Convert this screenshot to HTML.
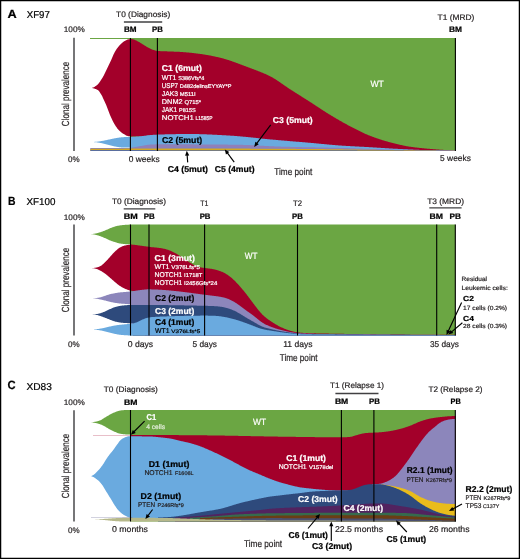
<!DOCTYPE html>
<html><head><meta charset="utf-8"><style>
html,body{margin:0;padding:0;background:#fff;}
body{width:520px;height:559px;overflow:hidden;position:relative;}
svg{position:absolute;left:0;top:0;will-change:transform;}
text{font-family:"Liberation Sans", sans-serif;text-rendering:geometricPrecision;}
</style></head><body>
<svg width="520" height="559" viewBox="0 0 520 559">
<rect x="0" y="0" width="520" height="559" fill="#fff"/>
<g shape-rendering="geometricPrecision">
<polygon points="90.00,38.00 455.50,38.00 455.50,151.00 130.00,151.00 130.00,39.10 90.00,39.10" fill="#6ba643" />
<polygon points="90.90,88.00 91.38,87.97 91.87,87.90 92.35,87.78 92.84,87.62 93.32,87.43 93.81,87.20 94.29,86.94 94.78,86.66 95.26,86.35 95.75,86.03 96.23,85.70 96.72,85.35 97.20,85.00 97.67,84.60 98.15,84.09 98.62,83.51 99.10,82.86 99.58,82.16 100.05,81.44 100.53,80.71 101.00,80.00 101.50,79.25 102.00,78.46 102.50,77.64 103.00,76.79 103.50,75.91 104.00,75.00 104.48,74.07 104.96,73.08 105.44,72.05 105.92,71.02 106.40,70.00 106.88,69.00 107.36,68.00 107.84,67.00 108.32,66.00 108.80,65.00 109.28,64.01 109.76,63.03 110.24,62.05 110.72,61.04 111.20,60.00 111.62,59.02 112.04,57.99 112.46,56.94 112.88,55.93 113.30,55.00 113.75,54.07 114.20,53.17 114.65,52.31 115.10,51.49 115.55,50.72 116.00,50.00 116.49,49.27 116.97,48.56 117.46,47.89 117.95,47.25 118.44,46.64 118.93,46.06 119.41,45.51 119.90,45.00 120.38,44.52 120.86,44.05 121.34,43.59 121.82,43.15 122.30,42.73 122.78,42.33 123.26,41.96 123.74,41.61 124.22,41.29 124.70,41.00 125.19,40.73 125.67,40.46 126.16,40.20 126.65,39.96 127.14,39.75 127.62,39.56 128.11,39.41 128.60,39.30 129.08,39.21 129.56,39.13 130.04,39.06 130.52,39.02 131.00,39.00 131.50,39.03 132.00,39.10 132.50,39.20 133.00,39.32 133.50,39.46 134.00,39.60 134.50,39.75 135.00,39.94 135.50,40.15 136.00,40.38 136.50,40.62 137.00,40.88 137.50,41.14 138.00,41.40 138.50,41.67 139.00,41.96 139.50,42.26 140.00,42.57 140.50,42.89 141.00,43.22 141.50,43.55 142.00,43.87 142.50,44.19 143.00,44.50 143.50,44.81 144.00,45.12 144.50,45.43 145.00,45.75 145.50,46.06 146.00,46.36 146.50,46.66 147.00,46.95 147.50,47.23 148.00,47.50 148.50,47.76 149.00,48.02 149.50,48.28 150.00,48.53 150.50,48.78 151.00,49.01 151.50,49.24 152.00,49.44 152.50,49.63 153.00,49.80 153.50,49.96 154.00,50.11 154.50,50.27 155.00,50.41 155.50,50.55 156.00,50.68 156.50,50.79 157.00,50.88 157.50,50.95 158.00,51.00 158.50,51.04 159.00,51.07 159.50,51.10 160.00,51.12 160.50,51.15 161.00,51.17 161.50,51.19 162.00,51.21 162.50,51.23 163.00,51.24 163.50,51.26 164.00,51.27 164.50,51.29 165.00,51.30 165.50,51.32 166.00,51.33 166.50,51.35 167.00,51.36 167.50,51.38 168.00,51.40 168.50,51.42 169.00,51.44 169.50,51.46 170.00,51.48 170.50,51.50 171.00,51.51 171.50,51.53 172.00,51.55 172.50,51.57 173.00,51.59 173.50,51.61 174.00,51.63 174.50,51.65 175.00,51.66 175.50,51.68 176.00,51.71 176.50,51.73 177.00,51.75 177.50,51.77 178.00,51.80 178.50,51.82 179.00,51.85 179.50,51.87 180.00,51.90 180.50,51.93 181.00,51.96 181.50,51.99 182.00,52.02 182.50,52.06 183.00,52.09 183.50,52.13 184.00,52.17 184.50,52.21 185.00,52.25 185.50,52.29 186.00,52.33 186.50,52.38 187.00,52.42 187.50,52.47 188.00,52.52 188.50,52.56 189.00,52.61 189.50,52.66 190.00,52.71 190.50,52.77 191.00,52.82 191.50,52.87 192.00,52.93 192.50,52.98 193.00,53.04 193.50,53.10 194.00,53.15 194.50,53.21 195.00,53.27 195.50,53.33 196.00,53.39 196.50,53.45 197.00,53.52 197.50,53.58 198.00,53.64 198.50,53.71 199.00,53.77 199.50,53.83 200.00,53.90 200.50,53.97 201.00,54.03 201.50,54.10 202.00,54.18 202.50,54.25 203.00,54.32 203.50,54.40 204.00,54.48 204.50,54.56 205.00,54.64 205.50,54.72 206.00,54.80 206.50,54.89 207.00,54.98 207.50,55.06 208.00,55.15 208.50,55.25 209.00,55.34 209.50,55.43 210.00,55.53 210.50,55.62 211.00,55.72 211.50,55.82 212.00,55.92 212.50,56.02 213.00,56.13 213.50,56.23 214.00,56.34 214.50,56.45 215.00,56.55 215.50,56.66 216.00,56.77 216.50,56.89 217.00,57.00 217.50,57.11 218.00,57.23 218.50,57.34 219.00,57.46 219.50,57.58 220.00,57.70 220.50,57.82 221.00,57.95 221.50,58.07 222.00,58.20 222.50,58.34 223.00,58.47 223.50,58.61 224.00,58.75 224.50,58.89 225.00,59.04 225.50,59.18 226.00,59.33 226.50,59.48 227.00,59.64 227.50,59.79 228.00,59.95 228.50,60.11 229.00,60.27 229.50,60.44 230.00,60.60 230.50,60.77 231.00,60.94 231.50,61.11 232.00,61.28 232.50,61.45 233.00,61.63 233.50,61.80 234.00,61.98 234.50,62.16 235.00,62.34 235.50,62.52 236.00,62.70 236.50,62.89 237.00,63.07 237.50,63.26 238.00,63.44 238.50,63.63 239.00,63.82 239.50,64.00 240.00,64.19 240.50,64.38 241.00,64.57 241.50,64.76 242.00,64.95 242.50,65.14 243.00,65.33 243.50,65.52 244.00,65.72 244.50,65.91 245.00,66.10 245.50,66.29 246.00,66.48 246.50,66.67 247.00,66.86 247.50,67.05 248.00,67.24 248.50,67.43 249.00,67.62 249.50,67.81 250.00,68.00 250.50,68.19 251.00,68.37 251.50,68.56 252.00,68.75 252.50,68.93 253.00,69.12 253.50,69.31 254.00,69.49 254.50,69.68 255.00,69.87 255.50,70.05 256.00,70.24 256.50,70.43 257.00,70.62 257.50,70.81 258.00,71.00 258.50,71.20 259.00,71.39 259.50,71.59 260.00,71.78 260.50,71.98 261.00,72.18 261.50,72.38 262.00,72.59 262.50,72.79 263.00,73.00 263.50,73.21 264.00,73.42 264.50,73.64 265.00,73.86 265.50,74.08 266.00,74.30 266.50,74.53 267.00,74.76 267.50,74.99 268.00,75.22 268.50,75.46 269.00,75.70 269.50,75.95 270.00,76.20 270.50,76.46 271.00,76.72 271.50,76.99 272.00,77.26 272.50,77.55 273.00,77.83 273.50,78.13 274.00,78.43 274.50,78.73 275.00,79.04 275.50,79.36 276.00,79.68 276.50,80.00 277.00,80.33 277.50,80.66 278.00,80.99 278.50,81.33 279.00,81.67 279.50,82.01 280.00,82.35 280.50,82.70 281.00,83.04 281.50,83.39 282.00,83.74 282.50,84.09 283.00,84.44 283.50,84.79 284.00,85.14 284.50,85.49 285.00,85.83 285.50,86.18 286.00,86.53 286.50,86.87 287.00,87.21 287.50,87.55 288.00,87.89 288.50,88.22 289.00,88.55 289.50,88.88 290.00,89.20 290.50,89.52 291.00,89.84 291.50,90.16 292.00,90.48 292.50,90.80 293.00,91.12 293.50,91.44 294.00,91.76 294.50,92.07 295.00,92.39 295.50,92.71 296.00,93.03 296.50,93.34 297.00,93.66 297.50,93.98 298.00,94.29 298.50,94.61 299.00,94.92 299.50,95.24 300.00,95.56 300.50,95.87 301.00,96.19 301.50,96.50 302.00,96.82 302.50,97.14 303.00,97.45 303.50,97.77 304.00,98.08 304.50,98.40 305.00,98.72 305.50,99.03 306.00,99.35 306.50,99.67 307.00,99.99 307.50,100.31 308.00,100.62 308.50,100.94 309.00,101.26 309.50,101.58 310.00,101.90 310.50,102.22 311.00,102.54 311.50,102.87 312.00,103.19 312.50,103.51 313.00,103.84 313.50,104.17 314.00,104.49 314.50,104.82 315.00,105.15 315.50,105.48 316.00,105.81 316.50,106.13 317.00,106.46 317.50,106.79 318.00,107.12 318.50,107.45 319.00,107.78 319.50,108.11 320.00,108.44 320.50,108.76 321.00,109.09 321.50,109.42 322.00,109.74 322.50,110.07 323.00,110.39 323.50,110.72 324.00,111.04 324.50,111.36 325.00,111.68 325.50,112.00 326.00,112.32 326.50,112.63 327.00,112.95 327.50,113.26 328.00,113.57 328.50,113.88 329.00,114.19 329.50,114.50 330.00,114.80 330.50,115.10 331.00,115.40 331.50,115.71 332.00,116.01 332.50,116.31 333.00,116.60 333.50,116.90 334.00,117.20 334.50,117.50 335.00,117.79 335.50,118.09 336.00,118.39 336.50,118.68 337.00,118.97 337.50,119.26 338.00,119.56 338.50,119.85 339.00,120.13 339.50,120.42 340.00,120.71 340.50,121.00 341.00,121.28 341.50,121.57 342.00,121.85 342.50,122.13 343.00,122.41 343.50,122.69 344.00,122.97 344.50,123.24 345.00,123.52 345.50,123.79 346.00,124.07 346.50,124.34 347.00,124.61 347.50,124.88 348.00,125.15 348.50,125.41 349.00,125.68 349.50,125.94 350.00,126.20 350.50,126.46 351.00,126.72 351.50,126.98 352.00,127.24 352.50,127.50 353.00,127.76 353.50,128.02 354.00,128.28 354.50,128.54 355.00,128.80 355.50,129.06 356.00,129.32 356.50,129.57 357.00,129.83 357.50,130.08 358.00,130.34 358.50,130.59 359.00,130.84 359.50,131.09 360.00,131.33 360.50,131.58 361.00,131.82 361.50,132.07 362.00,132.31 362.50,132.54 363.00,132.78 363.50,133.01 364.00,133.24 364.50,133.47 365.00,133.70 365.50,133.92 366.00,134.14 366.50,134.36 367.00,134.58 367.50,134.79 368.00,135.00 368.50,135.20 369.00,135.41 369.50,135.60 370.00,135.80 370.50,135.99 371.00,136.18 371.50,136.37 372.00,136.56 372.50,136.75 373.00,136.93 373.50,137.12 374.00,137.30 374.50,137.48 375.00,137.66 375.50,137.84 376.00,138.01 376.50,138.19 377.00,138.36 377.50,138.53 378.00,138.70 378.50,138.87 379.00,139.03 379.50,139.20 380.00,139.36 380.50,139.52 381.00,139.68 381.50,139.84 382.00,140.00 382.50,140.16 383.00,140.31 383.50,140.46 384.00,140.61 384.50,140.76 385.00,140.91 385.50,141.06 386.00,141.20 386.50,141.34 387.00,141.48 387.50,141.62 388.00,141.76 388.50,141.90 389.00,142.03 389.50,142.17 390.00,142.30 390.50,142.43 391.00,142.56 391.50,142.69 392.00,142.82 392.50,142.95 393.00,143.08 393.50,143.21 394.00,143.34 394.50,143.46 395.00,143.59 395.50,143.71 396.00,143.84 396.50,143.96 397.00,144.08 397.50,144.20 398.00,144.32 398.50,144.44 399.00,144.56 399.50,144.67 400.00,144.79 400.50,144.90 401.00,145.01 401.50,145.12 402.00,145.23 402.50,145.34 403.00,145.44 403.50,145.55 404.00,145.65 404.50,145.75 405.00,145.85 405.50,145.94 406.00,146.03 406.50,146.13 407.00,146.22 407.50,146.30 408.00,146.39 408.50,146.47 409.00,146.55 409.50,146.63 410.00,146.70 410.50,146.77 411.00,146.84 411.50,146.91 412.00,146.98 412.50,147.05 413.00,147.12 413.50,147.18 414.00,147.25 414.50,147.31 415.00,147.38 415.50,147.44 416.00,147.50 416.50,147.56 417.00,147.62 417.50,147.68 418.00,147.73 418.50,147.79 419.00,147.84 419.50,147.90 420.00,147.95 420.50,148.01 421.00,148.06 421.50,148.11 422.00,148.16 422.50,148.21 423.00,148.26 423.50,148.31 424.00,148.36 424.50,148.41 425.00,148.45 425.50,148.50 426.00,148.55 426.50,148.59 427.00,148.64 427.50,148.68 428.00,148.73 428.50,148.77 429.00,148.81 429.50,148.86 430.00,148.90 430.50,148.94 431.00,148.98 431.50,149.03 432.00,149.07 432.50,149.11 433.00,149.15 433.50,149.19 434.00,149.23 434.50,149.26 435.00,149.30 435.50,149.34 436.00,149.38 436.50,149.42 437.00,149.45 437.50,149.49 438.00,149.52 438.50,149.56 439.00,149.59 439.50,149.63 440.00,149.66 440.50,149.70 441.00,149.73 441.50,149.77 442.00,149.80 442.50,149.83 443.00,149.86 443.50,149.90 444.00,149.93 444.50,149.96 445.00,149.99 445.50,150.02 446.00,150.06 446.50,150.09 447.00,150.12 447.50,150.15 448.00,150.18 448.50,150.21 449.00,150.24 449.50,150.27 450.00,150.30 450.50,150.33 451.00,150.36 451.50,150.39 452.00,150.41 452.50,150.44 453.00,150.47 453.50,150.49 454.00,150.52 454.50,150.55 455.00,150.57 455.50,150.60 455.50,151.00 150.00,151.00 150.00,135.40 149.50,135.46 149.00,135.53 148.50,135.60 148.00,135.68 147.50,135.76 147.00,135.84 146.50,135.92 146.00,136.00 145.50,136.07 145.00,136.15 144.50,136.22 144.00,136.29 143.50,136.36 143.00,136.42 142.50,136.47 142.00,136.51 141.50,136.55 141.00,136.58 140.50,136.59 140.00,136.60 139.50,136.60 139.01,136.60 138.51,136.59 138.02,136.59 137.52,136.58 137.03,136.57 136.53,136.57 136.03,136.55 135.54,136.54 135.04,136.53 134.55,136.51 134.05,136.50 133.56,136.48 133.06,136.46 132.57,136.44 132.07,136.41 131.57,136.39 131.08,136.36 130.58,136.33 130.09,136.30 129.59,136.27 129.10,136.24 128.60,136.20 128.11,136.13 127.62,136.02 127.13,135.85 126.64,135.64 126.15,135.41 125.66,135.15 125.17,134.87 124.68,134.58 124.19,134.29 123.70,134.00 123.20,133.70 122.70,133.38 122.20,133.03 121.70,132.67 121.20,132.28 120.70,131.87 120.20,131.43 119.70,130.98 119.20,130.50 118.70,130.00 118.24,129.50 117.78,128.96 117.31,128.38 116.85,127.76 116.39,127.10 115.92,126.42 115.46,125.72 115.00,125.00 114.55,124.26 114.10,123.47 113.65,122.64 113.20,121.78 112.75,120.90 112.30,120.00 111.84,119.07 111.38,118.10 110.92,117.11 110.46,116.08 110.00,115.00 109.53,113.82 109.05,112.56 108.57,111.27 108.10,110.00 107.62,108.73 107.15,107.44 106.67,106.18 106.20,105.00 105.74,103.93 105.28,102.92 104.82,101.94 104.36,100.97 103.90,100.00 103.42,98.95 102.94,97.88 102.46,96.84 101.98,95.86 101.50,95.00 101.03,94.22 100.55,93.43 100.08,92.68 99.60,91.96 99.12,91.32 98.65,90.76 98.17,90.32 97.70,90.00 97.21,89.76 96.73,89.52 96.24,89.30 95.76,89.10 95.27,88.90 94.79,88.73 94.30,88.57 93.81,88.42 93.33,88.30 92.84,88.19 92.36,88.11 91.87,88.05 91.39,88.01 90.90,88.00" fill="#a3002a" />
<polygon points="90.30,142.00 90.80,142.00 91.29,141.99 91.79,141.99 92.28,141.98 92.78,141.96 93.28,141.94 93.77,141.92 94.27,141.90 94.76,141.87 95.26,141.84 95.76,141.80 96.25,141.76 96.75,141.71 97.24,141.66 97.74,141.61 98.24,141.55 98.73,141.49 99.23,141.42 99.72,141.35 100.22,141.28 100.72,141.20 101.21,141.12 101.71,141.04 102.21,140.95 102.70,140.86 103.20,140.76 103.69,140.67 104.19,140.57 104.69,140.47 105.18,140.37 105.68,140.26 106.17,140.16 106.67,140.05 107.17,139.94 107.66,139.83 108.16,139.72 108.65,139.61 109.15,139.50 109.65,139.39 110.14,139.28 110.64,139.17 111.13,139.06 111.63,138.95 112.13,138.84 112.62,138.74 113.12,138.63 113.61,138.53 114.11,138.43 114.61,138.33 115.10,138.24 115.60,138.14 116.09,138.05 116.59,137.96 117.09,137.88 117.58,137.80 118.08,137.72 118.58,137.65 119.07,137.58 119.57,137.51 120.06,137.45 120.56,137.39 121.06,137.34 121.55,137.29 122.05,137.24 122.54,137.20 123.04,137.16 123.54,137.13 124.03,137.10 124.53,137.08 125.02,137.06 125.52,137.04 126.02,137.02 126.51,137.01 127.01,137.01 127.50,137.00 128.00,137.00 128.50,137.00 129.00,136.99 129.50,136.98 130.00,136.97 130.50,136.95 131.00,136.94 131.50,136.91 132.00,136.89 132.50,136.86 133.00,136.83 133.50,136.80 134.00,136.77 134.50,136.73 135.00,136.70 135.50,136.66 136.00,136.62 136.50,136.58 137.00,136.54 137.50,136.50 138.00,136.46 138.50,136.42 139.00,136.38 139.50,136.34 140.00,136.30 140.50,136.26 141.00,136.21 141.50,136.16 142.00,136.10 142.50,136.04 143.00,135.97 143.50,135.91 144.00,135.84 144.50,135.77 145.00,135.70 145.50,135.63 146.00,135.56 146.50,135.49 147.00,135.43 147.50,135.36 148.00,135.30 148.50,135.24 149.00,135.19 149.50,135.14 150.00,135.10 150.50,135.06 151.00,135.02 151.50,134.98 152.00,134.94 152.50,134.91 153.00,134.87 153.50,134.84 154.00,134.80 154.50,134.77 155.00,134.74 155.50,134.71 156.00,134.68 156.50,134.65 157.00,134.62 157.50,134.60 158.00,134.57 158.50,134.55 159.00,134.53 159.50,134.52 160.00,134.50 160.50,134.49 161.00,134.47 161.50,134.46 162.00,134.44 162.50,134.43 163.00,134.42 163.50,134.40 164.00,134.39 164.50,134.38 165.00,134.36 165.50,134.35 166.00,134.34 166.50,134.32 167.00,134.31 167.50,134.30 168.00,134.29 168.50,134.28 169.00,134.26 169.50,134.25 170.00,134.24 170.50,134.23 171.00,134.22 171.50,134.21 172.00,134.20 172.50,134.19 173.00,134.18 173.50,134.17 174.00,134.16 174.50,134.15 175.00,134.14 175.50,134.13 176.00,134.12 176.50,134.12 177.00,134.11 177.50,134.10 178.00,134.09 178.50,134.09 179.00,134.08 179.50,134.07 180.00,134.07 180.50,134.06 181.00,134.05 181.50,134.05 182.00,134.04 182.50,134.04 183.00,134.03 183.50,134.03 184.00,134.02 184.50,134.02 185.00,134.02 185.50,134.01 186.00,134.01 186.50,134.01 187.00,134.01 187.50,134.00 188.00,134.00 188.50,134.00 189.00,134.00 189.50,134.00 190.00,134.00 190.50,134.00 191.00,134.00 191.50,134.00 192.00,134.01 192.50,134.01 193.00,134.01 193.50,134.02 194.00,134.02 194.50,134.03 195.00,134.04 195.50,134.05 196.00,134.05 196.50,134.06 197.00,134.07 197.50,134.08 198.00,134.09 198.50,134.11 199.00,134.12 199.50,134.13 200.00,134.14 200.50,134.16 201.00,134.17 201.50,134.19 202.00,134.20 202.50,134.22 203.00,134.24 203.50,134.25 204.00,134.27 204.50,134.29 205.00,134.31 205.50,134.33 206.00,134.35 206.50,134.37 207.00,134.39 207.50,134.41 208.00,134.43 208.50,134.45 209.00,134.47 209.50,134.49 210.00,134.52 210.50,134.54 211.00,134.56 211.50,134.59 212.00,134.61 212.50,134.64 213.00,134.66 213.50,134.69 214.00,134.71 214.50,134.74 215.00,134.76 215.50,134.79 216.00,134.81 216.50,134.84 217.00,134.87 217.50,134.89 218.00,134.92 218.50,134.95 219.00,134.98 219.50,135.00 220.00,135.03 220.50,135.06 221.00,135.09 221.50,135.12 222.00,135.14 222.50,135.17 223.00,135.20 223.50,135.23 224.00,135.26 224.50,135.29 225.00,135.31 225.50,135.34 226.00,135.37 226.50,135.40 227.00,135.43 227.50,135.46 228.00,135.49 228.50,135.51 229.00,135.54 229.50,135.57 230.00,135.60 230.50,135.63 231.00,135.66 231.50,135.69 232.00,135.72 232.50,135.76 233.00,135.79 233.50,135.82 234.00,135.86 234.50,135.90 235.00,135.94 235.50,135.97 236.00,136.01 236.50,136.05 237.00,136.10 237.50,136.14 238.00,136.18 238.50,136.22 239.00,136.27 239.50,136.31 240.00,136.35 240.50,136.40 241.00,136.44 241.50,136.49 242.00,136.54 242.50,136.58 243.00,136.63 243.50,136.68 244.00,136.72 244.50,136.77 245.00,136.82 245.50,136.87 246.00,136.92 246.50,136.96 247.00,137.01 247.50,137.06 248.00,137.11 248.50,137.16 249.00,137.20 249.50,137.25 250.00,137.30 250.50,137.35 251.00,137.40 251.50,137.45 252.00,137.50 252.50,137.55 253.00,137.60 253.50,137.65 254.00,137.71 254.50,137.76 255.00,137.82 255.50,137.87 256.00,137.93 256.50,137.98 257.00,138.04 257.50,138.09 258.00,138.15 258.50,138.21 259.00,138.26 259.50,138.32 260.00,138.37 260.50,138.43 261.00,138.48 261.50,138.54 262.00,138.59 262.50,138.64 263.00,138.70 263.50,138.75 264.00,138.80 264.50,138.85 265.00,138.90 265.50,138.95 266.00,139.00 266.50,139.05 267.00,139.09 267.50,139.14 268.00,139.19 268.50,139.24 269.00,139.28 269.50,139.33 270.00,139.38 270.50,139.42 271.00,139.47 271.50,139.51 272.00,139.56 272.50,139.60 273.00,139.65 273.50,139.69 274.00,139.74 274.50,139.78 275.00,139.83 275.50,139.87 276.00,139.92 276.50,139.96 277.00,140.00 277.50,140.05 278.00,140.09 278.50,140.14 279.00,140.18 279.50,140.22 280.00,140.27 280.50,140.31 281.00,140.35 281.50,140.40 282.00,140.44 282.50,140.48 283.00,140.53 283.50,140.57 284.00,140.61 284.50,140.66 285.00,140.70 285.50,140.74 286.00,140.79 286.50,140.83 287.00,140.87 287.50,140.92 288.00,140.96 288.50,141.00 289.00,141.04 289.50,141.09 290.00,141.13 290.50,141.17 291.00,141.21 291.50,141.25 292.00,141.29 292.50,141.34 293.00,141.38 293.50,141.42 294.00,141.46 294.50,141.50 295.00,141.54 295.50,141.59 296.00,141.63 296.50,141.67 297.00,141.71 297.50,141.75 298.00,141.79 298.50,141.83 299.00,141.87 299.50,141.92 300.00,141.96 300.50,142.00 301.00,142.04 301.50,142.08 302.00,142.12 302.50,142.16 303.00,142.21 303.50,142.25 304.00,142.29 304.50,142.33 305.00,142.37 305.50,142.42 306.00,142.46 306.50,142.50 307.00,142.54 307.50,142.58 308.00,142.63 308.50,142.67 309.00,142.71 309.50,142.76 310.00,142.80 310.50,142.84 311.00,142.89 311.50,142.93 312.00,142.98 312.50,143.02 313.00,143.07 313.50,143.11 314.00,143.16 314.50,143.21 315.00,143.25 315.50,143.30 316.00,143.35 316.50,143.39 317.00,143.44 317.50,143.49 318.00,143.54 318.50,143.59 319.00,143.63 319.50,143.68 320.00,143.73 320.50,143.78 321.00,143.83 321.50,143.88 322.00,143.93 322.50,143.97 323.00,144.02 323.50,144.07 324.00,144.12 324.50,144.17 325.00,144.21 325.50,144.26 326.00,144.31 326.50,144.36 327.00,144.41 327.50,144.45 328.00,144.50 328.50,144.55 329.00,144.59 329.50,144.64 330.00,144.68 330.50,144.73 331.00,144.77 331.50,144.82 332.00,144.86 332.50,144.91 333.00,144.95 333.50,144.99 334.00,145.04 334.50,145.08 335.00,145.12 335.50,145.16 336.00,145.20 336.50,145.24 337.00,145.28 337.50,145.32 338.00,145.36 338.50,145.39 339.00,145.43 339.50,145.46 340.00,145.50 340.50,145.53 341.00,145.57 341.50,145.60 342.00,145.64 342.50,145.67 343.00,145.70 343.50,145.73 344.00,145.76 344.50,145.80 345.00,145.83 345.50,145.86 346.00,145.89 346.50,145.92 347.00,145.95 347.50,145.98 348.00,146.01 348.50,146.04 349.00,146.06 349.50,146.09 350.00,146.12 350.50,146.15 351.00,146.18 351.50,146.20 352.00,146.23 352.50,146.26 353.00,146.29 353.50,146.31 354.00,146.34 354.50,146.37 355.00,146.39 355.50,146.42 356.00,146.45 356.50,146.47 357.00,146.50 357.50,146.52 358.00,146.55 358.50,146.58 359.00,146.60 359.50,146.63 360.00,146.65 360.50,146.68 361.00,146.71 361.50,146.73 362.00,146.76 362.50,146.79 363.00,146.81 363.50,146.84 364.00,146.87 364.50,146.89 365.00,146.92 365.50,146.95 366.00,146.97 366.50,147.00 367.00,147.03 367.50,147.06 368.00,147.09 368.50,147.11 369.00,147.14 369.50,147.17 370.00,147.20 370.50,147.23 371.00,147.26 371.50,147.29 372.00,147.32 372.50,147.35 373.00,147.38 373.50,147.41 374.00,147.44 374.50,147.47 375.00,147.50 375.50,147.53 376.00,147.56 376.50,147.60 377.00,147.63 377.50,147.66 378.00,147.69 378.50,147.72 379.00,147.76 379.50,147.79 380.00,147.82 380.50,147.85 381.00,147.88 381.50,147.92 382.00,147.95 382.50,147.98 383.00,148.01 383.50,148.04 384.00,148.07 384.50,148.11 385.00,148.14 385.50,148.17 386.00,148.20 386.50,148.23 387.00,148.26 387.50,148.30 388.00,148.33 388.50,148.36 389.00,148.39 389.50,148.42 390.00,148.45 390.50,148.48 391.00,148.51 391.50,148.54 392.00,148.57 392.50,148.60 393.00,148.63 393.50,148.66 394.00,148.68 394.50,148.71 395.00,148.74 395.50,148.77 396.00,148.80 396.50,148.82 397.00,148.85 397.50,148.87 398.00,148.90 398.50,148.93 399.00,148.95 399.50,148.98 400.00,149.00 400.50,149.02 401.00,149.05 401.50,149.07 402.00,149.10 402.50,149.12 403.00,149.14 403.50,149.17 404.00,149.19 404.50,149.22 405.00,149.24 405.50,149.26 406.00,149.29 406.50,149.31 407.00,149.34 407.50,149.36 408.00,149.38 408.50,149.41 409.00,149.43 409.50,149.45 410.00,149.47 410.50,149.50 411.00,149.52 411.50,149.54 412.00,149.57 412.50,149.59 413.00,149.61 413.50,149.63 414.00,149.65 414.50,149.68 415.00,149.70 415.50,149.72 416.00,149.74 416.50,149.76 417.00,149.78 417.50,149.80 418.00,149.82 418.50,149.84 419.00,149.86 419.50,149.88 420.00,149.90 420.50,149.92 421.00,149.93 421.50,149.95 422.00,149.97 422.50,149.99 423.00,150.00 423.50,150.02 424.00,150.04 424.50,150.05 425.00,150.07 425.50,150.08 426.00,150.10 426.50,150.11 427.00,150.13 427.50,150.14 428.00,150.15 428.50,150.16 429.00,150.18 429.50,150.19 430.00,150.20 430.50,150.21 431.00,150.22 431.50,150.23 432.00,150.24 432.50,150.25 433.00,150.26 433.50,150.27 434.00,150.28 434.50,150.29 435.00,150.30 435.50,150.31 436.00,150.32 436.50,150.33 437.00,150.33 437.50,150.34 438.00,150.35 438.50,150.36 439.00,150.37 439.50,150.37 440.00,150.38 440.50,150.39 441.00,150.40 441.50,150.40 442.00,150.41 442.50,150.42 443.00,150.42 443.50,150.43 444.00,150.44 444.50,150.45 445.00,150.45 445.50,150.46 446.00,150.47 446.50,150.47 447.00,150.48 447.50,150.49 448.00,150.49 448.50,150.50 449.00,150.51 449.50,150.51 450.00,150.52 450.50,150.53 451.00,150.53 451.50,150.54 452.00,150.55 452.50,150.55 453.00,150.56 453.50,150.57 454.00,150.58 454.50,150.58 455.00,150.59 455.50,150.60 455.50,151.00 130.00,151.00 130.00,147.60 129.50,147.60 129.00,147.60 128.50,147.60 128.00,147.60 127.50,147.60 127.00,147.60 126.50,147.60 126.00,147.60 125.50,147.60 125.01,147.59 124.51,147.58 124.02,147.57 123.52,147.55 123.03,147.53 122.53,147.50 122.03,147.47 121.54,147.43 121.04,147.39 120.55,147.35 120.05,147.29 119.55,147.24 119.06,147.17 118.56,147.11 118.07,147.03 117.57,146.96 117.08,146.87 116.58,146.79 116.08,146.69 115.59,146.60 115.09,146.50 114.60,146.39 114.10,146.29 113.60,146.18 113.11,146.06 112.61,145.94 112.12,145.82 111.62,145.70 111.12,145.58 110.63,145.45 110.13,145.32 109.64,145.19 109.14,145.06 108.65,144.93 108.15,144.80 107.65,144.67 107.16,144.54 106.66,144.41 106.17,144.28 105.67,144.15 105.17,144.02 104.68,143.90 104.18,143.78 103.69,143.66 103.19,143.54 102.70,143.42 102.20,143.31 101.70,143.21 101.21,143.10 100.71,143.00 100.22,142.91 99.72,142.81 99.22,142.73 98.73,142.64 98.23,142.57 97.74,142.49 97.24,142.43 96.75,142.36 96.25,142.31 95.75,142.25 95.26,142.21 94.76,142.17 94.27,142.13 93.77,142.10 93.27,142.07 92.78,142.05 92.28,142.03 91.79,142.02 91.29,142.01 90.80,142.00 90.30,142.00" fill="#6aaadf" />
<polygon points="90.50,147.90 91.00,147.90 91.50,147.90 92.00,147.90 92.50,147.90 93.00,147.90 93.50,147.90 94.00,147.90 94.50,147.90 95.00,147.90 95.50,147.90 96.00,147.90 96.50,147.90 97.00,147.90 97.50,147.90 98.00,147.90 98.50,147.90 99.00,147.90 99.50,147.90 100.00,147.90 100.50,147.90 101.00,147.90 101.50,147.90 102.00,147.90 102.50,147.90 103.00,147.90 103.50,147.90 104.00,147.90 104.50,147.90 105.00,147.90 105.50,147.90 106.00,147.90 106.50,147.90 107.00,147.90 107.50,147.90 108.00,147.90 108.50,147.90 109.00,147.90 109.50,147.90 110.00,147.90 110.50,147.90 111.00,147.90 111.50,147.90 112.00,147.90 112.50,147.90 113.00,147.90 113.50,147.90 114.00,147.90 114.50,147.90 115.00,147.90 115.50,147.90 116.00,147.90 116.50,147.90 117.00,147.90 117.50,147.90 118.00,147.90 118.50,147.90 119.00,147.90 119.50,147.90 120.00,147.90 120.50,147.90 121.00,147.90 121.50,147.90 122.00,147.90 122.50,147.90 123.00,147.90 123.50,147.90 124.00,147.90 124.50,147.90 125.00,147.90 125.50,147.90 126.00,147.90 126.50,147.90 127.00,147.90 127.50,147.90 128.00,147.90 128.50,147.89 129.00,147.88 129.50,147.85 130.00,147.82 130.50,147.77 131.00,147.72 131.50,147.66 132.00,147.59 132.50,147.52 133.00,147.44 133.50,147.36 134.00,147.28 134.50,147.19 135.00,147.10 135.50,147.00 136.00,146.91 136.50,146.81 137.00,146.72 137.50,146.63 138.00,146.54 138.50,146.45 139.00,146.36 139.50,146.28 140.00,146.20 140.50,146.12 141.00,146.04 141.50,145.95 142.00,145.86 142.50,145.76 143.00,145.66 143.50,145.57 144.00,145.47 144.50,145.37 145.00,145.27 145.50,145.18 146.00,145.09 146.50,145.01 147.00,144.93 147.50,144.85 148.00,144.78 148.50,144.72 149.00,144.67 149.50,144.63 150.00,144.60 150.50,144.58 151.00,144.55 151.50,144.53 152.00,144.50 152.50,144.48 153.00,144.46 153.50,144.44 154.00,144.42 154.50,144.40 155.00,144.39 155.50,144.37 156.00,144.36 156.50,144.34 157.00,144.33 157.50,144.32 158.00,144.32 158.50,144.31 159.00,144.30 159.50,144.30 160.00,144.30 160.50,144.30 161.00,144.30 161.50,144.30 162.00,144.30 162.50,144.30 163.00,144.30 163.50,144.30 164.00,144.30 164.50,144.30 165.00,144.30 165.50,144.30 166.00,144.30 166.50,144.30 167.00,144.30 167.50,144.30 168.00,144.31 168.50,144.31 169.00,144.31 169.50,144.31 170.00,144.31 170.50,144.31 171.00,144.31 171.50,144.31 172.00,144.31 172.50,144.31 173.00,144.31 173.50,144.31 174.00,144.32 174.50,144.32 175.00,144.32 175.50,144.32 176.00,144.32 176.50,144.32 177.00,144.32 177.50,144.32 178.00,144.32 178.50,144.33 179.00,144.33 179.50,144.33 180.00,144.33 180.50,144.33 181.00,144.33 181.50,144.33 182.00,144.34 182.50,144.34 183.00,144.34 183.50,144.34 184.00,144.34 184.50,144.34 185.00,144.34 185.50,144.35 186.00,144.35 186.50,144.35 187.00,144.35 187.50,144.35 188.00,144.35 188.50,144.36 189.00,144.36 189.50,144.36 190.00,144.36 190.50,144.36 191.00,144.37 191.50,144.37 192.00,144.37 192.50,144.37 193.00,144.37 193.50,144.37 194.00,144.38 194.50,144.38 195.00,144.38 195.50,144.38 196.00,144.38 196.50,144.39 197.00,144.39 197.50,144.39 198.00,144.39 198.50,144.39 199.00,144.40 199.50,144.40 200.00,144.40 200.50,144.40 201.00,144.40 201.50,144.41 202.00,144.41 202.50,144.41 203.00,144.41 203.50,144.42 204.00,144.42 204.50,144.42 205.00,144.42 205.50,144.43 206.00,144.43 206.50,144.43 207.00,144.43 207.50,144.44 208.00,144.44 208.50,144.44 209.00,144.45 209.50,144.45 210.00,144.45 210.50,144.46 211.00,144.46 211.50,144.46 212.00,144.47 212.50,144.47 213.00,144.48 213.50,144.48 214.00,144.48 214.50,144.49 215.00,144.49 215.50,144.50 216.00,144.50 216.50,144.51 217.00,144.51 217.50,144.51 218.00,144.52 218.50,144.52 219.00,144.53 219.50,144.53 220.00,144.54 220.50,144.54 221.00,144.55 221.50,144.55 222.00,144.56 222.50,144.56 223.00,144.57 223.50,144.57 224.00,144.58 224.50,144.59 225.00,144.59 225.50,144.60 226.00,144.60 226.50,144.61 227.00,144.62 227.50,144.62 228.00,144.63 228.50,144.63 229.00,144.64 229.50,144.65 230.00,144.65 230.50,144.66 231.00,144.67 231.50,144.67 232.00,144.68 232.50,144.69 233.00,144.69 233.50,144.70 234.00,144.71 234.50,144.72 235.00,144.72 235.50,144.73 236.00,144.74 236.50,144.74 237.00,144.75 237.50,144.76 238.00,144.77 238.50,144.78 239.00,144.78 239.50,144.79 240.00,144.80 240.50,144.81 241.00,144.82 241.50,144.83 242.00,144.84 242.50,144.85 243.00,144.86 243.50,144.88 244.00,144.89 244.50,144.91 245.00,144.92 245.50,144.94 246.00,144.96 246.50,144.98 247.00,144.99 247.50,145.01 248.00,145.03 248.50,145.05 249.00,145.07 249.50,145.10 250.00,145.12 250.50,145.14 251.00,145.16 251.50,145.19 252.00,145.21 252.50,145.23 253.00,145.26 253.50,145.28 254.00,145.31 254.50,145.33 255.00,145.36 255.50,145.39 256.00,145.41 256.50,145.44 257.00,145.47 257.50,145.49 258.00,145.52 258.50,145.55 259.00,145.58 259.50,145.60 260.00,145.63 260.50,145.66 261.00,145.69 261.50,145.72 262.00,145.74 262.50,145.77 263.00,145.80 263.50,145.83 264.00,145.86 264.50,145.88 265.00,145.91 265.50,145.94 266.00,145.97 266.50,146.00 267.00,146.02 267.50,146.05 268.00,146.08 268.50,146.10 269.00,146.13 269.50,146.16 270.00,146.18 270.50,146.21 271.00,146.23 271.50,146.26 272.00,146.28 272.50,146.30 273.00,146.33 273.50,146.35 274.00,146.37 274.50,146.40 275.00,146.42 275.50,146.44 276.00,146.46 276.50,146.48 277.00,146.50 277.50,146.52 278.00,146.53 278.50,146.55 279.00,146.57 279.50,146.58 280.00,146.60 280.50,146.61 281.00,146.63 281.50,146.64 282.00,146.66 282.50,146.67 283.00,146.69 283.50,146.70 284.00,146.71 284.50,146.73 285.00,146.74 285.50,146.75 286.00,146.77 286.50,146.78 287.00,146.79 287.50,146.81 288.00,146.82 288.50,146.83 289.00,146.84 289.50,146.86 290.00,146.87 290.50,146.88 291.00,146.89 291.50,146.90 292.00,146.92 292.50,146.93 293.00,146.94 293.50,146.95 294.00,146.96 294.50,146.97 295.00,146.98 295.50,146.99 296.00,147.01 296.50,147.02 297.00,147.03 297.50,147.04 298.00,147.05 298.50,147.06 299.00,147.07 299.50,147.08 300.00,147.09 300.50,147.10 301.00,147.11 301.50,147.12 302.00,147.13 302.50,147.14 303.00,147.15 303.50,147.16 304.00,147.17 304.50,147.18 305.00,147.19 305.50,147.20 306.00,147.21 306.50,147.22 307.00,147.23 307.50,147.23 308.00,147.24 308.50,147.25 309.00,147.26 309.50,147.27 310.00,147.28 310.50,147.29 311.00,147.30 311.50,147.31 312.00,147.32 312.50,147.33 313.00,147.34 313.50,147.35 314.00,147.36 314.50,147.36 315.00,147.37 315.50,147.38 316.00,147.39 316.50,147.40 317.00,147.41 317.50,147.42 318.00,147.43 318.50,147.44 319.00,147.45 319.50,147.46 320.00,147.47 320.50,147.48 321.00,147.49 321.50,147.50 322.00,147.51 322.50,147.52 323.00,147.52 323.50,147.53 324.00,147.54 324.50,147.55 325.00,147.56 325.50,147.57 326.00,147.58 326.50,147.59 327.00,147.60 327.50,147.61 328.00,147.62 328.50,147.64 329.00,147.65 329.50,147.66 330.00,147.67 330.50,147.68 331.00,147.69 331.50,147.70 332.00,147.71 332.50,147.72 333.00,147.73 333.50,147.74 334.00,147.75 334.50,147.77 335.00,147.78 335.50,147.79 336.00,147.80 336.50,147.81 337.00,147.83 337.50,147.84 338.00,147.85 338.50,147.86 339.00,147.87 339.50,147.89 340.00,147.90 340.50,147.91 341.00,147.93 341.50,147.94 342.00,147.95 342.50,147.97 343.00,147.98 343.50,147.99 344.00,148.01 344.50,148.02 345.00,148.04 345.50,148.05 346.00,148.07 346.50,148.08 347.00,148.10 347.50,148.11 348.00,148.13 348.50,148.14 349.00,148.16 349.50,148.17 350.00,148.19 350.50,148.21 351.00,148.22 351.50,148.24 352.00,148.25 352.50,148.27 353.00,148.29 353.50,148.30 354.00,148.32 354.50,148.34 355.00,148.35 355.50,148.37 356.00,148.39 356.50,148.40 357.00,148.42 357.50,148.44 358.00,148.46 358.50,148.47 359.00,148.49 359.50,148.51 360.00,148.53 360.50,148.54 361.00,148.56 361.50,148.58 362.00,148.60 362.50,148.61 363.00,148.63 363.50,148.65 364.00,148.67 364.50,148.69 365.00,148.70 365.50,148.72 366.00,148.74 366.50,148.76 367.00,148.78 367.50,148.79 368.00,148.81 368.50,148.83 369.00,148.85 369.50,148.86 370.00,148.88 370.50,148.90 371.00,148.92 371.50,148.94 372.00,148.95 372.50,148.97 373.00,148.99 373.50,149.01 374.00,149.02 374.50,149.04 375.00,149.06 375.50,149.08 376.00,149.09 376.50,149.11 377.00,149.13 377.50,149.15 378.00,149.16 378.50,149.18 379.00,149.20 379.50,149.22 380.00,149.23 380.50,149.25 381.00,149.27 381.50,149.28 382.00,149.30 382.50,149.31 383.00,149.33 383.50,149.35 384.00,149.36 384.50,149.38 385.00,149.40 385.50,149.41 386.00,149.43 386.50,149.44 387.00,149.46 387.50,149.47 388.00,149.49 388.50,149.50 389.00,149.52 389.50,149.53 390.00,149.55 390.50,149.56 391.00,149.58 391.50,149.59 392.00,149.60 392.50,149.62 393.00,149.63 393.50,149.64 394.00,149.66 394.50,149.67 395.00,149.68 395.50,149.70 396.00,149.71 396.50,149.72 397.00,149.73 397.50,149.74 398.00,149.76 398.50,149.77 399.00,149.78 399.50,149.79 400.00,149.80 400.50,149.81 401.00,149.82 401.50,149.83 402.00,149.84 402.50,149.85 403.00,149.86 403.50,149.87 404.00,149.88 404.50,149.89 405.00,149.90 405.50,149.91 406.00,149.92 406.50,149.93 407.00,149.94 407.50,149.95 408.00,149.96 408.50,149.97 409.00,149.98 409.50,149.99 410.00,150.00 410.50,150.01 411.00,150.01 411.50,150.02 412.00,150.03 412.50,150.04 413.00,150.05 413.50,150.06 414.00,150.07 414.50,150.08 415.00,150.08 415.50,150.09 416.00,150.10 416.50,150.11 417.00,150.12 417.50,150.13 418.00,150.13 418.50,150.14 419.00,150.15 419.50,150.16 420.00,150.17 420.50,150.17 421.00,150.18 421.50,150.19 422.00,150.20 422.50,150.21 423.00,150.21 423.50,150.22 424.00,150.23 424.50,150.24 425.00,150.24 425.50,150.25 426.00,150.26 426.50,150.27 427.00,150.27 427.50,150.28 428.00,150.29 428.50,150.30 429.00,150.30 429.50,150.31 430.00,150.32 430.50,150.33 431.00,150.33 431.50,150.34 432.00,150.35 432.50,150.36 433.00,150.36 433.50,150.37 434.00,150.38 434.50,150.38 435.00,150.39 435.50,150.40 436.00,150.41 436.50,150.41 437.00,150.42 437.50,150.43 438.00,150.44 438.50,150.44 439.00,150.45 439.50,150.46 440.00,150.46 440.50,150.47 441.00,150.48 441.50,150.49 442.00,150.49 442.50,150.50 443.00,150.51 443.50,150.52 444.00,150.52 444.50,150.53 445.00,150.54 445.50,150.55 446.00,150.55 446.50,150.56 447.00,150.57 447.50,150.58 448.00,150.58 448.50,150.59 449.00,150.60 449.50,150.61 450.00,150.61 450.50,150.62 451.00,150.63 451.50,150.64 452.00,150.64 452.50,150.65 453.00,150.66 453.50,150.67 454.00,150.68 454.50,150.68 455.00,150.69 455.50,150.70 455.50,151.00 90.50,151.00" fill="#9080b8" />
<polygon points="90.50,148.30 91.00,148.30 91.50,148.30 92.00,148.29 92.50,148.29 93.00,148.29 93.50,148.29 94.00,148.29 94.50,148.28 95.00,148.28 95.50,148.28 96.00,148.28 96.50,148.28 97.00,148.28 97.50,148.27 98.00,148.27 98.50,148.27 99.00,148.27 99.50,148.27 100.00,148.26 100.50,148.26 101.00,148.26 101.50,148.26 102.00,148.26 102.50,148.26 103.00,148.25 103.50,148.25 104.00,148.25 104.50,148.25 105.00,148.25 105.50,148.25 106.00,148.24 106.50,148.24 107.00,148.24 107.50,148.24 108.00,148.24 108.50,148.24 109.00,148.23 109.50,148.23 110.00,148.23 110.50,148.23 111.00,148.23 111.50,148.23 112.00,148.22 112.50,148.22 113.00,148.22 113.50,148.22 114.00,148.22 114.50,148.22 115.00,148.21 115.50,148.21 116.00,148.21 116.50,148.21 117.00,148.21 117.50,148.20 118.00,148.20 118.50,148.20 119.00,148.20 119.50,148.20 120.00,148.20 120.50,148.19 121.00,148.19 121.50,148.19 122.00,148.19 122.50,148.19 123.00,148.18 123.50,148.18 124.00,148.18 124.50,148.18 125.00,148.18 125.50,148.17 126.00,148.17 126.50,148.17 127.00,148.17 127.50,148.16 128.00,148.16 128.50,148.16 129.00,148.16 129.50,148.16 130.00,148.15 130.50,148.15 131.00,148.15 131.50,148.15 132.00,148.14 132.50,148.14 133.00,148.14 133.50,148.14 134.00,148.13 134.50,148.13 135.00,148.13 135.50,148.13 136.00,148.12 136.50,148.12 137.00,148.12 137.50,148.11 138.00,148.11 138.50,148.11 139.00,148.11 139.50,148.10 140.00,148.10 140.50,148.10 141.00,148.09 141.50,148.09 142.00,148.09 142.50,148.08 143.00,148.08 143.50,148.07 144.00,148.07 144.50,148.06 145.00,148.06 145.50,148.05 146.00,148.05 146.50,148.04 147.00,148.04 147.50,148.03 148.00,148.02 148.50,148.02 149.00,148.01 149.50,148.01 150.00,148.00 150.50,147.99 151.00,147.98 151.50,147.98 152.00,147.97 152.50,147.96 153.00,147.95 153.50,147.95 154.00,147.94 154.50,147.93 155.00,147.92 155.50,147.92 156.00,147.91 156.50,147.90 157.00,147.89 157.50,147.88 158.00,147.87 158.50,147.86 159.00,147.86 159.50,147.85 160.00,147.84 160.50,147.83 161.00,147.82 161.50,147.81 162.00,147.80 162.50,147.79 163.00,147.78 163.50,147.77 164.00,147.77 164.50,147.76 165.00,147.75 165.50,147.74 166.00,147.73 166.50,147.72 167.00,147.71 167.50,147.70 168.00,147.69 168.50,147.68 169.00,147.67 169.50,147.66 170.00,147.65 170.50,147.65 171.00,147.64 171.50,147.63 172.00,147.62 172.50,147.61 173.00,147.60 173.50,147.59 174.00,147.58 174.50,147.57 175.00,147.56 175.50,147.56 176.00,147.55 176.50,147.54 177.00,147.53 177.50,147.52 178.00,147.51 178.50,147.50 179.00,147.50 179.50,147.49 180.00,147.48 180.50,147.47 181.00,147.46 181.50,147.46 182.00,147.45 182.50,147.44 183.00,147.44 183.50,147.43 184.00,147.42 184.50,147.41 185.00,147.41 185.50,147.40 186.00,147.40 186.50,147.39 187.00,147.38 187.50,147.38 188.00,147.37 188.50,147.37 189.00,147.36 189.50,147.36 190.00,147.35 190.50,147.35 191.00,147.34 191.50,147.34 192.00,147.33 192.50,147.33 193.00,147.33 193.50,147.32 194.00,147.32 194.50,147.32 195.00,147.31 195.50,147.31 196.00,147.31 196.50,147.31 197.00,147.30 197.50,147.30 198.00,147.30 198.50,147.30 199.00,147.30 199.50,147.30 200.00,147.30 200.50,147.30 201.00,147.30 201.50,147.30 202.00,147.30 202.50,147.30 203.00,147.30 203.50,147.30 204.00,147.30 204.50,147.30 205.00,147.30 205.50,147.31 206.00,147.31 206.50,147.31 207.00,147.31 207.50,147.31 208.00,147.31 208.50,147.31 209.00,147.32 209.50,147.32 210.00,147.32 210.50,147.32 211.00,147.32 211.50,147.32 212.00,147.33 212.50,147.33 213.00,147.33 213.50,147.33 214.00,147.34 214.50,147.34 215.00,147.34 215.50,147.34 216.00,147.35 216.50,147.35 217.00,147.35 217.50,147.36 218.00,147.36 218.50,147.36 219.00,147.37 219.50,147.37 220.00,147.37 220.50,147.37 221.00,147.38 221.50,147.38 222.00,147.39 222.50,147.39 223.00,147.39 223.50,147.40 224.00,147.40 224.50,147.40 225.00,147.41 225.50,147.41 226.00,147.42 226.50,147.42 227.00,147.42 227.50,147.43 228.00,147.43 228.50,147.44 229.00,147.44 229.50,147.45 230.00,147.45 230.50,147.46 231.00,147.46 231.50,147.46 232.00,147.47 232.50,147.47 233.00,147.48 233.50,147.48 234.00,147.49 234.50,147.49 235.00,147.50 235.50,147.50 236.00,147.51 236.50,147.51 237.00,147.52 237.50,147.52 238.00,147.53 238.50,147.53 239.00,147.54 239.50,147.54 240.00,147.55 240.50,147.55 241.00,147.56 241.50,147.57 242.00,147.57 242.50,147.58 243.00,147.58 243.50,147.59 244.00,147.59 244.50,147.60 245.00,147.60 245.50,147.61 246.00,147.61 246.50,147.62 247.00,147.63 247.50,147.63 248.00,147.64 248.50,147.64 249.00,147.65 249.50,147.65 250.00,147.66 250.50,147.67 251.00,147.67 251.50,147.68 252.00,147.68 252.50,147.69 253.00,147.70 253.50,147.70 254.00,147.71 254.50,147.71 255.00,147.72 255.50,147.72 256.00,147.73 256.50,147.74 257.00,147.74 257.50,147.75 258.00,147.75 258.50,147.76 259.00,147.77 259.50,147.77 260.00,147.78 260.50,147.78 261.00,147.79 261.50,147.79 262.00,147.80 262.50,147.81 263.00,147.81 263.50,147.82 264.00,147.82 264.50,147.83 265.00,147.84 265.50,147.84 266.00,147.85 266.50,147.85 267.00,147.86 267.50,147.86 268.00,147.87 268.50,147.88 269.00,147.88 269.50,147.89 270.00,147.89 270.50,147.90 271.00,147.90 271.50,147.91 272.00,147.92 272.50,147.92 273.00,147.93 273.50,147.93 274.00,147.94 274.50,147.94 275.00,147.95 275.50,147.95 276.00,147.96 276.50,147.96 277.00,147.97 277.50,147.97 278.00,147.98 278.50,147.98 279.00,147.99 279.50,147.99 280.00,148.00 280.50,148.01 281.00,148.01 281.50,148.02 282.00,148.02 282.50,148.03 283.00,148.03 283.50,148.04 284.00,148.04 284.50,148.05 285.00,148.05 285.50,148.06 286.00,148.06 286.50,148.07 287.00,148.07 287.50,148.08 288.00,148.08 288.50,148.09 289.00,148.09 289.50,148.10 290.00,148.10 290.50,148.11 291.00,148.11 291.50,148.12 292.00,148.12 292.50,148.13 293.00,148.13 293.50,148.14 294.00,148.14 294.50,148.15 295.00,148.15 295.50,148.16 296.00,148.16 296.50,148.17 297.00,148.17 297.50,148.18 298.00,148.18 298.50,148.19 299.00,148.19 299.50,148.20 300.00,148.20 300.50,148.21 301.00,148.21 301.50,148.22 302.00,148.22 302.50,148.23 303.00,148.24 303.50,148.24 304.00,148.25 304.50,148.25 305.00,148.26 305.50,148.26 306.00,148.27 306.50,148.27 307.00,148.28 307.50,148.28 308.00,148.29 308.50,148.30 309.00,148.30 309.50,148.31 310.00,148.31 310.50,148.32 311.00,148.32 311.50,148.33 312.00,148.33 312.50,148.34 313.00,148.35 313.50,148.35 314.00,148.36 314.50,148.36 315.00,148.37 315.50,148.37 316.00,148.38 316.50,148.39 317.00,148.39 317.50,148.40 318.00,148.40 318.50,148.41 319.00,148.42 319.50,148.42 320.00,148.43 320.50,148.43 321.00,148.44 321.50,148.45 322.00,148.45 322.50,148.46 323.00,148.47 323.50,148.47 324.00,148.48 324.50,148.48 325.00,148.49 325.50,148.50 326.00,148.50 326.50,148.51 327.00,148.52 327.50,148.52 328.00,148.53 328.50,148.54 329.00,148.54 329.50,148.55 330.00,148.56 330.50,148.56 331.00,148.57 331.50,148.58 332.00,148.58 332.50,148.59 333.00,148.60 333.50,148.61 334.00,148.61 334.50,148.62 335.00,148.63 335.50,148.63 336.00,148.64 336.50,148.65 337.00,148.66 337.50,148.66 338.00,148.67 338.50,148.68 339.00,148.68 339.50,148.69 340.00,148.70 340.50,148.71 341.00,148.72 341.50,148.72 342.00,148.73 342.50,148.74 343.00,148.75 343.50,148.76 344.00,148.77 344.50,148.77 345.00,148.78 345.50,148.79 346.00,148.80 346.50,148.81 347.00,148.82 347.50,148.83 348.00,148.84 348.50,148.85 349.00,148.86 349.50,148.87 350.00,148.88 350.50,148.89 351.00,148.90 351.50,148.91 352.00,148.92 352.50,148.93 353.00,148.94 353.50,148.95 354.00,148.96 354.50,148.97 355.00,148.98 355.50,148.99 356.00,149.00 356.50,149.02 357.00,149.03 357.50,149.04 358.00,149.05 358.50,149.06 359.00,149.07 359.50,149.08 360.00,149.10 360.50,149.11 361.00,149.12 361.50,149.13 362.00,149.14 362.50,149.15 363.00,149.17 363.50,149.18 364.00,149.19 364.50,149.20 365.00,149.21 365.50,149.23 366.00,149.24 366.50,149.25 367.00,149.26 367.50,149.27 368.00,149.29 368.50,149.30 369.00,149.31 369.50,149.32 370.00,149.33 370.50,149.35 371.00,149.36 371.50,149.37 372.00,149.38 372.50,149.40 373.00,149.41 373.50,149.42 374.00,149.43 374.50,149.44 375.00,149.46 375.50,149.47 376.00,149.48 376.50,149.49 377.00,149.50 377.50,149.52 378.00,149.53 378.50,149.54 379.00,149.55 379.50,149.56 380.00,149.58 380.50,149.59 381.00,149.60 381.50,149.61 382.00,149.62 382.50,149.64 383.00,149.65 383.50,149.66 384.00,149.67 384.50,149.68 385.00,149.69 385.50,149.71 386.00,149.72 386.50,149.73 387.00,149.74 387.50,149.75 388.00,149.76 388.50,149.77 389.00,149.78 389.50,149.79 390.00,149.80 390.50,149.82 391.00,149.83 391.50,149.84 392.00,149.85 392.50,149.86 393.00,149.87 393.50,149.88 394.00,149.89 394.50,149.90 395.00,149.91 395.50,149.92 396.00,149.93 396.50,149.94 397.00,149.95 397.50,149.96 398.00,149.96 398.50,149.97 399.00,149.98 399.50,149.99 400.00,150.00 400.50,150.01 401.00,150.02 401.50,150.03 402.00,150.03 402.50,150.04 403.00,150.05 403.50,150.06 404.00,150.07 404.50,150.08 405.00,150.08 405.50,150.09 406.00,150.10 406.50,150.11 407.00,150.12 407.50,150.12 408.00,150.13 408.50,150.14 409.00,150.15 409.50,150.16 410.00,150.16 410.50,150.17 411.00,150.18 411.50,150.19 412.00,150.19 412.50,150.20 413.00,150.21 413.50,150.22 414.00,150.22 414.50,150.23 415.00,150.24 415.50,150.25 416.00,150.25 416.50,150.26 417.00,150.27 417.50,150.28 418.00,150.28 418.50,150.29 419.00,150.30 419.50,150.30 420.00,150.31 420.50,150.32 421.00,150.33 421.50,150.33 422.00,150.34 422.50,150.35 423.00,150.35 423.50,150.36 424.00,150.37 424.50,150.37 425.00,150.38 425.50,150.39 426.00,150.40 426.50,150.40 427.00,150.41 427.50,150.42 428.00,150.42 428.50,150.43 429.00,150.44 429.50,150.44 430.00,150.45 430.50,150.46 431.00,150.46 431.50,150.47 432.00,150.48 432.50,150.48 433.00,150.49 433.50,150.50 434.00,150.50 434.50,150.51 435.00,150.52 435.50,150.52 436.00,150.53 436.50,150.54 437.00,150.55 437.50,150.55 438.00,150.56 438.50,150.57 439.00,150.57 439.50,150.58 440.00,150.59 440.50,150.59 441.00,150.60 441.50,150.61 442.00,150.61 442.50,150.62 443.00,150.63 443.50,150.63 444.00,150.64 444.50,150.65 445.00,150.65 445.50,150.66 446.00,150.67 446.50,150.67 447.00,150.68 447.50,150.69 448.00,150.69 448.50,150.70 449.00,150.71 449.50,150.72 450.00,150.72 450.50,150.73 451.00,150.74 451.50,150.74 452.00,150.75 452.50,150.76 453.00,150.76 453.50,150.77 454.00,150.78 454.50,150.79 455.00,150.79 455.50,150.80 455.50,151.00 90.50,151.00" fill="#8080c8" />
<polygon points="90.50,148.70 91.00,148.70 91.50,148.70 92.00,148.70 92.50,148.70 93.00,148.70 93.50,148.69 94.00,148.69 94.50,148.69 95.00,148.69 95.50,148.69 96.00,148.69 96.50,148.69 97.00,148.69 97.50,148.69 98.00,148.69 98.50,148.68 99.00,148.68 99.50,148.68 100.00,148.68 100.50,148.68 101.00,148.68 101.50,148.68 102.00,148.68 102.50,148.68 103.00,148.67 103.50,148.67 104.00,148.67 104.50,148.67 105.00,148.67 105.50,148.67 106.00,148.67 106.50,148.67 107.00,148.67 107.50,148.66 108.00,148.66 108.50,148.66 109.00,148.66 109.50,148.66 110.00,148.66 110.50,148.66 111.00,148.66 111.50,148.66 112.00,148.65 112.50,148.65 113.00,148.65 113.50,148.65 114.00,148.65 114.50,148.65 115.00,148.65 115.50,148.65 116.00,148.65 116.50,148.64 117.00,148.64 117.50,148.64 118.00,148.64 118.50,148.64 119.00,148.64 119.50,148.64 120.00,148.64 120.50,148.63 121.00,148.63 121.50,148.63 122.00,148.63 122.50,148.63 123.00,148.63 123.50,148.63 124.00,148.63 124.50,148.62 125.00,148.62 125.50,148.62 126.00,148.62 126.50,148.62 127.00,148.62 127.50,148.62 128.00,148.62 128.50,148.61 129.00,148.61 129.50,148.61 130.00,148.61 130.50,148.61 131.00,148.61 131.50,148.61 132.00,148.61 132.50,148.61 133.00,148.60 133.50,148.60 134.00,148.60 134.50,148.60 135.00,148.60 135.50,148.60 136.00,148.60 136.50,148.60 137.00,148.59 137.50,148.59 138.00,148.59 138.50,148.59 139.00,148.59 139.50,148.59 140.00,148.59 140.50,148.59 141.00,148.58 141.50,148.58 142.00,148.58 142.50,148.58 143.00,148.58 143.50,148.58 144.00,148.58 144.50,148.58 145.00,148.58 145.50,148.57 146.00,148.57 146.50,148.57 147.00,148.57 147.50,148.57 148.00,148.57 148.50,148.57 149.00,148.57 149.50,148.57 150.00,148.56 150.50,148.56 151.00,148.56 151.50,148.56 152.00,148.56 152.50,148.56 153.00,148.56 153.50,148.56 154.00,148.56 154.50,148.55 155.00,148.55 155.50,148.55 156.00,148.55 156.50,148.55 157.00,148.55 157.50,148.55 158.00,148.55 158.50,148.55 159.00,148.55 159.50,148.54 160.00,148.54 160.50,148.54 161.00,148.54 161.50,148.54 162.00,148.54 162.50,148.54 163.00,148.54 163.50,148.54 164.00,148.54 164.50,148.54 165.00,148.53 165.50,148.53 166.00,148.53 166.50,148.53 167.00,148.53 167.50,148.53 168.00,148.53 168.50,148.53 169.00,148.53 169.50,148.53 170.00,148.53 170.50,148.53 171.00,148.52 171.50,148.52 172.00,148.52 172.50,148.52 173.00,148.52 173.50,148.52 174.00,148.52 174.50,148.52 175.00,148.52 175.50,148.52 176.00,148.52 176.50,148.52 177.00,148.52 177.50,148.52 178.00,148.51 178.50,148.51 179.00,148.51 179.50,148.51 180.00,148.51 180.50,148.51 181.00,148.51 181.50,148.51 182.00,148.51 182.50,148.51 183.00,148.51 183.50,148.51 184.00,148.51 184.50,148.51 185.00,148.51 185.50,148.51 186.00,148.51 186.50,148.51 187.00,148.51 187.50,148.50 188.00,148.50 188.50,148.50 189.00,148.50 189.50,148.50 190.00,148.50 190.50,148.50 191.00,148.50 191.50,148.50 192.00,148.50 192.50,148.50 193.00,148.50 193.50,148.50 194.00,148.50 194.50,148.50 195.00,148.50 195.50,148.50 196.00,148.50 196.50,148.50 197.00,148.50 197.50,148.50 198.00,148.50 198.50,148.50 199.00,148.50 199.50,148.50 200.00,148.50 200.50,148.50 201.00,148.50 201.50,148.50 202.00,148.50 202.50,148.50 203.00,148.50 203.50,148.50 204.00,148.50 204.50,148.50 205.00,148.50 205.50,148.50 206.00,148.50 206.50,148.50 207.00,148.50 207.50,148.50 208.00,148.50 208.50,148.50 209.00,148.50 209.50,148.51 210.00,148.51 210.50,148.51 211.00,148.51 211.50,148.51 212.00,148.51 212.50,148.51 213.00,148.51 213.50,148.51 214.00,148.51 214.50,148.51 215.00,148.51 215.50,148.51 216.00,148.51 216.50,148.52 217.00,148.52 217.50,148.52 218.00,148.52 218.50,148.52 219.00,148.52 219.50,148.52 220.00,148.52 220.50,148.52 221.00,148.52 221.50,148.53 222.00,148.53 222.50,148.53 223.00,148.53 223.50,148.53 224.00,148.53 224.50,148.53 225.00,148.53 225.50,148.54 226.00,148.54 226.50,148.54 227.00,148.54 227.50,148.54 228.00,148.54 228.50,148.54 229.00,148.54 229.50,148.55 230.00,148.55 230.50,148.55 231.00,148.55 231.50,148.55 232.00,148.55 232.50,148.56 233.00,148.56 233.50,148.56 234.00,148.56 234.50,148.56 235.00,148.56 235.50,148.57 236.00,148.57 236.50,148.57 237.00,148.57 237.50,148.57 238.00,148.57 238.50,148.58 239.00,148.58 239.50,148.58 240.00,148.58 240.50,148.58 241.00,148.59 241.50,148.59 242.00,148.59 242.50,148.59 243.00,148.59 243.50,148.60 244.00,148.60 244.50,148.60 245.00,148.60 245.50,148.60 246.00,148.61 246.50,148.61 247.00,148.61 247.50,148.61 248.00,148.61 248.50,148.62 249.00,148.62 249.50,148.62 250.00,148.62 250.50,148.63 251.00,148.63 251.50,148.63 252.00,148.63 252.50,148.63 253.00,148.64 253.50,148.64 254.00,148.64 254.50,148.64 255.00,148.65 255.50,148.65 256.00,148.65 256.50,148.65 257.00,148.66 257.50,148.66 258.00,148.66 258.50,148.66 259.00,148.67 259.50,148.67 260.00,148.67 260.50,148.67 261.00,148.68 261.50,148.68 262.00,148.68 262.50,148.68 263.00,148.69 263.50,148.69 264.00,148.69 264.50,148.69 265.00,148.70 265.50,148.70 266.00,148.70 266.50,148.70 267.00,148.71 267.50,148.71 268.00,148.71 268.50,148.72 269.00,148.72 269.50,148.72 270.00,148.72 270.50,148.73 271.00,148.73 271.50,148.73 272.00,148.73 272.50,148.74 273.00,148.74 273.50,148.74 274.00,148.75 274.50,148.75 275.00,148.75 275.50,148.75 276.00,148.76 276.50,148.76 277.00,148.76 277.50,148.77 278.00,148.77 278.50,148.77 279.00,148.77 279.50,148.78 280.00,148.78 280.50,148.78 281.00,148.79 281.50,148.79 282.00,148.79 282.50,148.79 283.00,148.80 283.50,148.80 284.00,148.80 284.50,148.81 285.00,148.81 285.50,148.81 286.00,148.82 286.50,148.82 287.00,148.82 287.50,148.82 288.00,148.83 288.50,148.83 289.00,148.83 289.50,148.84 290.00,148.84 290.50,148.84 291.00,148.85 291.50,148.85 292.00,148.85 292.50,148.85 293.00,148.86 293.50,148.86 294.00,148.86 294.50,148.87 295.00,148.87 295.50,148.87 296.00,148.88 296.50,148.88 297.00,148.88 297.50,148.88 298.00,148.89 298.50,148.89 299.00,148.89 299.50,148.90 300.00,148.90 300.50,148.90 301.00,148.91 301.50,148.91 302.00,148.91 302.50,148.92 303.00,148.92 303.50,148.92 304.00,148.93 304.50,148.93 305.00,148.93 305.50,148.94 306.00,148.94 306.50,148.95 307.00,148.95 307.50,148.95 308.00,148.96 308.50,148.96 309.00,148.97 309.50,148.97 310.00,148.97 310.50,148.98 311.00,148.98 311.50,148.99 312.00,148.99 312.50,149.00 313.00,149.00 313.50,149.01 314.00,149.01 314.50,149.02 315.00,149.02 315.50,149.03 316.00,149.03 316.50,149.04 317.00,149.04 317.50,149.05 318.00,149.05 318.50,149.06 319.00,149.06 319.50,149.07 320.00,149.07 320.50,149.08 321.00,149.09 321.50,149.09 322.00,149.10 322.50,149.10 323.00,149.11 323.50,149.11 324.00,149.12 324.50,149.13 325.00,149.13 325.50,149.14 326.00,149.14 326.50,149.15 327.00,149.16 327.50,149.16 328.00,149.17 328.50,149.17 329.00,149.18 329.50,149.19 330.00,149.19 330.50,149.20 331.00,149.21 331.50,149.21 332.00,149.22 332.50,149.23 333.00,149.23 333.50,149.24 334.00,149.25 334.50,149.25 335.00,149.26 335.50,149.27 336.00,149.27 336.50,149.28 337.00,149.29 337.50,149.29 338.00,149.30 338.50,149.31 339.00,149.31 339.50,149.32 340.00,149.33 340.50,149.34 341.00,149.34 341.50,149.35 342.00,149.36 342.50,149.36 343.00,149.37 343.50,149.38 344.00,149.39 344.50,149.39 345.00,149.40 345.50,149.41 346.00,149.41 346.50,149.42 347.00,149.43 347.50,149.44 348.00,149.44 348.50,149.45 349.00,149.46 349.50,149.47 350.00,149.47 350.50,149.48 351.00,149.49 351.50,149.50 352.00,149.50 352.50,149.51 353.00,149.52 353.50,149.53 354.00,149.53 354.50,149.54 355.00,149.55 355.50,149.56 356.00,149.56 356.50,149.57 357.00,149.58 357.50,149.59 358.00,149.59 358.50,149.60 359.00,149.61 359.50,149.62 360.00,149.62 360.50,149.63 361.00,149.64 361.50,149.65 362.00,149.66 362.50,149.66 363.00,149.67 363.50,149.68 364.00,149.69 364.50,149.69 365.00,149.70 365.50,149.71 366.00,149.72 366.50,149.72 367.00,149.73 367.50,149.74 368.00,149.75 368.50,149.75 369.00,149.76 369.50,149.77 370.00,149.78 370.50,149.79 371.00,149.79 371.50,149.80 372.00,149.81 372.50,149.82 373.00,149.82 373.50,149.83 374.00,149.84 374.50,149.85 375.00,149.85 375.50,149.86 376.00,149.87 376.50,149.88 377.00,149.88 377.50,149.89 378.00,149.90 378.50,149.91 379.00,149.91 379.50,149.92 380.00,149.93 380.50,149.93 381.00,149.94 381.50,149.95 382.00,149.96 382.50,149.96 383.00,149.97 383.50,149.98 384.00,149.99 384.50,149.99 385.00,150.00 385.50,150.01 386.00,150.01 386.50,150.02 387.00,150.03 387.50,150.04 388.00,150.04 388.50,150.05 389.00,150.06 389.50,150.06 390.00,150.07 390.50,150.08 391.00,150.08 391.50,150.09 392.00,150.10 392.50,150.10 393.00,150.11 393.50,150.12 394.00,150.12 394.50,150.13 395.00,150.14 395.50,150.14 396.00,150.15 396.50,150.16 397.00,150.16 397.50,150.17 398.00,150.18 398.50,150.18 399.00,150.19 399.50,150.19 400.00,150.20 400.50,150.21 401.00,150.21 401.50,150.22 402.00,150.22 402.50,150.23 403.00,150.24 403.50,150.24 404.00,150.25 404.50,150.25 405.00,150.26 405.50,150.27 406.00,150.27 406.50,150.28 407.00,150.28 407.50,150.29 408.00,150.30 408.50,150.30 409.00,150.31 409.50,150.31 410.00,150.32 410.50,150.33 411.00,150.33 411.50,150.34 412.00,150.34 412.50,150.35 413.00,150.36 413.50,150.36 414.00,150.37 414.50,150.37 415.00,150.38 415.50,150.39 416.00,150.39 416.50,150.40 417.00,150.40 417.50,150.41 418.00,150.42 418.50,150.42 419.00,150.43 419.50,150.43 420.00,150.44 420.50,150.44 421.00,150.45 421.50,150.46 422.00,150.46 422.50,150.47 423.00,150.47 423.50,150.48 424.00,150.49 424.50,150.49 425.00,150.50 425.50,150.50 426.00,150.51 426.50,150.51 427.00,150.52 427.50,150.53 428.00,150.53 428.50,150.54 429.00,150.54 429.50,150.55 430.00,150.55 430.50,150.56 431.00,150.57 431.50,150.57 432.00,150.58 432.50,150.58 433.00,150.59 433.50,150.60 434.00,150.60 434.50,150.61 435.00,150.61 435.50,150.62 436.00,150.62 436.50,150.63 437.00,150.64 437.50,150.64 438.00,150.65 438.50,150.65 439.00,150.66 439.50,150.66 440.00,150.67 440.50,150.68 441.00,150.68 441.50,150.69 442.00,150.69 442.50,150.70 443.00,150.70 443.50,150.71 444.00,150.72 444.50,150.72 445.00,150.73 445.50,150.73 446.00,150.74 446.50,150.75 447.00,150.75 447.50,150.76 448.00,150.76 448.50,150.77 449.00,150.77 449.50,150.78 450.00,150.79 450.50,150.79 451.00,150.80 451.50,150.80 452.00,150.81 452.50,150.81 453.00,150.82 453.50,150.83 454.00,150.83 454.50,150.84 455.00,150.84 455.50,150.85 455.50,151.00 90.50,151.00" fill="#d4a820" />
<polygon points="90.50,150.10 91.00,150.10 91.50,150.10 92.00,150.10 92.50,150.10 93.00,150.10 93.50,150.10 94.00,150.10 94.50,150.10 95.00,150.10 95.50,150.10 96.00,150.10 96.50,150.10 97.00,150.10 97.50,150.10 98.00,150.10 98.50,150.10 99.00,150.10 99.50,150.10 100.00,150.10 100.50,150.10 101.00,150.10 101.50,150.11 102.00,150.11 102.50,150.11 103.00,150.11 103.50,150.11 104.00,150.11 104.50,150.11 105.00,150.11 105.50,150.11 106.00,150.11 106.50,150.11 107.00,150.11 107.50,150.11 108.00,150.11 108.50,150.11 109.00,150.11 109.50,150.11 110.00,150.11 110.50,150.11 111.00,150.11 111.50,150.11 112.00,150.11 112.50,150.11 113.00,150.11 113.50,150.11 114.00,150.11 114.50,150.11 115.00,150.11 115.50,150.11 116.00,150.11 116.50,150.11 117.00,150.11 117.50,150.11 118.00,150.11 118.50,150.11 119.00,150.11 119.50,150.11 120.00,150.11 120.50,150.11 121.00,150.11 121.50,150.11 122.00,150.11 122.50,150.11 123.00,150.11 123.50,150.11 124.00,150.11 124.50,150.11 125.00,150.11 125.50,150.11 126.00,150.11 126.50,150.12 127.00,150.12 127.50,150.12 128.00,150.12 128.50,150.12 129.00,150.12 129.50,150.12 130.00,150.12 130.50,150.12 131.00,150.12 131.50,150.12 132.00,150.12 132.50,150.12 133.00,150.12 133.50,150.12 134.00,150.12 134.50,150.12 135.00,150.12 135.50,150.12 136.00,150.12 136.50,150.12 137.00,150.12 137.50,150.12 138.00,150.12 138.50,150.12 139.00,150.12 139.50,150.12 140.00,150.12 140.50,150.12 141.00,150.12 141.50,150.12 142.00,150.12 142.50,150.12 143.00,150.12 143.50,150.12 144.00,150.12 144.50,150.12 145.00,150.12 145.50,150.12 146.00,150.12 146.50,150.12 147.00,150.12 147.50,150.12 148.00,150.12 148.50,150.12 149.00,150.12 149.50,150.12 150.00,150.12 150.50,150.12 151.00,150.12 151.50,150.12 152.00,150.12 152.50,150.12 153.00,150.12 153.50,150.12 154.00,150.12 154.50,150.12 155.00,150.12 155.50,150.13 156.00,150.13 156.50,150.13 157.00,150.13 157.50,150.13 158.00,150.13 158.50,150.13 159.00,150.13 159.50,150.13 160.00,150.13 160.50,150.13 161.00,150.13 161.50,150.13 162.00,150.13 162.50,150.13 163.00,150.13 163.50,150.13 164.00,150.13 164.50,150.13 165.00,150.13 165.50,150.13 166.00,150.13 166.50,150.13 167.00,150.13 167.50,150.13 168.00,150.13 168.50,150.13 169.00,150.13 169.50,150.13 170.00,150.13 170.50,150.13 171.00,150.13 171.50,150.13 172.00,150.13 172.50,150.13 173.00,150.13 173.50,150.13 174.00,150.13 174.50,150.13 175.00,150.13 175.50,150.13 176.00,150.13 176.50,150.13 177.00,150.13 177.50,150.13 178.00,150.13 178.50,150.13 179.00,150.13 179.50,150.13 180.00,150.13 180.50,150.13 181.00,150.13 181.50,150.13 182.00,150.13 182.50,150.13 183.00,150.13 183.50,150.13 184.00,150.13 184.50,150.14 185.00,150.14 185.50,150.14 186.00,150.14 186.50,150.14 187.00,150.14 187.50,150.14 188.00,150.14 188.50,150.14 189.00,150.14 189.50,150.14 190.00,150.14 190.50,150.14 191.00,150.14 191.50,150.14 192.00,150.14 192.50,150.14 193.00,150.14 193.50,150.14 194.00,150.14 194.50,150.14 195.00,150.14 195.50,150.14 196.00,150.14 196.50,150.14 197.00,150.14 197.50,150.14 198.00,150.14 198.50,150.14 199.00,150.14 199.50,150.14 200.00,150.14 200.50,150.14 201.00,150.14 201.50,150.14 202.00,150.14 202.50,150.14 203.00,150.14 203.50,150.14 204.00,150.14 204.50,150.14 205.00,150.14 205.50,150.14 206.00,150.14 206.50,150.14 207.00,150.14 207.50,150.14 208.00,150.14 208.50,150.14 209.00,150.14 209.50,150.14 210.00,150.14 210.50,150.14 211.00,150.15 211.50,150.15 212.00,150.15 212.50,150.15 213.00,150.15 213.50,150.15 214.00,150.15 214.50,150.15 215.00,150.15 215.50,150.15 216.00,150.15 216.50,150.15 217.00,150.15 217.50,150.15 218.00,150.15 218.50,150.15 219.00,150.15 219.50,150.15 220.00,150.15 220.50,150.15 221.00,150.15 221.50,150.15 222.00,150.15 222.50,150.15 223.00,150.15 223.50,150.15 224.00,150.15 224.50,150.15 225.00,150.15 225.50,150.15 226.00,150.15 226.50,150.15 227.00,150.15 227.50,150.15 228.00,150.15 228.50,150.15 229.00,150.15 229.50,150.15 230.00,150.15 230.50,150.15 231.00,150.15 231.50,150.15 232.00,150.15 232.50,150.15 233.00,150.15 233.50,150.16 234.00,150.16 234.50,150.16 235.00,150.16 235.50,150.16 236.00,150.16 236.50,150.16 237.00,150.16 237.50,150.16 238.00,150.16 238.50,150.16 239.00,150.16 239.50,150.16 240.00,150.16 240.50,150.16 241.00,150.16 241.50,150.16 242.00,150.16 242.50,150.16 243.00,150.16 243.50,150.16 244.00,150.16 244.50,150.16 245.00,150.16 245.50,150.16 246.00,150.16 246.50,150.16 247.00,150.16 247.50,150.16 248.00,150.16 248.50,150.16 249.00,150.16 249.50,150.16 250.00,150.16 250.50,150.16 251.00,150.16 251.50,150.16 252.00,150.17 252.50,150.17 253.00,150.17 253.50,150.17 254.00,150.17 254.50,150.17 255.00,150.17 255.50,150.17 256.00,150.17 256.50,150.17 257.00,150.17 257.50,150.17 258.00,150.17 258.50,150.17 259.00,150.17 259.50,150.17 260.00,150.17 260.50,150.17 261.00,150.17 261.50,150.17 262.00,150.17 262.50,150.17 263.00,150.17 263.50,150.17 264.00,150.17 264.50,150.17 265.00,150.17 265.50,150.17 266.00,150.17 266.50,150.17 267.00,150.17 267.50,150.17 268.00,150.18 268.50,150.18 269.00,150.18 269.50,150.18 270.00,150.18 270.50,150.18 271.00,150.18 271.50,150.18 272.00,150.18 272.50,150.18 273.00,150.18 273.50,150.18 274.00,150.18 274.50,150.18 275.00,150.18 275.50,150.18 276.00,150.18 276.50,150.18 277.00,150.18 277.50,150.18 278.00,150.18 278.50,150.18 279.00,150.18 279.50,150.18 280.00,150.18 280.50,150.18 281.00,150.18 281.50,150.18 282.00,150.19 282.50,150.19 283.00,150.19 283.50,150.19 284.00,150.19 284.50,150.19 285.00,150.19 285.50,150.19 286.00,150.19 286.50,150.19 287.00,150.19 287.50,150.19 288.00,150.19 288.50,150.19 289.00,150.19 289.50,150.19 290.00,150.19 290.50,150.19 291.00,150.19 291.50,150.19 292.00,150.19 292.50,150.19 293.00,150.19 293.50,150.19 294.00,150.19 294.50,150.20 295.00,150.20 295.50,150.20 296.00,150.20 296.50,150.20 297.00,150.20 297.50,150.20 298.00,150.20 298.50,150.20 299.00,150.20 299.50,150.20 300.00,150.20 300.50,150.20 301.00,150.20 301.50,150.20 302.00,150.20 302.50,150.20 303.00,150.20 303.50,150.20 304.00,150.20 304.50,150.20 305.00,150.21 305.50,150.21 306.00,150.21 306.50,150.21 307.00,150.21 307.50,150.21 308.00,150.21 308.50,150.21 309.00,150.21 309.50,150.21 310.00,150.21 310.50,150.21 311.00,150.22 311.50,150.22 312.00,150.22 312.50,150.22 313.00,150.22 313.50,150.22 314.00,150.22 314.50,150.22 315.00,150.22 315.50,150.22 316.00,150.23 316.50,150.23 317.00,150.23 317.50,150.23 318.00,150.23 318.50,150.23 319.00,150.23 319.50,150.23 320.00,150.24 320.50,150.24 321.00,150.24 321.50,150.24 322.00,150.24 322.50,150.24 323.00,150.24 323.50,150.24 324.00,150.25 324.50,150.25 325.00,150.25 325.50,150.25 326.00,150.25 326.50,150.25 327.00,150.26 327.50,150.26 328.00,150.26 328.50,150.26 329.00,150.26 329.50,150.26 330.00,150.26 330.50,150.27 331.00,150.27 331.50,150.27 332.00,150.27 332.50,150.27 333.00,150.27 333.50,150.28 334.00,150.28 334.50,150.28 335.00,150.28 335.50,150.28 336.00,150.29 336.50,150.29 337.00,150.29 337.50,150.29 338.00,150.29 338.50,150.29 339.00,150.30 339.50,150.30 340.00,150.30 340.50,150.30 341.00,150.30 341.50,150.31 342.00,150.31 342.50,150.31 343.00,150.31 343.50,150.31 344.00,150.32 344.50,150.32 345.00,150.32 345.50,150.32 346.00,150.32 346.50,150.33 347.00,150.33 347.50,150.33 348.00,150.33 348.50,150.34 349.00,150.34 349.50,150.34 350.00,150.34 350.50,150.34 351.00,150.35 351.50,150.35 352.00,150.35 352.50,150.35 353.00,150.36 353.50,150.36 354.00,150.36 354.50,150.36 355.00,150.36 355.50,150.37 356.00,150.37 356.50,150.37 357.00,150.37 357.50,150.38 358.00,150.38 358.50,150.38 359.00,150.38 359.50,150.39 360.00,150.39 360.50,150.39 361.00,150.39 361.50,150.40 362.00,150.40 362.50,150.40 363.00,150.40 363.50,150.41 364.00,150.41 364.50,150.41 365.00,150.41 365.50,150.42 366.00,150.42 366.50,150.42 367.00,150.42 367.50,150.43 368.00,150.43 368.50,150.43 369.00,150.43 369.50,150.44 370.00,150.44 370.50,150.44 371.00,150.44 371.50,150.45 372.00,150.45 372.50,150.45 373.00,150.45 373.50,150.46 374.00,150.46 374.50,150.46 375.00,150.47 375.50,150.47 376.00,150.47 376.50,150.47 377.00,150.48 377.50,150.48 378.00,150.48 378.50,150.48 379.00,150.49 379.50,150.49 380.00,150.49 380.50,150.49 381.00,150.50 381.50,150.50 382.00,150.50 382.50,150.51 383.00,150.51 383.50,150.51 384.00,150.51 384.50,150.52 385.00,150.52 385.50,150.52 386.00,150.53 386.50,150.53 387.00,150.53 387.50,150.53 388.00,150.54 388.50,150.54 389.00,150.54 389.50,150.54 390.00,150.55 390.50,150.55 391.00,150.55 391.50,150.56 392.00,150.56 392.50,150.56 393.00,150.56 393.50,150.57 394.00,150.57 394.50,150.57 395.00,150.58 395.50,150.58 396.00,150.58 396.50,150.58 397.00,150.59 397.50,150.59 398.00,150.59 398.50,150.60 399.00,150.60 399.50,150.60 400.00,150.60 400.50,150.61 401.00,150.61 401.50,150.61 402.00,150.62 402.50,150.62 403.00,150.62 403.50,150.62 404.00,150.63 404.50,150.63 405.00,150.63 405.50,150.64 406.00,150.64 406.50,150.64 407.00,150.64 407.50,150.65 408.00,150.65 408.50,150.65 409.00,150.66 409.50,150.66 410.00,150.66 410.50,150.66 411.00,150.67 411.50,150.67 412.00,150.67 412.50,150.68 413.00,150.68 413.50,150.68 414.00,150.68 414.50,150.69 415.00,150.69 415.50,150.69 416.00,150.70 416.50,150.70 417.00,150.70 417.50,150.70 418.00,150.71 418.50,150.71 419.00,150.71 419.50,150.71 420.00,150.72 420.50,150.72 421.00,150.72 421.50,150.73 422.00,150.73 422.50,150.73 423.00,150.73 423.50,150.74 424.00,150.74 424.50,150.74 425.00,150.75 425.50,150.75 426.00,150.75 426.50,150.75 427.00,150.76 427.50,150.76 428.00,150.76 428.50,150.76 429.00,150.77 429.50,150.77 430.00,150.77 430.50,150.78 431.00,150.78 431.50,150.78 432.00,150.78 432.50,150.79 433.00,150.79 433.50,150.79 434.00,150.79 434.50,150.80 435.00,150.80 435.50,150.80 436.00,150.80 436.50,150.81 437.00,150.81 437.50,150.81 438.00,150.81 438.50,150.82 439.00,150.82 439.50,150.82 440.00,150.83 440.50,150.83 441.00,150.83 441.50,150.83 442.00,150.84 442.50,150.84 443.00,150.84 443.50,150.84 444.00,150.85 444.50,150.85 445.00,150.85 445.50,150.85 446.00,150.86 446.50,150.86 447.00,150.86 447.50,150.86 448.00,150.86 448.50,150.87 449.00,150.87 449.50,150.87 450.00,150.87 450.50,150.88 451.00,150.88 451.50,150.88 452.00,150.88 452.50,150.89 453.00,150.89 453.50,150.89 454.00,150.89 454.50,150.90 455.00,150.90 455.50,150.90 455.50,151.00 90.50,151.00" fill="#5a6e9e" />
<line x1="130.40" y1="38.00" x2="130.40" y2="151.00" stroke="#000" stroke-width="1.10"/>
<line x1="157.40" y1="38.00" x2="157.40" y2="151.00" stroke="#000" stroke-width="1.10"/>
<line x1="455.40" y1="38.00" x2="455.40" y2="151.00" stroke="#000" stroke-width="1.10"/>
<polygon points="90.70,234.10 91.18,234.09 91.66,234.06 92.13,234.02 92.61,233.97 93.09,233.90 93.57,233.83 94.04,233.76 94.52,233.68 95.00,233.60 95.50,233.51 96.00,233.41 96.50,233.30 97.00,233.17 97.50,233.04 98.00,232.90 98.50,232.75 99.00,232.60 99.50,232.45 100.00,232.30 100.50,232.15 101.00,231.98 101.50,231.81 102.00,231.64 102.50,231.46 103.00,231.27 103.50,231.08 104.00,230.89 104.50,230.70 105.00,230.50 105.50,230.30 106.00,230.08 106.50,229.86 107.00,229.63 107.50,229.40 108.00,229.17 108.50,228.94 109.00,228.72 109.50,228.50 110.00,228.30 110.50,228.10 111.00,227.90 111.50,227.71 112.00,227.51 112.50,227.32 113.00,227.14 113.50,226.96 114.00,226.80 114.50,226.64 115.00,226.50 115.50,226.37 116.00,226.23 116.50,226.11 117.00,225.99 117.50,225.87 118.00,225.76 118.50,225.66 119.00,225.56 119.50,225.48 120.00,225.40 120.50,225.33 121.00,225.26 121.50,225.20 122.00,225.13 122.50,225.08 123.00,225.02 123.50,224.97 124.00,224.93 124.50,224.89 125.00,224.85 125.50,224.82 126.00,224.78 126.50,224.75 127.00,224.71 127.50,224.68 128.00,224.66 128.50,224.63 129.00,224.62 129.50,224.60 130.00,224.60 130.50,224.60 131.00,224.60 131.50,224.60 132.00,224.60 132.50,224.60 133.00,224.60 133.50,224.60 134.00,224.60 134.50,224.60 135.00,224.60 135.50,224.60 136.00,224.59 136.50,224.59 137.00,224.59 137.50,224.59 138.00,224.59 138.50,224.59 139.00,224.59 139.50,224.59 140.00,224.59 140.50,224.59 141.00,224.59 141.50,224.59 142.00,224.59 142.50,224.59 143.00,224.59 143.50,224.59 144.00,224.59 144.50,224.59 145.00,224.59 145.50,224.59 146.00,224.59 146.50,224.59 147.00,224.59 147.50,224.59 148.00,224.58 148.50,224.58 149.00,224.58 149.50,224.58 150.00,224.58 150.50,224.58 151.00,224.58 151.50,224.58 152.00,224.58 152.50,224.58 153.00,224.58 153.50,224.58 154.00,224.58 154.50,224.58 155.00,224.58 155.50,224.58 156.00,224.58 156.50,224.58 157.00,224.58 157.50,224.58 158.00,224.58 158.50,224.58 159.00,224.58 159.50,224.58 160.00,224.58 160.50,224.58 161.00,224.58 161.50,224.58 162.00,224.57 162.50,224.57 163.00,224.57 163.50,224.57 164.00,224.57 164.50,224.57 165.00,224.57 165.50,224.57 166.00,224.57 166.50,224.57 167.00,224.57 167.50,224.57 168.00,224.57 168.50,224.57 169.00,224.57 169.50,224.57 170.00,224.57 170.50,224.57 171.00,224.57 171.50,224.57 172.00,224.57 172.50,224.57 173.00,224.57 173.50,224.57 174.00,224.57 174.50,224.57 175.00,224.57 175.50,224.57 176.00,224.57 176.50,224.57 177.00,224.57 177.50,224.56 178.00,224.56 178.50,224.56 179.00,224.56 179.50,224.56 180.00,224.56 180.50,224.56 181.00,224.56 181.50,224.56 182.00,224.56 182.50,224.56 183.00,224.56 183.50,224.56 184.00,224.56 184.50,224.56 185.00,224.56 185.50,224.56 186.00,224.56 186.50,224.56 187.00,224.56 187.50,224.56 188.00,224.56 188.50,224.56 189.00,224.56 189.50,224.56 190.00,224.56 190.50,224.56 191.00,224.56 191.50,224.56 192.00,224.56 192.50,224.56 193.00,224.56 193.50,224.56 194.00,224.56 194.50,224.56 195.00,224.56 195.50,224.56 196.00,224.55 196.50,224.55 197.00,224.55 197.50,224.55 198.00,224.55 198.50,224.55 199.00,224.55 199.50,224.55 200.00,224.55 200.50,224.55 201.00,224.55 201.50,224.55 202.00,224.55 202.50,224.55 203.00,224.55 203.50,224.55 204.00,224.55 204.50,224.55 205.00,224.55 205.50,224.55 206.00,224.55 206.50,224.55 207.00,224.55 207.50,224.55 208.00,224.55 208.50,224.55 209.00,224.55 209.50,224.55 210.00,224.55 210.50,224.55 211.00,224.55 211.50,224.55 212.00,224.55 212.50,224.55 213.00,224.55 213.50,224.55 214.00,224.55 214.50,224.55 215.00,224.55 215.50,224.55 216.00,224.55 216.50,224.55 217.00,224.55 217.50,224.55 218.00,224.55 218.50,224.55 219.00,224.54 219.50,224.54 220.00,224.54 220.50,224.54 221.00,224.54 221.50,224.54 222.00,224.54 222.50,224.54 223.00,224.54 223.50,224.54 224.00,224.54 224.50,224.54 225.00,224.54 225.50,224.54 226.00,224.54 226.50,224.54 227.00,224.54 227.50,224.54 228.00,224.54 228.50,224.54 229.00,224.54 229.50,224.54 230.00,224.54 230.50,224.54 231.00,224.54 231.50,224.54 232.00,224.54 232.50,224.54 233.00,224.54 233.50,224.54 234.00,224.54 234.50,224.54 235.00,224.54 235.50,224.54 236.00,224.54 236.50,224.54 237.00,224.54 237.50,224.54 238.00,224.54 238.50,224.54 239.00,224.54 239.50,224.54 240.00,224.54 240.50,224.54 241.00,224.54 241.50,224.54 242.00,224.54 242.50,224.54 243.00,224.54 243.50,224.54 244.00,224.54 244.50,224.54 245.00,224.54 245.50,224.54 246.00,224.54 246.50,224.54 247.00,224.54 247.50,224.54 248.00,224.54 248.50,224.54 249.00,224.54 249.50,224.54 250.00,224.53 250.50,224.53 251.00,224.53 251.50,224.53 252.00,224.53 252.50,224.53 253.00,224.53 253.50,224.53 254.00,224.53 254.50,224.53 255.00,224.53 255.50,224.53 256.00,224.53 256.50,224.53 257.00,224.53 257.50,224.53 258.00,224.53 258.50,224.53 259.00,224.53 259.50,224.53 260.00,224.53 260.50,224.53 261.00,224.53 261.50,224.53 262.00,224.53 262.50,224.53 263.00,224.53 263.50,224.53 264.00,224.53 264.50,224.53 265.00,224.53 265.50,224.53 266.00,224.53 266.50,224.53 267.00,224.53 267.50,224.53 268.00,224.53 268.50,224.53 269.00,224.53 269.50,224.53 270.00,224.53 270.50,224.53 271.00,224.53 271.50,224.53 272.00,224.53 272.50,224.53 273.00,224.53 273.50,224.53 274.00,224.53 274.50,224.53 275.00,224.53 275.50,224.53 276.00,224.53 276.50,224.53 277.00,224.53 277.50,224.53 278.00,224.53 278.50,224.53 279.00,224.53 279.50,224.53 280.00,224.53 280.50,224.53 281.00,224.53 281.50,224.53 282.00,224.53 282.50,224.53 283.00,224.53 283.50,224.53 284.00,224.53 284.50,224.53 285.00,224.53 285.50,224.53 286.00,224.53 286.50,224.53 287.00,224.53 287.50,224.53 288.00,224.53 288.50,224.53 289.00,224.53 289.50,224.53 290.00,224.53 290.50,224.53 291.00,224.53 291.50,224.53 292.00,224.53 292.50,224.53 293.00,224.53 293.50,224.53 294.00,224.53 294.50,224.53 295.00,224.53 295.50,224.53 296.00,224.53 296.50,224.53 297.00,224.53 297.50,224.53 298.00,224.53 298.50,224.53 299.00,224.53 299.50,224.52 300.00,224.52 300.50,224.52 301.00,224.52 301.50,224.52 302.00,224.52 302.50,224.52 303.00,224.52 303.50,224.52 304.00,224.52 304.50,224.52 305.00,224.52 305.50,224.52 306.00,224.52 306.50,224.52 307.00,224.52 307.50,224.52 308.00,224.52 308.50,224.52 309.00,224.52 309.50,224.52 310.00,224.52 310.50,224.52 311.00,224.52 311.50,224.52 312.00,224.52 312.50,224.52 313.00,224.52 313.50,224.52 314.00,224.52 314.50,224.52 315.00,224.52 315.50,224.52 316.00,224.52 316.50,224.52 317.00,224.52 317.50,224.52 318.00,224.52 318.50,224.52 319.00,224.52 319.50,224.52 320.00,224.52 320.50,224.52 321.00,224.52 321.50,224.52 322.00,224.52 322.50,224.52 323.00,224.52 323.50,224.52 324.00,224.52 324.50,224.52 325.00,224.52 325.50,224.52 326.00,224.52 326.50,224.52 327.00,224.52 327.50,224.52 328.00,224.52 328.50,224.52 329.00,224.52 329.50,224.52 330.00,224.52 330.50,224.52 331.00,224.52 331.50,224.52 332.00,224.52 332.50,224.52 333.00,224.52 333.50,224.52 334.00,224.52 334.50,224.52 335.00,224.52 335.50,224.52 336.00,224.52 336.50,224.52 337.00,224.52 337.50,224.52 338.00,224.52 338.50,224.52 339.00,224.52 339.50,224.52 340.00,224.52 340.50,224.52 341.00,224.52 341.50,224.52 342.00,224.52 342.50,224.52 343.00,224.52 343.50,224.52 344.00,224.52 344.50,224.52 345.00,224.52 345.50,224.52 346.00,224.52 346.50,224.52 347.00,224.52 347.50,224.52 348.00,224.52 348.50,224.52 349.00,224.52 349.50,224.52 350.00,224.52 350.50,224.52 351.00,224.52 351.50,224.52 352.00,224.52 352.50,224.52 353.00,224.52 353.50,224.52 354.00,224.52 354.50,224.52 355.00,224.52 355.50,224.52 356.00,224.52 356.50,224.52 357.00,224.52 357.50,224.52 358.00,224.52 358.50,224.52 359.00,224.52 359.50,224.52 360.00,224.52 360.50,224.52 361.00,224.52 361.50,224.52 362.00,224.52 362.50,224.52 363.00,224.52 363.50,224.52 364.00,224.52 364.50,224.52 365.00,224.52 365.50,224.52 366.00,224.52 366.50,224.52 367.00,224.52 367.50,224.52 368.00,224.52 368.50,224.52 369.00,224.52 369.50,224.52 370.00,224.52 370.50,224.52 371.00,224.52 371.50,224.52 372.00,224.52 372.50,224.52 373.00,224.52 373.50,224.52 374.00,224.52 374.50,224.52 375.00,224.52 375.50,224.52 376.00,224.52 376.50,224.52 377.00,224.52 377.50,224.52 378.00,224.52 378.50,224.52 379.00,224.52 379.50,224.52 380.00,224.52 380.50,224.52 381.00,224.52 381.50,224.52 382.00,224.52 382.50,224.51 383.00,224.51 383.50,224.51 384.00,224.51 384.50,224.51 385.00,224.51 385.50,224.51 386.00,224.51 386.50,224.51 387.00,224.51 387.50,224.51 388.00,224.51 388.50,224.51 389.00,224.51 389.50,224.51 390.00,224.51 390.50,224.51 391.00,224.51 391.50,224.51 392.00,224.51 392.50,224.51 393.00,224.51 393.50,224.51 394.00,224.51 394.50,224.51 395.00,224.51 395.50,224.51 396.00,224.51 396.50,224.51 397.00,224.51 397.50,224.51 398.00,224.51 398.50,224.51 399.00,224.51 399.50,224.51 400.00,224.51 400.50,224.51 401.00,224.51 401.50,224.51 402.00,224.51 402.50,224.51 403.00,224.51 403.50,224.51 404.00,224.51 404.50,224.51 405.00,224.51 405.50,224.51 406.00,224.51 406.50,224.51 407.00,224.51 407.50,224.51 408.00,224.51 408.50,224.51 409.00,224.51 409.50,224.51 410.00,224.51 410.50,224.51 411.00,224.51 411.50,224.51 412.00,224.51 412.50,224.51 413.00,224.51 413.50,224.51 414.00,224.51 414.50,224.51 415.00,224.51 415.50,224.51 416.00,224.51 416.50,224.51 417.00,224.51 417.50,224.51 418.00,224.51 418.50,224.51 419.00,224.51 419.50,224.51 420.00,224.51 420.50,224.51 421.00,224.51 421.50,224.51 422.00,224.51 422.50,224.51 423.00,224.51 423.50,224.51 424.00,224.51 424.50,224.51 425.00,224.51 425.50,224.51 426.00,224.51 426.50,224.51 427.00,224.51 427.50,224.51 428.00,224.51 428.50,224.51 429.00,224.51 429.50,224.51 430.00,224.51 430.50,224.51 431.00,224.51 431.50,224.51 432.00,224.51 432.50,224.51 433.00,224.51 433.50,224.51 434.00,224.51 434.50,224.51 435.00,224.51 435.50,224.51 436.00,224.51 436.50,224.51 437.00,224.51 437.50,224.50 438.00,224.50 438.50,224.50 439.00,224.50 439.50,224.50 440.00,224.50 440.50,224.50 441.00,224.50 441.50,224.50 442.00,224.50 442.50,224.50 443.00,224.50 443.50,224.50 444.00,224.50 444.50,224.50 445.00,224.50 445.50,224.50 446.00,224.50 446.50,224.50 447.00,224.50 447.50,224.50 448.00,224.50 448.50,224.50 449.00,224.50 449.50,224.50 450.00,224.50 450.50,224.50 451.00,224.50 451.50,224.50 452.00,224.50 452.50,224.50 453.00,224.50 453.50,224.50 454.00,224.50 454.50,224.50 455.00,224.50 455.50,224.50 455.50,335.50 131.00,335.50 131.00,244.40 130.50,244.38 130.00,244.35 129.50,244.33 129.00,244.31 128.50,244.29 128.00,244.27 127.50,244.24 127.00,244.22 126.50,244.19 126.00,244.16 125.50,244.13 125.00,244.10 124.50,244.06 124.00,244.02 123.50,243.97 123.00,243.92 122.50,243.86 122.00,243.80 121.50,243.73 121.00,243.66 120.50,243.58 120.00,243.50 119.50,243.41 119.00,243.30 118.50,243.17 118.00,243.03 117.50,242.89 117.00,242.73 116.50,242.58 116.00,242.42 115.50,242.26 115.00,242.10 114.50,241.95 114.00,241.79 113.50,241.63 113.00,241.47 112.50,241.30 112.00,241.13 111.50,240.96 111.00,240.78 110.50,240.59 110.00,240.40 109.50,240.20 109.00,239.98 108.50,239.75 108.00,239.51 107.50,239.27 107.00,239.03 106.50,238.79 106.00,238.55 105.50,238.32 105.00,238.10 104.50,237.89 104.00,237.67 103.50,237.46 103.00,237.25 102.50,237.04 102.00,236.84 101.50,236.64 101.00,236.45 100.50,236.27 100.00,236.10 99.50,235.94 99.00,235.77 98.50,235.61 98.00,235.46 97.50,235.31 97.00,235.17 96.50,235.03 96.00,234.91 95.50,234.80 95.00,234.70 94.52,234.61 94.04,234.52 93.57,234.43 93.09,234.34 92.61,234.26 92.13,234.20 91.66,234.15 91.18,234.11 90.70,234.10" fill="#6ba643" />
<polygon points="91.60,268.10 92.09,268.09 92.58,268.07 93.07,268.03 93.56,267.97 94.04,267.91 94.53,267.84 95.02,267.76 95.51,267.68 96.00,267.60 96.50,267.50 97.00,267.39 97.50,267.25 98.00,267.09 98.50,266.92 99.00,266.73 99.50,266.52 100.00,266.30 100.50,266.05 101.00,265.74 101.50,265.39 102.00,265.01 102.50,264.59 103.00,264.15 103.50,263.70 104.00,263.23 104.50,262.76 105.00,262.30 105.50,261.83 106.00,261.32 106.50,260.80 107.00,260.26 107.50,259.70 108.00,259.14 108.50,258.57 109.00,258.01 109.50,257.45 110.00,256.90 110.50,256.35 111.00,255.79 111.50,255.23 112.00,254.66 112.50,254.10 113.00,253.54 113.50,253.00 114.00,252.48 114.50,251.97 115.00,251.50 115.50,251.04 116.00,250.58 116.50,250.13 117.00,249.69 117.50,249.26 118.00,248.85 118.50,248.47 119.00,248.11 119.50,247.79 120.00,247.50 120.50,247.24 121.00,246.99 121.50,246.75 122.00,246.52 122.50,246.30 123.00,246.11 123.50,245.93 124.00,245.76 124.50,245.62 125.00,245.50 125.50,245.39 126.00,245.28 126.50,245.17 127.00,245.07 127.50,244.97 128.00,244.88 128.50,244.80 129.00,244.74 129.50,244.68 130.00,244.64 130.50,244.61 131.00,244.60 131.50,244.61 132.00,244.62 132.50,244.65 133.00,244.68 133.50,244.73 134.00,244.78 134.50,244.84 135.00,244.90 135.50,244.96 136.00,245.03 136.50,245.11 137.00,245.18 137.50,245.25 138.00,245.33 138.50,245.40 139.00,245.47 139.50,245.54 140.00,245.60 140.50,245.66 141.00,245.73 141.50,245.79 142.00,245.86 142.50,245.93 143.00,246.00 143.50,246.07 144.00,246.14 144.50,246.21 145.00,246.28 145.50,246.35 146.00,246.42 146.50,246.49 147.00,246.55 147.50,246.62 148.00,246.68 148.50,246.74 149.00,246.80 149.50,246.86 150.00,247.07 150.50,247.09 151.00,247.12 151.50,247.15 152.00,247.18 152.50,247.22 153.00,247.26 153.50,247.30 154.00,247.34 154.50,247.38 155.00,247.43 155.50,247.48 156.00,247.53 156.50,247.58 157.00,247.64 157.50,247.69 158.00,247.75 158.50,247.82 159.00,247.88 159.50,247.95 160.00,248.02 160.50,248.10 161.00,248.18 161.50,248.26 162.00,248.35 162.50,248.45 163.00,248.54 163.50,248.65 164.00,248.76 164.50,248.87 165.00,248.99 165.50,249.12 166.00,249.26 166.50,249.40 167.00,249.55 167.50,249.70 168.00,249.87 168.50,250.04 169.00,250.22 169.50,250.40 170.00,250.60 170.50,250.80 171.00,251.01 171.50,251.23 172.00,251.46 172.50,251.69 173.00,251.93 173.50,252.18 174.00,252.43 174.50,252.70 175.00,252.96 175.50,253.24 176.00,253.52 176.50,253.80 177.00,254.10 177.50,254.39 178.00,254.70 178.50,255.00 179.00,255.31 179.50,255.63 180.00,255.95 180.50,256.28 181.00,256.61 181.50,256.94 182.00,257.28 182.50,257.62 183.00,257.96 183.50,258.31 184.00,258.65 184.50,259.00 185.00,259.35 185.50,259.69 186.00,260.04 186.50,260.39 187.00,260.73 187.50,261.07 188.00,261.40 188.50,261.73 189.00,262.06 189.50,262.38 190.00,262.69 190.50,263.00 191.00,263.29 191.50,263.58 192.00,263.87 192.50,264.14 193.00,264.41 193.50,264.67 194.00,264.92 194.50,265.16 195.00,265.39 195.50,265.61 196.00,265.83 196.50,266.03 197.00,266.22 197.50,266.41 198.00,266.58 198.50,266.74 199.00,266.89 199.50,267.03 200.00,267.17 200.50,267.29 201.00,267.40 201.50,267.50 202.00,267.60 202.50,267.68 203.00,267.77 203.50,267.84 204.00,267.91 204.50,267.98 205.00,268.04 205.50,268.10 206.00,268.16 206.50,268.21 207.00,268.27 207.50,268.33 208.00,268.39 208.50,268.45 209.00,268.51 209.50,268.57 210.00,268.64 210.50,268.72 211.00,268.79 211.50,268.87 212.00,268.96 212.50,269.05 213.00,269.14 213.50,269.24 214.00,269.34 214.50,269.45 215.00,269.57 215.50,269.69 216.00,269.82 216.50,269.95 217.00,270.09 217.50,270.23 218.00,270.38 218.50,270.54 219.00,270.70 219.50,270.88 220.00,271.06 220.50,271.24 221.00,271.44 221.50,271.64 222.00,271.86 222.50,272.08 223.00,272.31 223.50,272.55 224.00,272.80 224.50,273.06 225.00,273.33 225.50,273.61 226.00,273.90 226.50,274.20 227.00,274.52 227.50,274.84 228.00,275.18 228.50,275.52 229.00,275.88 229.50,276.25 230.00,276.63 230.50,277.03 231.00,277.44 231.50,277.86 232.00,278.29 232.50,278.73 233.00,279.19 233.50,279.65 234.00,280.13 234.50,280.62 235.00,281.11 235.50,281.62 236.00,282.13 236.50,282.65 237.00,283.18 237.50,283.72 238.00,284.26 238.50,284.81 239.00,285.36 239.50,285.92 240.00,286.48 240.50,287.05 241.00,287.63 241.50,288.21 242.00,288.79 242.50,289.39 243.00,289.99 243.50,290.59 244.00,291.21 244.50,291.83 245.00,292.45 245.50,293.08 246.00,293.72 246.50,294.36 247.00,295.01 247.50,295.67 248.00,296.32 248.50,296.98 249.00,297.64 249.50,298.31 250.00,298.97 250.50,299.64 251.00,300.31 251.50,300.97 252.00,301.64 252.50,302.31 253.00,302.97 253.50,303.64 254.00,304.31 254.50,304.97 255.00,305.63 255.50,306.29 256.00,306.95 256.50,307.60 257.00,308.25 257.50,308.89 258.00,309.52 258.50,310.14 259.00,310.76 259.50,311.35 260.00,311.94 260.50,312.51 261.00,313.07 261.50,313.61 262.00,314.13 262.50,314.64 263.00,315.13 263.50,315.60 264.00,316.06 264.50,316.50 265.00,316.93 265.50,317.35 266.00,317.75 266.50,318.15 267.00,318.53 267.50,318.90 268.00,319.27 268.50,319.63 269.00,319.99 269.50,320.34 270.00,320.68 270.50,321.02 271.00,321.36 271.50,321.69 272.00,322.02 272.50,322.35 273.00,322.67 273.50,322.99 274.00,323.30 274.50,323.61 275.00,323.91 275.50,324.21 276.00,324.51 276.50,324.80 277.00,325.08 277.50,325.36 278.00,325.63 278.50,325.90 279.00,326.16 279.50,326.41 280.00,326.66 280.50,326.91 281.00,327.15 281.50,327.38 282.00,327.61 282.50,327.84 283.00,328.06 283.50,328.27 284.00,328.48 284.50,328.69 285.00,328.89 285.50,329.09 286.00,329.28 286.50,329.47 287.00,329.65 287.50,329.83 288.00,330.01 288.50,330.18 289.00,330.34 289.50,330.50 290.00,330.66 290.50,330.81 291.00,330.95 291.50,331.09 292.00,331.23 292.50,331.36 293.00,331.48 293.50,331.60 294.00,331.71 294.50,331.82 295.00,331.92 295.50,332.02 296.00,332.11 296.50,332.19 297.00,332.27 297.50,332.35 298.00,332.42 298.50,332.49 299.00,332.55 299.50,332.60 300.00,332.66 300.50,332.70 301.00,332.75 301.50,332.79 302.00,332.83 302.50,332.86 303.00,332.90 303.50,332.93 304.00,332.96 304.50,332.98 305.00,333.01 305.50,333.03 306.00,333.05 306.50,333.08 307.00,333.10 307.50,333.12 308.00,333.13 308.50,333.15 309.00,333.17 309.50,333.19 310.00,333.21 310.50,333.22 311.00,333.24 311.50,333.25 312.00,333.27 312.50,333.28 313.00,333.30 313.50,333.31 314.00,333.33 314.50,333.34 315.00,333.35 315.50,333.36 316.00,333.38 316.50,333.39 317.00,333.40 317.50,333.41 318.00,333.42 318.50,333.44 319.00,333.45 319.50,333.46 320.00,333.47 320.50,333.48 321.00,333.49 321.50,333.50 322.00,333.51 322.50,333.52 323.00,333.52 323.50,333.53 324.00,333.54 324.50,333.55 325.00,333.56 325.50,333.57 326.00,333.58 326.50,333.59 327.00,333.59 327.50,333.60 328.00,333.61 328.50,333.62 329.00,333.63 329.50,333.63 330.00,333.64 330.50,333.65 331.00,333.66 331.50,333.66 332.00,333.67 332.50,333.68 333.00,333.69 333.50,333.70 334.00,333.70 334.50,333.71 335.00,333.72 335.50,333.73 336.00,333.74 336.50,333.74 337.00,333.75 337.50,333.76 338.00,333.77 338.50,333.78 339.00,333.78 339.50,333.79 340.00,333.80 340.50,333.81 341.00,333.82 341.50,333.83 342.00,333.84 342.50,333.84 343.00,333.85 343.50,333.86 344.00,333.87 344.50,333.88 345.00,333.89 345.50,333.90 346.00,333.91 346.50,333.91 347.00,333.92 347.50,333.93 348.00,333.94 348.50,333.95 349.00,333.96 349.50,333.97 350.00,333.97 350.50,333.98 351.00,333.99 351.50,334.00 352.00,334.01 352.50,334.02 353.00,334.02 353.50,334.03 354.00,334.04 354.50,334.05 355.00,334.06 355.50,334.07 356.00,334.07 356.50,334.08 357.00,334.09 357.50,334.10 358.00,334.11 358.50,334.12 359.00,334.12 359.50,334.13 360.00,334.14 360.50,334.15 361.00,334.15 361.50,334.16 362.00,334.17 362.50,334.18 363.00,334.19 363.50,334.19 364.00,334.20 364.50,334.21 365.00,334.22 365.50,334.22 366.00,334.23 366.50,334.24 367.00,334.25 367.50,334.25 368.00,334.26 368.50,334.27 369.00,334.28 369.50,334.28 370.00,334.29 370.50,334.30 371.00,334.30 371.50,334.31 372.00,334.32 372.50,334.32 373.00,334.33 373.50,334.34 374.00,334.34 374.50,334.35 375.00,334.36 375.50,334.36 376.00,334.37 376.50,334.38 377.00,334.38 377.50,334.39 378.00,334.40 378.50,334.40 379.00,334.41 379.50,334.41 380.00,334.42 380.50,334.43 381.00,334.43 381.50,334.44 382.00,334.44 382.50,334.45 383.00,334.45 383.50,334.46 384.00,334.46 384.50,334.47 385.00,334.48 385.50,334.48 386.00,334.49 386.50,334.49 387.00,334.50 387.50,334.50 388.00,334.51 388.50,334.51 389.00,334.51 389.50,334.52 390.00,334.52 390.50,334.53 391.00,334.53 391.50,334.54 392.00,334.54 392.50,334.55 393.00,334.55 393.50,334.55 394.00,334.56 394.50,334.56 395.00,334.56 395.50,334.57 396.00,334.57 396.50,334.58 397.00,334.58 397.50,334.58 398.00,334.59 398.50,334.59 399.00,334.59 399.50,334.60 400.00,334.60 400.50,334.60 401.00,334.60 401.50,334.61 402.00,334.61 402.50,334.61 403.00,334.62 403.50,334.62 404.00,334.62 404.50,334.62 405.00,334.63 405.50,334.63 406.00,334.63 406.50,334.63 407.00,334.64 407.50,334.64 408.00,334.64 408.50,334.64 409.00,334.64 409.50,334.65 410.00,334.65 410.50,334.65 411.00,334.65 411.50,334.66 412.00,334.66 412.50,334.66 413.00,334.66 413.50,334.66 414.00,334.67 414.50,334.67 415.00,334.67 415.50,334.67 416.00,334.67 416.50,334.68 417.00,334.68 417.50,334.68 418.00,334.68 418.50,334.68 419.00,334.68 419.50,334.69 420.00,334.69 420.50,334.69 421.00,334.69 421.50,334.69 422.00,334.70 422.50,334.70 423.00,334.70 423.50,334.70 424.00,334.70 424.50,334.70 425.00,334.71 425.50,334.71 426.00,334.71 426.50,334.71 427.00,334.71 427.50,334.71 428.00,334.71 428.50,334.72 429.00,334.72 429.50,334.72 430.00,334.72 430.50,334.72 431.00,334.72 431.50,334.73 432.00,334.73 432.50,334.73 433.00,334.73 433.50,334.73 434.00,334.73 434.50,334.73 435.00,334.74 435.50,334.74 436.00,334.74 436.50,334.74 437.00,334.74 437.50,334.74 438.00,334.74 438.50,334.75 439.00,334.75 439.50,334.75 440.00,334.75 440.50,334.75 441.00,334.75 441.50,334.76 442.00,334.76 442.50,334.76 443.00,334.76 443.50,334.76 444.00,334.76 444.50,334.76 445.00,334.77 445.50,334.77 446.00,334.77 446.50,334.77 447.00,334.77 447.50,334.77 448.00,334.77 448.50,334.78 449.00,334.78 449.50,334.78 450.00,334.78 450.50,334.78 451.00,334.78 451.50,334.79 452.00,334.79 452.50,334.79 453.00,334.79 453.50,334.79 454.00,334.79 454.50,334.79 455.00,334.79 455.50,334.79 455.50,335.50 145.00,335.50 145.00,291.40 144.50,291.39 144.00,291.38 143.50,291.37 143.00,291.37 142.50,291.36 142.00,291.35 141.50,291.34 141.00,291.34 140.50,291.33 140.00,291.32 139.50,291.31 139.00,291.31 138.50,291.30 138.00,291.29 137.50,291.28 137.00,291.26 136.50,291.25 136.00,291.23 135.50,291.22 135.00,291.20 134.50,291.17 134.00,291.14 133.50,291.08 133.00,291.02 132.50,290.95 132.00,290.87 131.50,290.79 131.00,290.70 130.50,290.60 130.00,290.50 129.50,290.39 129.00,290.25 128.50,290.10 128.00,289.93 127.50,289.74 127.00,289.55 126.50,289.34 126.00,289.13 125.50,288.92 125.00,288.70 124.50,288.48 124.00,288.24 123.50,288.00 123.00,287.74 122.50,287.48 122.00,287.20 121.50,286.92 121.00,286.62 120.50,286.31 120.00,286.00 119.50,285.67 119.00,285.32 118.50,284.95 118.00,284.56 117.50,284.17 117.00,283.76 116.50,283.35 116.00,282.93 115.50,282.52 115.00,282.10 114.50,281.68 114.00,281.25 113.50,280.81 113.00,280.36 112.50,279.91 112.00,279.46 111.50,279.01 111.00,278.57 110.50,278.13 110.00,277.70 109.50,277.27 109.00,276.84 108.50,276.41 108.00,275.98 107.50,275.56 107.00,275.14 106.50,274.74 106.00,274.34 105.50,273.96 105.00,273.60 104.50,273.25 104.00,272.91 103.50,272.57 103.00,272.24 102.50,271.92 102.00,271.61 101.50,271.32 101.00,271.03 100.50,270.76 100.00,270.50 99.50,270.25 99.00,270.00 98.50,269.75 98.00,269.52 97.50,269.30 97.00,269.10 96.50,268.93 96.00,268.80 95.51,268.69 95.02,268.57 94.53,268.47 94.04,268.37 93.56,268.28 93.07,268.21 92.58,268.15 92.09,268.11 91.60,268.10" fill="#a3002a" />
<polygon points="91.60,298.30 92.09,298.29 92.58,298.28 93.07,298.25 93.56,298.22 94.04,298.18 94.53,298.14 95.02,298.09 95.51,298.05 96.00,298.00 96.50,297.95 97.00,297.89 97.50,297.83 98.00,297.75 98.50,297.67 99.00,297.59 99.50,297.50 100.00,297.40 100.50,297.29 101.00,297.16 101.50,297.01 102.00,296.85 102.50,296.67 103.00,296.50 103.50,296.32 104.00,296.14 104.50,295.97 105.00,295.80 105.50,295.64 106.00,295.47 106.50,295.30 107.00,295.12 107.50,294.95 108.00,294.79 108.50,294.63 109.00,294.47 109.50,294.33 110.00,294.20 110.50,294.08 111.00,293.97 111.50,293.86 112.00,293.76 112.50,293.66 113.00,293.56 113.50,293.47 114.00,293.38 114.50,293.29 115.00,293.20 115.50,293.11 116.00,293.02 116.50,292.93 117.00,292.84 117.50,292.76 118.00,292.67 118.50,292.60 119.00,292.52 119.50,292.46 120.00,292.40 120.50,292.35 121.00,292.30 121.50,292.26 122.00,292.22 122.50,292.19 123.00,292.15 123.50,292.12 124.00,292.08 124.50,292.04 125.00,292.00 125.50,291.96 126.00,291.91 126.50,291.86 127.00,291.82 127.50,291.77 128.00,291.72 128.50,291.67 129.00,291.62 129.50,291.57 130.00,291.51 130.50,291.46 131.00,291.40 131.50,291.34 132.00,291.27 132.50,291.20 133.00,291.13 133.50,291.06 134.00,290.98 134.50,290.90 135.00,290.82 135.50,290.74 136.00,290.66 136.50,290.58 137.00,290.51 137.50,290.43 138.00,290.36 138.50,290.29 139.00,290.22 139.50,290.16 140.00,290.10 140.50,290.04 141.00,289.99 141.50,289.93 142.00,289.87 142.50,289.81 143.00,289.75 143.50,289.69 144.00,289.63 144.50,289.58 145.00,289.52 145.50,289.48 146.00,289.43 146.50,289.40 147.00,289.36 147.50,289.34 148.00,289.32 148.50,289.30 149.00,289.30 149.50,289.30 150.00,289.35 150.50,289.36 151.00,289.37 151.50,289.38 152.00,289.39 152.50,289.40 153.00,289.42 153.50,289.43 154.00,289.45 154.50,289.47 155.00,289.49 155.50,289.51 156.00,289.53 156.50,289.55 157.00,289.57 157.50,289.60 158.00,289.62 158.50,289.65 159.00,289.67 159.50,289.70 160.00,289.73 160.50,289.76 161.00,289.79 161.50,289.83 162.00,289.86 162.50,289.89 163.00,289.93 163.50,289.97 164.00,290.00 164.50,290.04 165.00,290.08 165.50,290.12 166.00,290.16 166.50,290.20 167.00,290.24 167.50,290.29 168.00,290.33 168.50,290.37 169.00,290.42 169.50,290.46 170.00,290.51 170.50,290.55 171.00,290.60 171.50,290.65 172.00,290.69 172.50,290.74 173.00,290.79 173.50,290.84 174.00,290.89 174.50,290.94 175.00,290.99 175.50,291.04 176.00,291.09 176.50,291.14 177.00,291.20 177.50,291.25 178.00,291.30 178.50,291.36 179.00,291.41 179.50,291.47 180.00,291.53 180.50,291.59 181.00,291.65 181.50,291.71 182.00,291.77 182.50,291.83 183.00,291.89 183.50,291.95 184.00,292.01 184.50,292.08 185.00,292.14 185.50,292.21 186.00,292.27 186.50,292.34 187.00,292.40 187.50,292.47 188.00,292.53 188.50,292.60 189.00,292.67 189.50,292.73 190.00,292.80 190.50,292.87 191.00,292.93 191.50,293.00 192.00,293.07 192.50,293.14 193.00,293.20 193.50,293.27 194.00,293.34 194.50,293.40 195.00,293.47 195.50,293.54 196.00,293.61 196.50,293.67 197.00,293.74 197.50,293.81 198.00,293.87 198.50,293.94 199.00,294.01 199.50,294.07 200.00,294.14 200.50,294.21 201.00,294.27 201.50,294.34 202.00,294.40 202.50,294.47 203.00,294.53 203.50,294.59 204.00,294.66 204.50,294.72 205.00,294.78 205.50,294.84 206.00,294.91 206.50,294.97 207.00,295.03 207.50,295.09 208.00,295.15 208.50,295.21 209.00,295.27 209.50,295.33 210.00,295.39 210.50,295.45 211.00,295.52 211.50,295.58 212.00,295.64 212.50,295.70 213.00,295.76 213.50,295.83 214.00,295.89 214.50,295.96 215.00,296.02 215.50,296.09 216.00,296.16 216.50,296.23 217.00,296.30 217.50,296.37 218.00,296.44 218.50,296.52 219.00,296.60 219.50,296.68 220.00,296.77 220.50,296.85 221.00,296.95 221.50,297.04 222.00,297.14 222.50,297.25 223.00,297.36 223.50,297.48 224.00,297.60 224.50,297.73 225.00,297.87 225.50,298.02 226.00,298.17 226.50,298.33 227.00,298.50 227.50,298.68 228.00,298.87 228.50,299.06 229.00,299.27 229.50,299.48 230.00,299.70 230.50,299.93 231.00,300.17 231.50,300.42 232.00,300.68 232.50,300.94 233.00,301.21 233.50,301.49 234.00,301.78 234.50,302.08 235.00,302.39 235.50,302.70 236.00,303.02 236.50,303.35 237.00,303.69 237.50,304.03 238.00,304.38 238.50,304.74 239.00,305.10 239.50,305.47 240.00,305.84 240.50,306.21 241.00,306.58 241.50,306.96 242.00,307.34 242.50,307.72 243.00,308.09 243.50,308.47 244.00,308.84 244.50,309.22 245.00,309.58 245.50,309.95 246.00,310.31 246.50,310.67 247.00,311.03 247.50,311.39 248.00,311.74 248.50,312.09 249.00,312.44 249.50,312.79 250.00,313.15 250.50,313.50 251.00,313.86 251.50,314.22 252.00,314.58 252.50,314.95 253.00,315.33 253.50,315.71 254.00,316.10 254.50,316.49 255.00,316.89 255.50,317.29 256.00,317.69 256.50,318.10 257.00,318.51 257.50,318.92 258.00,319.33 258.50,319.74 259.00,320.14 259.50,320.53 260.00,320.92 260.50,321.29 261.00,321.66 261.50,322.01 262.00,322.35 262.50,322.68 263.00,323.00 263.50,323.30 264.00,323.60 264.50,323.88 265.00,324.14 265.50,324.40 266.00,324.65 266.50,324.89 267.00,325.12 267.50,325.34 268.00,325.56 268.50,325.77 269.00,325.98 269.50,326.18 270.00,326.38 270.50,326.57 271.00,326.77 271.50,326.96 272.00,327.14 272.50,327.33 273.00,327.51 273.50,327.69 274.00,327.87 274.50,328.04 275.00,328.21 275.50,328.38 276.00,328.54 276.50,328.70 277.00,328.86 277.50,329.01 278.00,329.16 278.50,329.31 279.00,329.45 279.50,329.59 280.00,329.73 280.50,329.87 281.00,330.00 281.50,330.12 282.00,330.25 282.50,330.37 283.00,330.49 283.50,330.61 284.00,330.73 284.50,330.84 285.00,330.96 285.50,331.07 286.00,331.18 286.50,331.28 287.00,331.39 287.50,331.49 288.00,331.59 288.50,331.69 289.00,331.79 289.50,331.89 290.00,331.98 290.50,332.07 291.00,332.16 291.50,332.24 292.00,332.33 292.50,332.41 293.00,332.49 293.50,332.57 294.00,332.64 294.50,332.71 295.00,332.78 295.50,332.85 296.00,332.91 296.50,332.97 297.00,333.02 297.50,333.08 298.00,333.13 298.50,333.18 299.00,333.22 299.50,333.26 300.00,333.30 300.50,333.34 301.00,333.38 301.50,333.41 302.00,333.44 302.50,333.47 303.00,333.49 303.50,333.52 304.00,333.54 304.50,333.56 305.00,333.59 305.50,333.61 306.00,333.63 306.50,333.64 307.00,333.66 307.50,333.68 308.00,333.70 308.50,333.71 309.00,333.73 309.50,333.75 310.00,333.76 310.50,333.78 311.00,333.79 311.50,333.80 312.00,333.82 312.50,333.83 313.00,333.85 313.50,333.86 314.00,333.87 314.50,333.88 315.00,333.90 315.50,333.91 316.00,333.92 316.50,333.93 317.00,333.94 317.50,333.95 318.00,333.97 318.50,333.98 319.00,333.99 319.50,334.00 320.00,334.01 320.50,334.02 321.00,334.03 321.50,334.04 322.00,334.04 322.50,334.05 323.00,334.06 323.50,334.07 324.00,334.08 324.50,334.09 325.00,334.10 325.50,334.10 326.00,334.11 326.50,334.12 327.00,334.13 327.50,334.13 328.00,334.14 328.50,334.15 329.00,334.16 329.50,334.16 330.00,334.17 330.50,334.18 331.00,334.18 331.50,334.19 332.00,334.20 332.50,334.20 333.00,334.21 333.50,334.22 334.00,334.22 334.50,334.23 335.00,334.24 335.50,334.24 336.00,334.25 336.50,334.26 337.00,334.26 337.50,334.27 338.00,334.27 338.50,334.28 339.00,334.29 339.50,334.29 340.00,334.30 340.50,334.31 341.00,334.31 341.50,334.32 342.00,334.32 342.50,334.33 343.00,334.34 343.50,334.34 344.00,334.35 344.50,334.35 345.00,334.36 345.50,334.37 346.00,334.37 346.50,334.38 347.00,334.38 347.50,334.39 348.00,334.40 348.50,334.40 349.00,334.41 349.50,334.41 350.00,334.42 350.50,334.42 351.00,334.43 351.50,334.44 352.00,334.44 352.50,334.45 353.00,334.45 353.50,334.46 354.00,334.46 354.50,334.47 355.00,334.47 355.50,334.48 356.00,334.49 356.50,334.49 357.00,334.50 357.50,334.50 358.00,334.51 358.50,334.51 359.00,334.52 359.50,334.52 360.00,334.53 360.50,334.53 361.00,334.54 361.50,334.54 362.00,334.55 362.50,334.55 363.00,334.56 363.50,334.56 364.00,334.57 364.50,334.57 365.00,334.58 365.50,334.58 366.00,334.59 366.50,334.59 367.00,334.59 367.50,334.60 368.00,334.60 368.50,334.61 369.00,334.61 369.50,334.62 370.00,334.62 370.50,334.63 371.00,334.63 371.50,334.63 372.00,334.64 372.50,334.64 373.00,334.65 373.50,334.65 374.00,334.65 374.50,334.66 375.00,334.66 375.50,334.67 376.00,334.67 376.50,334.67 377.00,334.68 377.50,334.68 378.00,334.68 378.50,334.69 379.00,334.69 379.50,334.70 380.00,334.70 380.50,334.70 381.00,334.71 381.50,334.71 382.00,334.71 382.50,334.72 383.00,334.72 383.50,334.72 384.00,334.72 384.50,334.73 385.00,334.73 385.50,334.73 386.00,334.74 386.50,334.74 387.00,334.74 387.50,334.75 388.00,334.75 388.50,334.75 389.00,334.75 389.50,334.76 390.00,334.76 390.50,334.76 391.00,334.76 391.50,334.77 392.00,334.77 392.50,334.77 393.00,334.77 393.50,334.77 394.00,334.78 394.50,334.78 395.00,334.78 395.50,334.78 396.00,334.78 396.50,334.79 397.00,334.79 397.50,334.79 398.00,334.79 398.50,334.79 399.00,334.80 399.50,334.80 400.00,334.80 400.50,334.80 401.00,334.80 401.50,334.80 402.00,334.80 402.50,334.81 403.00,334.81 403.50,334.81 404.00,334.81 404.50,334.81 405.00,334.81 405.50,334.81 406.00,334.82 406.50,334.82 407.00,334.82 407.50,334.82 408.00,334.82 408.50,334.82 409.00,334.82 409.50,334.82 410.00,334.83 410.50,334.83 411.00,334.83 411.50,334.83 412.00,334.83 412.50,334.83 413.00,334.83 413.50,334.83 414.00,334.83 414.50,334.83 415.00,334.84 415.50,334.84 416.00,334.84 416.50,334.84 417.00,334.84 417.50,334.84 418.00,334.84 418.50,334.84 419.00,334.84 419.50,334.84 420.00,334.85 420.50,334.85 421.00,334.85 421.50,334.85 422.00,334.85 422.50,334.85 423.00,334.85 423.50,334.85 424.00,334.85 424.50,334.85 425.00,334.85 425.50,334.85 426.00,334.86 426.50,334.86 427.00,334.86 427.50,334.86 428.00,334.86 428.50,334.86 429.00,334.86 429.50,334.86 430.00,334.86 430.50,334.86 431.00,334.86 431.50,334.86 432.00,334.86 432.50,334.86 433.00,334.87 433.50,334.87 434.00,334.87 434.50,334.87 435.00,334.87 435.50,334.87 436.00,334.87 436.50,334.87 437.00,334.87 437.50,334.87 438.00,334.87 438.50,334.87 439.00,334.87 439.50,334.87 440.00,334.88 440.50,334.88 441.00,334.88 441.50,334.88 442.00,334.88 442.50,334.88 443.00,334.88 443.50,334.88 444.00,334.88 444.50,334.88 445.00,334.88 445.50,334.88 446.00,334.88 446.50,334.89 447.00,334.89 447.50,334.89 448.00,334.89 448.50,334.89 449.00,334.89 449.50,334.89 450.00,334.89 450.50,334.89 451.00,334.89 451.50,334.89 452.00,334.89 452.50,334.89 453.00,334.89 453.50,334.90 454.00,334.90 454.50,334.90 455.00,334.90 455.50,334.90 455.50,335.50 130.00,335.50 130.00,304.30 129.50,304.26 129.00,304.22 128.50,304.18 128.00,304.14 127.50,304.10 127.00,304.06 126.50,304.02 126.00,303.98 125.50,303.94 125.00,303.90 124.50,303.86 124.00,303.82 123.50,303.79 123.00,303.75 122.50,303.71 122.00,303.68 121.50,303.64 121.00,303.59 120.50,303.55 120.00,303.50 119.50,303.45 119.00,303.39 118.50,303.33 118.00,303.26 117.50,303.19 117.00,303.12 116.50,303.04 116.00,302.96 115.50,302.88 115.00,302.80 114.50,302.72 114.00,302.63 113.50,302.53 113.00,302.44 112.50,302.34 112.00,302.24 111.50,302.13 111.00,302.02 110.50,301.91 110.00,301.80 109.50,301.68 109.00,301.56 108.50,301.43 108.00,301.29 107.50,301.16 107.00,301.02 106.50,300.88 106.00,300.75 105.50,300.62 105.00,300.50 104.50,300.38 104.00,300.27 103.50,300.15 103.00,300.04 102.50,299.93 102.00,299.82 101.50,299.72 101.00,299.61 100.50,299.50 100.00,299.40 99.50,299.29 99.00,299.18 98.50,299.06 98.00,298.95 97.50,298.84 97.00,298.74 96.50,298.66 96.00,298.60 95.51,298.55 95.02,298.50 94.53,298.46 94.04,298.41 93.56,298.38 93.07,298.34 92.58,298.32 92.09,298.31 91.60,298.30" fill="#8c86bb" />
<polygon points="91.50,314.40 92.00,314.39 92.50,314.38 93.00,314.36 93.50,314.32 94.00,314.29 94.50,314.25 95.00,314.20 95.50,314.15 96.00,314.10 96.50,314.04 97.00,313.97 97.50,313.88 98.00,313.78 98.50,313.67 99.00,313.55 99.50,313.43 100.00,313.30 100.50,313.17 101.00,313.02 101.50,312.85 102.00,312.68 102.50,312.50 103.00,312.31 103.50,312.11 104.00,311.91 104.50,311.71 105.00,311.50 105.50,311.29 106.00,311.06 106.50,310.82 107.00,310.57 107.50,310.32 108.00,310.06 108.50,309.81 109.00,309.56 109.50,309.33 110.00,309.10 110.50,308.88 111.00,308.66 111.50,308.44 112.00,308.23 112.50,308.01 113.00,307.81 113.50,307.62 114.00,307.43 114.50,307.26 115.00,307.10 115.50,306.95 116.00,306.81 116.50,306.67 117.00,306.54 117.50,306.41 118.00,306.29 118.50,306.18 119.00,306.08 119.50,305.98 120.00,305.90 120.50,305.82 121.00,305.75 121.50,305.68 122.00,305.61 122.50,305.55 123.00,305.49 123.50,305.44 124.00,305.39 124.50,305.34 125.00,305.30 125.50,305.26 126.00,305.22 126.50,305.18 127.00,305.14 127.50,305.10 128.00,305.07 128.50,305.04 129.00,305.02 129.50,305.00 130.00,305.00 130.50,305.00 131.00,305.00 131.50,305.00 132.00,305.00 132.50,305.00 133.00,305.00 133.50,305.00 134.00,305.00 134.50,305.00 135.00,305.00 135.50,305.00 136.00,305.00 136.50,305.00 137.00,305.00 137.50,305.00 138.00,305.00 138.50,305.00 139.00,305.00 139.50,305.00 140.00,305.00 140.50,305.00 141.00,305.00 141.50,305.00 142.00,305.00 142.50,305.00 143.00,305.00 143.50,305.00 144.00,305.00 144.50,305.00 145.00,305.00 145.50,305.00 146.00,305.00 146.50,305.00 147.00,305.00 147.50,305.00 148.00,305.00 148.50,305.00 149.00,305.00 149.50,305.00 150.00,305.00 150.50,305.00 151.00,305.00 151.50,305.01 152.00,305.01 152.50,305.01 153.00,305.01 153.50,305.01 154.00,305.01 154.50,305.01 155.00,305.02 155.50,305.02 156.00,305.02 156.50,305.02 157.00,305.02 157.50,305.03 158.00,305.03 158.50,305.03 159.00,305.04 159.50,305.04 160.00,305.04 160.50,305.05 161.00,305.05 161.50,305.05 162.00,305.06 162.50,305.06 163.00,305.07 163.50,305.07 164.00,305.08 164.50,305.08 165.00,305.09 165.50,305.09 166.00,305.10 166.50,305.10 167.00,305.11 167.50,305.11 168.00,305.12 168.50,305.13 169.00,305.13 169.50,305.14 170.00,305.15 170.50,305.15 171.00,305.16 171.50,305.17 172.00,305.17 172.50,305.18 173.00,305.19 173.50,305.19 174.00,305.20 174.50,305.21 175.00,305.22 175.50,305.22 176.00,305.23 176.50,305.24 177.00,305.25 177.50,305.26 178.00,305.26 178.50,305.27 179.00,305.28 179.50,305.29 180.00,305.30 180.50,305.31 181.00,305.32 181.50,305.33 182.00,305.33 182.50,305.34 183.00,305.35 183.50,305.36 184.00,305.37 184.50,305.38 185.00,305.39 185.50,305.40 186.00,305.41 186.50,305.42 187.00,305.43 187.50,305.44 188.00,305.45 188.50,305.46 189.00,305.47 189.50,305.48 190.00,305.49 190.50,305.50 191.00,305.51 191.50,305.52 192.00,305.53 192.50,305.54 193.00,305.55 193.50,305.56 194.00,305.57 194.50,305.58 195.00,305.59 195.50,305.60 196.00,305.61 196.50,305.62 197.00,305.63 197.50,305.64 198.00,305.65 198.50,305.66 199.00,305.67 199.50,305.68 200.00,305.69 200.50,305.70 201.00,305.72 201.50,305.73 202.00,305.74 202.50,305.75 203.00,305.76 203.50,305.77 204.00,305.78 204.50,305.79 205.00,305.80 205.50,305.82 206.00,305.83 206.50,305.84 207.00,305.85 207.50,305.87 208.00,305.88 208.50,305.89 209.00,305.91 209.50,305.92 210.00,305.94 210.50,305.96 211.00,305.98 211.50,306.00 212.00,306.02 212.50,306.04 213.00,306.06 213.50,306.09 214.00,306.12 214.50,306.15 215.00,306.18 215.50,306.21 216.00,306.25 216.50,306.29 217.00,306.33 217.50,306.37 218.00,306.42 218.50,306.47 219.00,306.53 219.50,306.58 220.00,306.65 220.50,306.71 221.00,306.78 221.50,306.86 222.00,306.93 222.50,307.02 223.00,307.11 223.50,307.20 224.00,307.30 224.50,307.40 225.00,307.51 225.50,307.63 226.00,307.75 226.50,307.88 227.00,308.02 227.50,308.16 228.00,308.31 228.50,308.47 229.00,308.63 229.50,308.80 230.00,308.98 230.50,309.16 231.00,309.35 231.50,309.55 232.00,309.75 232.50,309.96 233.00,310.17 233.50,310.39 234.00,310.62 234.50,310.85 235.00,311.09 235.50,311.34 236.00,311.59 236.50,311.85 237.00,312.11 237.50,312.38 238.00,312.66 238.50,312.94 239.00,313.23 239.50,313.52 240.00,313.82 240.50,314.12 241.00,314.42 241.50,314.73 242.00,315.04 242.50,315.35 243.00,315.66 243.50,315.97 244.00,316.28 244.50,316.59 245.00,316.90 245.50,317.20 246.00,317.50 246.50,317.80 247.00,318.10 247.50,318.39 248.00,318.68 248.50,318.97 249.00,319.25 249.50,319.54 250.00,319.82 250.50,320.10 251.00,320.38 251.50,320.67 252.00,320.95 252.50,321.24 253.00,321.53 253.50,321.82 254.00,322.11 254.50,322.40 255.00,322.70 255.50,322.99 256.00,323.29 256.50,323.58 257.00,323.87 257.50,324.16 258.00,324.45 258.50,324.73 259.00,325.00 259.50,325.27 260.00,325.53 260.50,325.78 261.00,326.02 261.50,326.25 262.00,326.47 262.50,326.67 263.00,326.87 263.50,327.06 264.00,327.23 264.50,327.40 265.00,327.56 265.50,327.71 266.00,327.85 266.50,327.99 267.00,328.12 267.50,328.25 268.00,328.37 268.50,328.50 269.00,328.62 269.50,328.73 270.00,328.85 270.50,328.97 271.00,329.08 271.50,329.20 272.00,329.31 272.50,329.43 273.00,329.54 273.50,329.65 274.00,329.76 274.50,329.87 275.00,329.98 275.50,330.09 276.00,330.19 276.50,330.30 277.00,330.40 277.50,330.50 278.00,330.60 278.50,330.69 279.00,330.79 279.50,330.88 280.00,330.97 280.50,331.06 281.00,331.15 281.50,331.23 282.00,331.32 282.50,331.40 283.00,331.48 283.50,331.56 284.00,331.64 284.50,331.73 285.00,331.81 285.50,331.88 286.00,331.96 286.50,332.04 287.00,332.12 287.50,332.20 288.00,332.28 288.50,332.35 289.00,332.43 289.50,332.50 290.00,332.58 290.50,332.65 291.00,332.72 291.50,332.79 292.00,332.86 292.50,332.93 293.00,333.00 293.50,333.06 294.00,333.13 294.50,333.19 295.00,333.25 295.50,333.31 296.00,333.36 296.50,333.41 297.00,333.46 297.50,333.51 298.00,333.55 298.50,333.59 299.00,333.63 299.50,333.67 300.00,333.70 300.50,333.73 301.00,333.76 301.50,333.79 302.00,333.81 302.50,333.83 303.00,333.86 303.50,333.87 304.00,333.89 304.50,333.91 305.00,333.92 305.50,333.94 306.00,333.95 306.50,333.97 307.00,333.98 307.50,333.99 308.00,334.00 308.50,334.01 309.00,334.03 309.50,334.04 310.00,334.05 310.50,334.06 311.00,334.07 311.50,334.08 312.00,334.08 312.50,334.09 313.00,334.10 313.50,334.11 314.00,334.12 314.50,334.13 315.00,334.13 315.50,334.14 316.00,334.15 316.50,334.16 317.00,334.16 317.50,334.17 318.00,334.18 318.50,334.18 319.00,334.19 319.50,334.20 320.00,334.20 320.50,334.21 321.00,334.22 321.50,334.22 322.00,334.23 322.50,334.23 323.00,334.24 323.50,334.24 324.00,334.25 324.50,334.25 325.00,334.26 325.50,334.26 326.00,334.27 326.50,334.27 327.00,334.28 327.50,334.28 328.00,334.29 328.50,334.29 329.00,334.30 329.50,334.30 330.00,334.31 330.50,334.31 331.00,334.32 331.50,334.32 332.00,334.33 332.50,334.33 333.00,334.34 333.50,334.34 334.00,334.34 334.50,334.35 335.00,334.35 335.50,334.36 336.00,334.36 336.50,334.37 337.00,334.37 337.50,334.38 338.00,334.38 338.50,334.39 339.00,334.39 339.50,334.40 340.00,334.40 340.50,334.41 341.00,334.41 341.50,334.42 342.00,334.42 342.50,334.43 343.00,334.43 343.50,334.44 344.00,334.44 344.50,334.45 345.00,334.45 345.50,334.46 346.00,334.46 346.50,334.47 347.00,334.47 347.50,334.48 348.00,334.48 348.50,334.49 349.00,334.49 349.50,334.49 350.00,334.50 350.50,334.50 351.00,334.51 351.50,334.51 352.00,334.52 352.50,334.52 353.00,334.53 353.50,334.53 354.00,334.54 354.50,334.54 355.00,334.55 355.50,334.55 356.00,334.56 356.50,334.56 357.00,334.57 357.50,334.57 358.00,334.58 358.50,334.58 359.00,334.58 359.50,334.59 360.00,334.59 360.50,334.60 361.00,334.60 361.50,334.61 362.00,334.61 362.50,334.62 363.00,334.62 363.50,334.63 364.00,334.63 364.50,334.63 365.00,334.64 365.50,334.64 366.00,334.65 366.50,334.65 367.00,334.65 367.50,334.66 368.00,334.66 368.50,334.67 369.00,334.67 369.50,334.68 370.00,334.68 370.50,334.68 371.00,334.69 371.50,334.69 372.00,334.69 372.50,334.70 373.00,334.70 373.50,334.71 374.00,334.71 374.50,334.71 375.00,334.72 375.50,334.72 376.00,334.72 376.50,334.73 377.00,334.73 377.50,334.74 378.00,334.74 378.50,334.74 379.00,334.75 379.50,334.75 380.00,334.75 380.50,334.76 381.00,334.76 381.50,334.76 382.00,334.76 382.50,334.77 383.00,334.77 383.50,334.77 384.00,334.78 384.50,334.78 385.00,334.78 385.50,334.79 386.00,334.79 386.50,334.79 387.00,334.79 387.50,334.80 388.00,334.80 388.50,334.80 389.00,334.80 389.50,334.81 390.00,334.81 390.50,334.81 391.00,334.81 391.50,334.82 392.00,334.82 392.50,334.82 393.00,334.82 393.50,334.83 394.00,334.83 394.50,334.83 395.00,334.83 395.50,334.83 396.00,334.84 396.50,334.84 397.00,334.84 397.50,334.84 398.00,334.84 398.50,334.84 399.00,334.85 399.50,334.85 400.00,334.85 400.50,334.85 401.00,334.85 401.50,334.85 402.00,334.85 402.50,334.86 403.00,334.86 403.50,334.86 404.00,334.86 404.50,334.86 405.00,334.86 405.50,334.86 406.00,334.87 406.50,334.87 407.00,334.87 407.50,334.87 408.00,334.87 408.50,334.87 409.00,334.87 409.50,334.87 410.00,334.87 410.50,334.88 411.00,334.88 411.50,334.88 412.00,334.88 412.50,334.88 413.00,334.88 413.50,334.88 414.00,334.88 414.50,334.88 415.00,334.89 415.50,334.89 416.00,334.89 416.50,334.89 417.00,334.89 417.50,334.89 418.00,334.89 418.50,334.89 419.00,334.89 419.50,334.89 420.00,334.89 420.50,334.90 421.00,334.90 421.50,334.90 422.00,334.90 422.50,334.90 423.00,334.90 423.50,334.90 424.00,334.90 424.50,334.90 425.00,334.90 425.50,334.90 426.00,334.90 426.50,334.91 427.00,334.91 427.50,334.91 428.00,334.91 428.50,334.91 429.00,334.91 429.50,334.91 430.00,334.91 430.50,334.91 431.00,334.91 431.50,334.91 432.00,334.91 432.50,334.91 433.00,334.92 433.50,334.92 434.00,334.92 434.50,334.92 435.00,334.92 435.50,334.92 436.00,334.92 436.50,334.92 437.00,334.92 437.50,334.92 438.00,334.92 438.50,334.92 439.00,334.92 439.50,334.92 440.00,334.93 440.50,334.93 441.00,334.93 441.50,334.93 442.00,334.93 442.50,334.93 443.00,334.93 443.50,334.93 444.00,334.93 444.50,334.93 445.00,334.93 445.50,334.93 446.00,334.93 446.50,334.94 447.00,334.94 447.50,334.94 448.00,334.94 448.50,334.94 449.00,334.94 449.50,334.94 450.00,334.94 450.50,334.94 451.00,334.94 451.50,334.94 452.00,334.94 452.50,334.94 453.00,334.94 453.50,334.95 454.00,334.95 454.50,334.95 455.00,334.95 455.50,334.95 455.50,335.50 133.00,335.50 133.00,323.40 132.50,323.38 132.00,323.35 131.50,323.33 131.00,323.31 130.50,323.28 130.00,323.26 129.50,323.24 129.00,323.22 128.50,323.20 128.00,323.17 127.50,323.15 127.00,323.12 126.50,323.09 126.00,323.06 125.50,323.03 125.00,323.00 124.50,322.96 124.00,322.93 123.50,322.88 123.00,322.84 122.50,322.79 122.00,322.74 121.50,322.68 121.00,322.63 120.50,322.56 120.00,322.50 119.50,322.43 119.00,322.35 118.50,322.27 118.00,322.18 117.50,322.08 117.00,321.97 116.50,321.86 116.00,321.75 115.50,321.63 115.00,321.50 114.50,321.36 114.00,321.21 113.50,321.04 113.00,320.86 112.50,320.68 112.00,320.48 111.50,320.29 111.00,320.09 110.50,319.89 110.00,319.70 109.50,319.51 109.00,319.31 108.50,319.11 108.00,318.91 107.50,318.70 107.00,318.49 106.50,318.29 106.00,318.09 105.50,317.89 105.00,317.70 104.50,317.51 104.00,317.32 103.50,317.13 103.00,316.94 102.50,316.76 102.00,316.58 101.50,316.40 101.00,316.23 100.50,316.06 100.00,315.90 99.50,315.74 99.00,315.58 98.50,315.42 98.00,315.26 97.50,315.12 97.00,314.99 96.50,314.88 96.00,314.80 95.50,314.73 95.00,314.67 94.50,314.61 94.00,314.55 93.50,314.50 93.00,314.46 92.50,314.43 92.00,314.41 91.50,314.40" fill="#2e4a7c" />
<polygon points="91.50,329.50 92.00,329.49 92.50,329.48 93.00,329.45 93.50,329.42 94.00,329.38 94.50,329.34 95.00,329.29 95.50,329.24 96.00,329.20 96.50,329.15 97.00,329.10 97.50,329.04 98.00,328.98 98.50,328.92 99.00,328.85 99.50,328.78 100.00,328.70 100.50,328.62 101.00,328.53 101.50,328.44 102.00,328.34 102.50,328.24 103.00,328.14 103.50,328.03 104.00,327.92 104.50,327.81 105.00,327.70 105.50,327.59 106.00,327.47 106.50,327.35 107.00,327.23 107.50,327.10 108.00,326.97 108.50,326.85 109.00,326.73 109.50,326.61 110.00,326.50 110.50,326.39 111.00,326.28 111.50,326.18 112.00,326.07 112.50,325.97 113.00,325.87 113.50,325.77 114.00,325.67 114.50,325.58 115.00,325.50 115.50,325.42 116.00,325.34 116.50,325.26 117.00,325.19 117.50,325.12 118.00,325.05 118.50,324.99 119.00,324.92 119.50,324.86 120.00,324.80 120.50,324.74 121.00,324.69 121.50,324.64 122.00,324.59 122.50,324.54 123.00,324.49 123.50,324.44 124.00,324.40 124.50,324.35 125.00,324.30 125.50,324.25 126.00,324.21 126.50,324.16 127.00,324.12 127.50,324.08 128.00,324.04 128.50,323.99 129.00,323.95 129.50,323.90 130.00,323.85 130.50,323.80 131.00,323.74 131.50,323.67 132.00,323.60 132.50,323.52 133.00,323.41 133.50,323.30 134.00,323.17 134.50,323.03 135.00,322.87 135.50,322.71 136.00,322.55 136.50,322.38 137.00,322.20 137.50,322.01 138.00,321.79 138.50,321.56 139.00,321.30 139.50,321.04 140.00,320.78 140.50,320.52 141.00,320.26 141.50,320.02 142.00,319.80 142.50,319.58 143.00,319.37 143.50,319.14 144.00,318.93 144.50,318.72 145.00,318.52 145.50,318.33 146.00,318.17 146.50,318.02 147.00,317.90 147.50,317.80 148.00,317.70 148.50,317.60 149.00,317.51 149.50,317.43 150.00,317.18 150.50,317.16 151.00,317.13 151.50,317.10 152.00,317.07 152.50,317.04 153.00,317.01 153.50,316.98 154.00,316.95 154.50,316.92 155.00,316.88 155.50,316.85 156.00,316.82 156.50,316.80 157.00,316.77 157.50,316.74 158.00,316.72 158.50,316.69 159.00,316.67 159.50,316.64 160.00,316.62 160.50,316.60 161.00,316.58 161.50,316.56 162.00,316.54 162.50,316.52 163.00,316.50 163.50,316.49 164.00,316.47 164.50,316.45 165.00,316.43 165.50,316.42 166.00,316.40 166.50,316.38 167.00,316.37 167.50,316.35 168.00,316.33 168.50,316.32 169.00,316.30 169.50,316.29 170.00,316.27 170.50,316.25 171.00,316.24 171.50,316.22 172.00,316.21 172.50,316.19 173.00,316.18 173.50,316.16 174.00,316.15 174.50,316.13 175.00,316.12 175.50,316.10 176.00,316.09 176.50,316.07 177.00,316.06 177.50,316.05 178.00,316.03 178.50,316.02 179.00,316.00 179.50,315.99 180.00,315.98 180.50,315.96 181.00,315.95 181.50,315.94 182.00,315.93 182.50,315.91 183.00,315.90 183.50,315.89 184.00,315.88 184.50,315.87 185.00,315.86 185.50,315.84 186.00,315.83 186.50,315.82 187.00,315.81 187.50,315.80 188.00,315.79 188.50,315.78 189.00,315.77 189.50,315.76 190.00,315.75 190.50,315.74 191.00,315.74 191.50,315.73 192.00,315.72 192.50,315.71 193.00,315.70 193.50,315.70 194.00,315.69 194.50,315.68 195.00,315.68 195.50,315.67 196.00,315.66 196.50,315.66 197.00,315.65 197.50,315.65 198.00,315.64 198.50,315.64 199.00,315.63 199.50,315.63 200.00,315.63 200.50,315.62 201.00,315.62 201.50,315.62 202.00,315.62 202.50,315.62 203.00,315.61 203.50,315.61 204.00,315.61 204.50,315.61 205.00,315.61 205.50,315.61 206.00,315.62 206.50,315.62 207.00,315.62 207.50,315.62 208.00,315.63 208.50,315.63 209.00,315.64 209.50,315.64 210.00,315.65 210.50,315.66 211.00,315.67 211.50,315.68 212.00,315.69 212.50,315.71 213.00,315.72 213.50,315.74 214.00,315.76 214.50,315.79 215.00,315.82 215.50,315.85 216.00,315.88 216.50,315.92 217.00,315.96 217.50,316.00 218.00,316.05 218.50,316.10 219.00,316.16 219.50,316.21 220.00,316.28 220.50,316.34 221.00,316.41 221.50,316.48 222.00,316.56 222.50,316.64 223.00,316.72 223.50,316.80 224.00,316.89 224.50,316.98 225.00,317.07 225.50,317.17 226.00,317.27 226.50,317.37 227.00,317.47 227.50,317.58 228.00,317.69 228.50,317.80 229.00,317.91 229.50,318.03 230.00,318.15 230.50,318.27 231.00,318.39 231.50,318.52 232.00,318.65 232.50,318.78 233.00,318.91 233.50,319.05 234.00,319.19 234.50,319.33 235.00,319.47 235.50,319.61 236.00,319.76 236.50,319.91 237.00,320.06 237.50,320.22 238.00,320.37 238.50,320.53 239.00,320.69 239.50,320.85 240.00,321.01 240.50,321.18 241.00,321.35 241.50,321.51 242.00,321.68 242.50,321.86 243.00,322.03 243.50,322.20 244.00,322.38 244.50,322.56 245.00,322.74 245.50,322.92 246.00,323.10 246.50,323.28 247.00,323.46 247.50,323.65 248.00,323.83 248.50,324.02 249.00,324.21 249.50,324.40 250.00,324.59 250.50,324.78 251.00,324.97 251.50,325.17 252.00,325.36 252.50,325.56 253.00,325.76 253.50,325.95 254.00,326.15 254.50,326.35 255.00,326.55 255.50,326.74 256.00,326.94 256.50,327.13 257.00,327.32 257.50,327.51 258.00,327.70 258.50,327.88 259.00,328.05 259.50,328.22 260.00,328.39 260.50,328.55 261.00,328.70 261.50,328.84 262.00,328.98 262.50,329.12 263.00,329.24 263.50,329.36 264.00,329.47 264.50,329.58 265.00,329.68 265.50,329.78 266.00,329.87 266.50,329.96 267.00,330.05 267.50,330.13 268.00,330.21 268.50,330.29 269.00,330.37 269.50,330.45 270.00,330.52 270.50,330.60 271.00,330.68 271.50,330.75 272.00,330.83 272.50,330.90 273.00,330.98 273.50,331.06 274.00,331.13 274.50,331.21 275.00,331.29 275.50,331.37 276.00,331.44 276.50,331.52 277.00,331.60 277.50,331.68 278.00,331.75 278.50,331.83 279.00,331.90 279.50,331.98 280.00,332.05 280.50,332.13 281.00,332.20 281.50,332.27 282.00,332.34 282.50,332.41 283.00,332.48 283.50,332.55 284.00,332.61 284.50,332.68 285.00,332.74 285.50,332.80 286.00,332.86 286.50,332.92 287.00,332.98 287.50,333.04 288.00,333.09 288.50,333.15 289.00,333.20 289.50,333.25 290.00,333.30 290.50,333.35 291.00,333.40 291.50,333.45 292.00,333.50 292.50,333.55 293.00,333.60 293.50,333.65 294.00,333.69 294.50,333.74 295.00,333.78 295.50,333.82 296.00,333.86 296.50,333.90 297.00,333.94 297.50,333.97 298.00,334.00 298.50,334.04 299.00,334.06 299.50,334.09 300.00,334.12 300.50,334.14 301.00,334.16 301.50,334.18 302.00,334.19 302.50,334.21 303.00,334.22 303.50,334.24 304.00,334.25 304.50,334.26 305.00,334.27 305.50,334.28 306.00,334.29 306.50,334.30 307.00,334.31 307.50,334.32 308.00,334.32 308.50,334.33 309.00,334.34 309.50,334.35 310.00,334.35 310.50,334.36 311.00,334.37 311.50,334.37 312.00,334.38 312.50,334.39 313.00,334.39 313.50,334.40 314.00,334.41 314.50,334.41 315.00,334.42 315.50,334.43 316.00,334.43 316.50,334.44 317.00,334.45 317.50,334.45 318.00,334.46 318.50,334.46 319.00,334.47 319.50,334.48 320.00,334.48 320.50,334.49 321.00,334.49 321.50,334.50 322.00,334.50 322.50,334.51 323.00,334.51 323.50,334.52 324.00,334.52 324.50,334.53 325.00,334.54 325.50,334.54 326.00,334.55 326.50,334.55 327.00,334.56 327.50,334.56 328.00,334.57 328.50,334.57 329.00,334.57 329.50,334.58 330.00,334.58 330.50,334.59 331.00,334.59 331.50,334.60 332.00,334.60 332.50,334.61 333.00,334.61 333.50,334.61 334.00,334.62 334.50,334.62 335.00,334.63 335.50,334.63 336.00,334.63 336.50,334.64 337.00,334.64 337.50,334.65 338.00,334.65 338.50,334.65 339.00,334.66 339.50,334.66 340.00,334.67 340.50,334.67 341.00,334.67 341.50,334.68 342.00,334.68 342.50,334.68 343.00,334.69 343.50,334.69 344.00,334.69 344.50,334.70 345.00,334.70 345.50,334.70 346.00,334.71 346.50,334.71 347.00,334.71 347.50,334.71 348.00,334.72 348.50,334.72 349.00,334.72 349.50,334.73 350.00,334.73 350.50,334.73 351.00,334.73 351.50,334.74 352.00,334.74 352.50,334.74 353.00,334.74 353.50,334.75 354.00,334.75 354.50,334.75 355.00,334.75 355.50,334.76 356.00,334.76 356.50,334.76 357.00,334.76 357.50,334.77 358.00,334.77 358.50,334.77 359.00,334.77 359.50,334.78 360.00,334.78 360.50,334.78 361.00,334.78 361.50,334.78 362.00,334.79 362.50,334.79 363.00,334.79 363.50,334.79 364.00,334.79 364.50,334.80 365.00,334.80 365.50,334.80 366.00,334.80 366.50,334.80 367.00,334.81 367.50,334.81 368.00,334.81 368.50,334.81 369.00,334.81 369.50,334.81 370.00,334.82 370.50,334.82 371.00,334.82 371.50,334.82 372.00,334.82 372.50,334.82 373.00,334.83 373.50,334.83 374.00,334.83 374.50,334.83 375.00,334.83 375.50,334.83 376.00,334.84 376.50,334.84 377.00,334.84 377.50,334.84 378.00,334.84 378.50,334.84 379.00,334.84 379.50,334.85 380.00,334.85 380.50,334.85 381.00,334.85 381.50,334.85 382.00,334.85 382.50,334.85 383.00,334.86 383.50,334.86 384.00,334.86 384.50,334.86 385.00,334.86 385.50,334.86 386.00,334.86 386.50,334.86 387.00,334.87 387.50,334.87 388.00,334.87 388.50,334.87 389.00,334.87 389.50,334.87 390.00,334.87 390.50,334.88 391.00,334.88 391.50,334.88 392.00,334.88 392.50,334.88 393.00,334.88 393.50,334.88 394.00,334.88 394.50,334.89 395.00,334.89 395.50,334.89 396.00,334.89 396.50,334.89 397.00,334.89 397.50,334.89 398.00,334.89 398.50,334.90 399.00,334.90 399.50,334.90 400.00,334.90 400.50,334.90 401.00,334.90 401.50,334.90 402.00,334.90 402.50,334.91 403.00,334.91 403.50,334.91 404.00,334.91 404.50,334.91 405.00,334.91 405.50,334.91 406.00,334.91 406.50,334.92 407.00,334.92 407.50,334.92 408.00,334.92 408.50,334.92 409.00,334.92 409.50,334.92 410.00,334.92 410.50,334.92 411.00,334.93 411.50,334.93 412.00,334.93 412.50,334.93 413.00,334.93 413.50,334.93 414.00,334.93 414.50,334.93 415.00,334.93 415.50,334.93 416.00,334.94 416.50,334.94 417.00,334.94 417.50,334.94 418.00,334.94 418.50,334.94 419.00,334.94 419.50,334.94 420.00,334.94 420.50,334.94 421.00,334.95 421.50,334.95 422.00,334.95 422.50,334.95 423.00,334.95 423.50,334.95 424.00,334.95 424.50,334.95 425.00,334.95 425.50,334.95 426.00,334.95 426.50,334.95 427.00,334.95 427.50,334.96 428.00,334.96 428.50,334.96 429.00,334.96 429.50,334.96 430.00,334.96 430.50,334.96 431.00,334.96 431.50,334.96 432.00,334.96 432.50,334.96 433.00,334.96 433.50,334.97 434.00,334.97 434.50,334.97 435.00,334.97 435.50,334.97 436.00,334.97 436.50,334.97 437.00,334.97 437.50,334.97 438.00,334.97 438.50,334.97 439.00,334.97 439.50,334.97 440.00,334.97 440.50,334.98 441.00,334.98 441.50,334.98 442.00,334.98 442.50,334.98 443.00,334.98 443.50,334.98 444.00,334.98 444.50,334.98 445.00,334.98 445.50,334.98 446.00,334.98 446.50,334.99 447.00,334.99 447.50,334.99 448.00,334.99 448.50,334.99 449.00,334.99 449.50,334.99 450.00,334.99 450.50,334.99 451.00,334.99 451.50,334.99 452.00,334.99 452.50,334.99 453.00,334.99 453.50,335.00 454.00,335.00 454.50,335.00 455.00,335.00 455.50,335.00 455.50,335.50 130.00,335.50 129.50,335.47 129.00,335.44 128.50,335.41 128.00,335.38 127.50,335.36 127.00,335.33 126.50,335.30 126.00,335.27 125.50,335.23 125.00,335.20 124.50,335.17 124.00,335.13 123.50,335.10 123.00,335.06 122.50,335.03 122.00,334.99 121.50,334.95 121.00,334.90 120.50,334.85 120.00,334.80 119.50,334.74 119.00,334.67 118.50,334.59 118.00,334.50 117.50,334.41 117.00,334.31 116.50,334.21 116.00,334.11 115.50,334.00 115.00,333.90 114.50,333.79 114.00,333.68 113.50,333.57 113.00,333.45 112.50,333.33 112.00,333.20 111.50,333.08 111.00,332.95 110.50,332.83 110.00,332.70 109.50,332.57 109.00,332.44 108.50,332.31 108.00,332.18 107.50,332.04 107.00,331.91 106.50,331.78 106.00,331.65 105.50,331.52 105.00,331.40 104.50,331.28 104.00,331.16 103.50,331.04 103.00,330.92 102.50,330.80 102.00,330.69 101.50,330.58 101.00,330.48 100.50,330.38 100.00,330.30 99.50,330.22 99.00,330.15 98.50,330.08 98.00,330.01 97.50,329.95 97.00,329.90 96.50,329.85 96.00,329.80 95.50,329.76 95.00,329.71 94.50,329.66 94.00,329.62 93.50,329.58 93.00,329.55 92.50,329.52 92.00,329.51 91.50,329.50" fill="#6aaadf" />
<line x1="130.50" y1="224.50" x2="130.50" y2="335.50" stroke="#000" stroke-width="1.10"/>
<line x1="149.00" y1="224.50" x2="149.00" y2="335.50" stroke="#000" stroke-width="1.10"/>
<line x1="204.60" y1="224.50" x2="204.60" y2="335.50" stroke="#000" stroke-width="1.10"/>
<line x1="297.50" y1="224.50" x2="297.50" y2="335.50" stroke="#000" stroke-width="1.10"/>
<line x1="436.70" y1="224.50" x2="436.70" y2="335.50" stroke="#000" stroke-width="1.10"/>
<line x1="455.30" y1="224.50" x2="455.30" y2="335.50" stroke="#000" stroke-width="1.10"/>
<polygon points="90.40,422.30 90.86,422.29 91.32,422.27 91.78,422.24 92.24,422.19 92.70,422.14 93.16,422.08 93.62,422.01 94.08,421.94 94.54,421.87 95.00,421.80 95.50,421.71 96.00,421.62 96.50,421.50 97.00,421.38 97.50,421.24 98.00,421.09 98.50,420.93 99.00,420.76 99.50,420.59 100.00,420.40 100.50,420.19 101.00,419.95 101.50,419.68 102.00,419.39 102.50,419.08 103.00,418.76 103.50,418.43 104.00,418.11 104.50,417.80 105.00,417.50 105.50,417.21 106.00,416.91 106.50,416.61 107.00,416.31 107.50,416.02 108.00,415.72 108.50,415.43 109.00,415.14 109.50,414.87 110.00,414.60 110.50,414.34 111.00,414.08 111.50,413.82 112.00,413.56 112.50,413.31 113.00,413.07 113.50,412.84 114.00,412.61 114.50,412.40 115.00,412.20 115.50,412.01 116.00,411.81 116.50,411.62 117.00,411.44 117.50,411.26 118.00,411.10 118.50,410.94 119.00,410.81 119.50,410.69 120.00,410.60 120.50,410.52 121.00,410.44 121.50,410.37 122.00,410.30 122.50,410.23 123.00,410.18 123.50,410.13 124.00,410.09 124.50,410.07 125.00,410.05 125.50,410.04 126.00,410.03 126.50,410.03 127.00,410.02 127.50,410.01 128.00,410.01 128.50,410.01 129.00,410.00 129.50,410.00 130.00,410.00 130.50,410.00 131.00,410.00 131.50,410.00 132.00,410.00 132.50,410.00 133.00,410.00 133.50,410.00 134.00,410.00 134.50,410.00 135.00,410.00 135.50,410.00 136.00,410.00 136.50,410.00 137.00,410.00 137.50,410.00 138.00,410.00 138.50,410.00 139.00,410.00 139.50,410.00 140.00,410.00 140.50,410.00 141.00,410.00 141.50,410.00 142.00,410.00 142.50,410.00 143.00,410.00 143.50,410.00 144.00,410.00 144.50,410.00 145.00,410.00 145.50,410.00 146.00,410.00 146.50,410.00 147.00,410.00 147.50,410.00 148.00,410.00 148.50,410.00 149.00,410.00 149.50,410.00 150.00,410.00 150.50,410.00 151.00,410.00 151.50,410.00 152.00,410.00 152.50,410.00 153.00,410.00 153.50,410.00 154.00,410.00 154.50,410.00 155.00,410.00 155.50,410.00 156.00,410.00 156.50,410.00 157.00,410.00 157.50,410.00 158.00,410.00 158.50,410.00 159.00,410.00 159.50,410.00 160.00,410.00 160.50,410.00 161.00,410.00 161.50,410.00 162.00,410.00 162.50,410.00 163.00,410.00 163.50,410.00 164.00,410.00 164.50,410.00 165.00,410.00 165.50,410.00 166.00,410.00 166.50,410.00 167.00,410.00 167.50,410.00 168.00,410.00 168.50,410.00 169.00,410.00 169.50,410.00 170.00,410.00 170.50,410.00 171.00,410.00 171.50,410.00 172.00,410.00 172.50,410.00 173.00,410.00 173.50,410.00 174.00,410.00 174.50,410.00 175.00,410.00 175.50,410.00 176.00,410.00 176.50,410.00 177.00,410.00 177.50,410.00 178.00,410.00 178.50,410.00 179.00,410.00 179.50,410.00 180.00,410.00 180.50,410.00 181.00,410.00 181.50,410.00 182.00,410.00 182.50,410.00 183.00,410.00 183.50,410.00 184.00,410.00 184.50,410.00 185.00,410.00 185.50,410.00 186.00,410.00 186.50,410.00 187.00,410.00 187.50,410.00 188.00,410.00 188.50,410.00 189.00,410.00 189.50,410.00 190.00,410.00 190.50,410.00 191.00,410.00 191.50,410.00 192.00,410.00 192.50,410.00 193.00,410.00 193.50,410.00 194.00,410.00 194.50,410.00 195.00,410.00 195.50,410.00 196.00,410.00 196.50,410.00 197.00,410.00 197.50,410.00 198.00,410.00 198.50,410.00 199.00,410.00 199.50,410.00 200.00,410.00 200.50,410.00 201.00,410.00 201.50,410.00 202.00,410.00 202.50,410.00 203.00,410.00 203.50,410.00 204.00,410.00 204.50,410.00 205.00,410.00 205.50,410.00 206.00,410.00 206.50,410.00 207.00,410.00 207.50,410.00 208.00,410.00 208.50,410.00 209.00,410.00 209.50,410.00 210.00,410.00 210.50,410.00 211.00,410.00 211.50,410.00 212.00,410.00 212.50,410.00 213.00,410.00 213.50,410.00 214.00,410.00 214.50,410.00 215.00,410.00 215.50,410.00 216.00,410.00 216.50,410.00 217.00,410.00 217.50,410.00 218.00,410.00 218.50,410.00 219.00,410.00 219.50,410.00 220.00,410.00 220.50,410.00 221.00,410.00 221.50,410.00 222.00,410.00 222.50,410.00 223.00,410.00 223.50,410.00 224.00,410.00 224.50,410.00 225.00,410.00 225.50,410.00 226.00,410.00 226.50,410.00 227.00,410.00 227.50,410.00 228.00,410.00 228.50,410.00 229.00,410.00 229.50,410.00 230.00,410.00 230.50,410.00 231.00,410.00 231.50,410.00 232.00,410.00 232.50,410.00 233.00,410.00 233.50,410.00 234.00,410.00 234.50,410.00 235.00,410.00 235.50,410.00 236.00,410.00 236.50,410.00 237.00,410.00 237.50,410.00 238.00,410.00 238.50,410.00 239.00,410.00 239.50,410.00 240.00,410.00 240.50,410.00 241.00,410.00 241.50,410.00 242.00,410.00 242.50,410.00 243.00,410.00 243.50,410.00 244.00,410.00 244.50,410.00 245.00,410.00 245.50,410.00 246.00,410.00 246.50,410.00 247.00,410.00 247.50,410.00 248.00,410.00 248.50,410.00 249.00,410.00 249.50,410.00 250.00,410.00 250.50,410.00 251.00,410.00 251.50,410.00 252.00,410.00 252.50,410.00 253.00,410.00 253.50,410.00 254.00,410.00 254.50,410.00 255.00,410.00 255.50,410.00 256.00,410.00 256.50,410.00 257.00,410.00 257.50,410.00 258.00,410.00 258.50,410.00 259.00,410.00 259.50,410.00 260.00,410.00 260.50,410.00 261.00,410.00 261.50,410.00 262.00,410.00 262.50,410.00 263.00,410.00 263.50,410.00 264.00,410.00 264.50,410.00 265.00,410.00 265.50,410.00 266.00,410.00 266.50,410.00 267.00,410.00 267.50,410.00 268.00,410.00 268.50,410.00 269.00,410.00 269.50,410.00 270.00,410.00 270.50,410.00 271.00,410.00 271.50,410.00 272.00,410.00 272.50,410.00 273.00,410.00 273.50,410.00 274.00,410.00 274.50,410.00 275.00,410.00 275.50,410.00 276.00,410.00 276.50,410.00 277.00,410.00 277.50,410.00 278.00,410.00 278.50,410.00 279.00,410.00 279.50,410.00 280.00,410.00 280.50,410.00 281.00,410.00 281.50,410.00 282.00,410.00 282.50,410.00 283.00,410.00 283.50,410.00 284.00,410.00 284.50,410.00 285.00,410.00 285.50,410.00 286.00,410.00 286.50,410.00 287.00,410.00 287.50,410.00 288.00,410.00 288.50,410.00 289.00,410.00 289.50,410.00 290.00,410.00 290.50,410.00 291.00,410.00 291.50,410.00 292.00,410.00 292.50,410.00 293.00,410.00 293.50,410.00 294.00,410.00 294.50,410.00 295.00,410.00 295.50,410.00 296.00,410.00 296.50,410.00 297.00,410.00 297.50,410.00 298.00,410.00 298.50,410.00 299.00,410.00 299.50,410.00 300.00,410.00 300.50,410.00 301.00,410.00 301.50,410.00 302.00,410.00 302.50,410.00 303.00,410.00 303.50,410.00 304.00,410.00 304.50,410.00 305.00,410.00 305.50,410.00 306.00,410.00 306.50,410.00 307.00,410.00 307.50,410.00 308.00,410.00 308.50,410.00 309.00,410.00 309.50,410.00 310.00,410.00 310.50,410.00 311.00,410.00 311.50,410.00 312.00,410.00 312.50,410.00 313.00,410.00 313.50,410.00 314.00,410.00 314.50,410.00 315.00,410.00 315.50,410.00 316.00,410.00 316.50,410.00 317.00,410.00 317.50,410.00 318.00,410.00 318.50,410.00 319.00,410.00 319.50,410.00 320.00,410.00 320.50,410.00 321.00,410.00 321.50,410.00 322.00,410.00 322.50,410.00 323.00,410.00 323.50,410.00 324.00,410.00 324.50,410.00 325.00,410.00 325.50,410.00 326.00,410.00 326.50,410.00 327.00,410.00 327.50,410.00 328.00,410.00 328.50,410.00 329.00,410.00 329.50,410.00 330.00,410.00 330.50,410.00 331.00,410.00 331.50,410.00 332.00,410.00 332.50,410.00 333.00,410.00 333.50,410.00 334.00,410.00 334.50,410.00 335.00,410.00 335.50,410.00 336.00,410.00 336.50,410.00 337.00,410.00 337.50,410.00 338.00,410.00 338.50,410.00 339.00,410.00 339.50,410.00 340.00,410.00 340.50,410.00 341.00,410.00 341.50,410.00 342.00,410.00 342.50,410.00 343.00,410.00 343.50,410.00 344.00,410.00 344.50,410.00 345.00,410.00 345.50,410.00 346.00,410.00 346.50,410.00 347.00,410.00 347.50,410.00 348.00,410.00 348.50,410.00 349.00,410.00 349.50,410.00 350.00,410.00 350.50,410.00 351.00,410.00 351.50,410.00 352.00,410.00 352.50,410.00 353.00,410.00 353.50,410.00 354.00,410.00 354.50,410.00 355.00,410.00 355.50,410.00 356.00,410.00 356.50,410.00 357.00,410.00 357.50,410.00 358.00,410.00 358.50,410.00 359.00,410.00 359.50,410.00 360.00,410.00 360.50,410.00 361.00,410.00 361.50,410.00 362.00,410.00 362.50,410.00 363.00,410.00 363.50,410.00 364.00,410.00 364.50,410.00 365.00,410.00 365.50,410.00 366.00,410.00 366.50,410.00 367.00,410.00 367.50,410.00 368.00,410.00 368.50,410.00 369.00,410.00 369.50,410.00 370.00,410.00 370.50,410.00 371.00,410.00 371.50,410.00 372.00,410.00 372.50,410.00 373.00,410.00 373.50,410.00 374.00,410.00 374.50,410.00 375.00,410.00 375.50,410.00 376.00,410.00 376.50,410.00 377.00,410.00 377.50,410.00 378.00,410.00 378.50,410.00 379.00,410.00 379.50,410.00 380.00,410.00 380.50,410.00 381.00,410.00 381.50,410.00 382.00,410.00 382.50,410.00 383.00,410.00 383.50,410.00 384.00,410.00 384.50,410.00 385.00,410.00 385.50,410.00 386.00,410.00 386.50,410.00 387.00,410.00 387.50,410.00 388.00,410.00 388.50,410.00 389.00,410.00 389.50,410.00 390.00,410.00 390.50,410.00 391.00,410.00 391.50,410.00 392.00,410.00 392.50,410.00 393.00,410.00 393.50,410.00 394.00,410.00 394.50,410.00 395.00,410.00 395.50,410.00 396.00,410.00 396.50,410.00 397.00,410.00 397.50,410.00 398.00,410.00 398.50,410.00 399.00,410.00 399.50,410.00 400.00,410.00 400.50,410.00 401.00,410.00 401.50,410.00 402.00,410.00 402.50,410.00 403.00,410.00 403.50,410.00 404.00,410.00 404.50,410.00 405.00,410.00 405.50,410.00 406.00,410.00 406.50,410.00 407.00,410.00 407.50,410.00 408.00,410.00 408.50,410.00 409.00,410.00 409.50,410.00 410.00,410.00 410.50,410.00 411.00,410.00 411.50,410.00 412.00,410.00 412.50,410.00 413.00,410.00 413.50,410.00 414.00,410.00 414.50,410.00 415.00,410.00 415.50,410.00 416.00,410.00 416.50,410.00 417.00,410.00 417.50,410.00 418.00,410.00 418.50,410.00 419.00,410.00 419.50,410.00 420.00,410.00 420.50,410.00 421.00,410.00 421.50,410.00 422.00,410.00 422.50,410.00 423.00,410.00 423.50,410.00 424.00,410.00 424.50,410.00 425.00,410.00 425.50,410.00 426.00,410.00 426.50,410.00 427.00,410.00 427.50,410.00 428.00,410.00 428.50,410.00 429.00,410.00 429.50,410.00 430.00,410.00 430.50,410.00 431.00,410.00 431.50,410.00 432.00,410.00 432.50,410.00 433.00,410.00 433.50,410.00 434.00,410.00 434.50,410.00 435.00,410.00 435.50,410.00 436.00,410.00 436.50,410.00 437.00,410.00 437.50,410.00 438.00,410.00 438.50,410.00 439.00,410.00 439.50,410.00 440.00,410.00 440.50,410.00 441.00,410.00 441.50,410.00 442.00,410.00 442.50,410.00 443.00,410.00 443.50,410.00 444.00,410.00 444.50,410.00 445.00,410.00 445.50,410.00 446.00,410.00 446.50,410.00 447.00,410.00 447.50,410.00 448.00,410.00 448.50,410.00 449.00,410.00 449.50,410.00 450.00,410.00 450.50,410.00 451.00,410.00 451.50,410.00 452.00,410.00 452.50,410.00 453.00,410.00 453.50,410.00 454.00,410.00 454.50,410.00 455.00,410.00 455.50,410.00 455.50,521.50 131.00,521.50 131.00,434.50 130.50,434.49 130.00,434.48 129.50,434.47 129.00,434.47 128.50,434.46 128.00,434.45 127.50,434.44 127.00,434.43 126.50,434.42 126.00,434.40 125.50,434.38 125.00,434.35 124.50,434.31 124.00,434.27 123.50,434.22 123.00,434.16 122.50,434.10 122.00,434.03 121.50,433.95 121.00,433.87 120.50,433.79 120.00,433.70 119.50,433.60 119.00,433.46 118.50,433.31 118.00,433.14 117.50,432.95 117.00,432.74 116.50,432.53 116.00,432.32 115.50,432.11 115.00,431.90 114.50,431.69 114.00,431.47 113.50,431.24 113.00,431.01 112.50,430.77 112.00,430.53 111.50,430.27 111.00,430.02 110.50,429.76 110.00,429.50 109.50,429.23 109.00,428.95 108.50,428.65 108.00,428.35 107.50,428.05 107.00,427.75 106.50,427.45 106.00,427.15 105.50,426.87 105.00,426.60 104.50,426.34 104.00,426.07 103.50,425.80 103.00,425.54 102.50,425.28 102.00,425.04 101.50,424.80 101.00,424.58 100.50,424.38 100.00,424.20 99.50,424.03 99.00,423.88 98.50,423.73 98.00,423.58 97.50,423.45 97.00,423.32 96.50,423.20 96.00,423.09 95.50,422.99 95.00,422.90 94.54,422.82 94.08,422.74 93.62,422.65 93.16,422.57 92.70,422.50 92.24,422.43 91.78,422.38 91.32,422.34 90.86,422.31 90.40,422.30" fill="#6ba643" />
<polygon points="93.00,435.00 93.50,435.00 94.00,435.00 94.50,435.00 95.00,435.00 95.50,435.00 96.00,435.00 96.50,435.00 97.00,435.00 97.50,435.00 98.00,435.00 98.50,435.00 99.00,435.00 99.50,435.00 100.00,435.00 100.50,435.00 101.00,435.00 101.50,435.00 102.00,435.00 102.50,435.00 103.00,435.00 103.50,435.00 104.00,435.00 104.50,435.00 105.00,435.00 105.50,435.00 106.00,435.00 106.50,435.00 107.00,435.00 107.50,435.00 108.00,435.00 108.50,435.00 109.00,435.00 109.50,435.00 110.00,435.00 110.50,435.00 111.00,435.00 111.50,435.00 112.00,435.00 112.50,435.00 113.00,435.00 113.50,435.00 114.00,435.00 114.50,435.00 115.00,435.00 115.50,435.00 116.00,435.00 116.50,435.00 117.00,435.00 117.50,435.00 118.00,435.00 118.50,435.00 119.00,435.00 119.50,435.00 120.00,435.00 120.50,435.00 121.00,435.00 121.50,435.00 122.00,435.00 122.50,435.00 123.00,435.00 123.50,435.00 124.00,435.00 124.50,435.00 125.00,435.00 125.50,435.00 126.00,435.00 126.50,435.00 127.00,434.99 127.50,434.99 128.00,434.98 128.50,434.97 129.00,434.96 129.50,434.95 130.00,434.94 130.50,434.93 131.00,434.92 131.50,434.91 132.00,434.91 132.50,434.90 133.00,434.90 133.50,434.90 134.00,434.90 134.50,434.90 135.00,434.90 135.50,434.90 136.00,434.90 136.50,434.90 137.00,434.90 137.50,434.91 138.00,434.91 138.50,434.91 139.00,434.91 139.50,434.91 140.00,434.91 140.50,434.91 141.00,434.91 141.50,434.91 142.00,434.92 142.50,434.92 143.00,434.92 143.50,434.92 144.00,434.92 144.50,434.92 145.00,434.92 145.50,434.93 146.00,434.93 146.50,434.93 147.00,434.93 147.50,434.93 148.00,434.93 148.50,434.94 149.00,434.94 149.50,434.94 150.00,434.94 150.50,434.94 151.00,434.95 151.50,434.95 152.00,434.95 152.50,434.95 153.00,434.96 153.50,434.96 154.00,434.96 154.50,434.96 155.00,434.97 155.50,434.97 156.00,434.97 156.50,434.97 157.00,434.98 157.50,434.98 158.00,434.98 158.50,434.98 159.00,434.99 159.50,434.99 160.00,434.99 160.50,435.00 161.00,435.00 161.50,435.00 162.00,435.01 162.50,435.01 163.00,435.01 163.50,435.01 164.00,435.02 164.50,435.02 165.00,435.02 165.50,435.03 166.00,435.03 166.50,435.03 167.00,435.04 167.50,435.04 168.00,435.04 168.50,435.05 169.00,435.05 169.50,435.05 170.00,435.06 170.50,435.06 171.00,435.07 171.50,435.07 172.00,435.07 172.50,435.08 173.00,435.08 173.50,435.08 174.00,435.09 174.50,435.09 175.00,435.09 175.50,435.10 176.00,435.10 176.50,435.11 177.00,435.11 177.50,435.11 178.00,435.12 178.50,435.12 179.00,435.13 179.50,435.13 180.00,435.13 180.50,435.14 181.00,435.14 181.50,435.15 182.00,435.15 182.50,435.15 183.00,435.16 183.50,435.16 184.00,435.17 184.50,435.17 185.00,435.17 185.50,435.18 186.00,435.18 186.50,435.19 187.00,435.19 187.50,435.19 188.00,435.20 188.50,435.20 189.00,435.21 189.50,435.21 190.00,435.22 190.50,435.22 191.00,435.22 191.50,435.23 192.00,435.23 192.50,435.24 193.00,435.24 193.50,435.25 194.00,435.25 194.50,435.25 195.00,435.26 195.50,435.26 196.00,435.27 196.50,435.27 197.00,435.27 197.50,435.28 198.00,435.28 198.50,435.29 199.00,435.29 199.50,435.30 200.00,435.30 200.50,435.30 201.00,435.31 201.50,435.31 202.00,435.32 202.50,435.32 203.00,435.33 203.50,435.33 204.00,435.34 204.50,435.34 205.00,435.35 205.50,435.35 206.00,435.36 206.50,435.36 207.00,435.37 207.50,435.38 208.00,435.38 208.50,435.39 209.00,435.39 209.50,435.40 210.00,435.41 210.50,435.41 211.00,435.42 211.50,435.43 212.00,435.43 212.50,435.44 213.00,435.45 213.50,435.45 214.00,435.46 214.50,435.47 215.00,435.47 215.50,435.48 216.00,435.49 216.50,435.50 217.00,435.50 217.50,435.51 218.00,435.52 218.50,435.53 219.00,435.53 219.50,435.54 220.00,435.55 220.50,435.56 221.00,435.57 221.50,435.57 222.00,435.58 222.50,435.59 223.00,435.60 223.50,435.61 224.00,435.61 224.50,435.62 225.00,435.63 225.50,435.64 226.00,435.65 226.50,435.66 227.00,435.67 227.50,435.68 228.00,435.68 228.50,435.69 229.00,435.70 229.50,435.71 230.00,435.72 230.50,435.73 231.00,435.74 231.50,435.75 232.00,435.76 232.50,435.77 233.00,435.78 233.50,435.78 234.00,435.79 234.50,435.80 235.00,435.81 235.50,435.82 236.00,435.83 236.50,435.84 237.00,435.85 237.50,435.86 238.00,435.87 238.50,435.88 239.00,435.89 239.50,435.90 240.00,435.91 240.50,435.92 241.00,435.93 241.50,435.94 242.00,435.95 242.50,435.96 243.00,435.97 243.50,435.98 244.00,435.99 244.50,436.00 245.00,436.01 245.50,436.02 246.00,436.03 246.50,436.04 247.00,436.05 247.50,436.06 248.00,436.07 248.50,436.08 249.00,436.09 249.50,436.10 250.00,436.11 250.50,436.12 251.00,436.13 251.50,436.14 252.00,436.15 252.50,436.16 253.00,436.17 253.50,436.18 254.00,436.19 254.50,436.20 255.00,436.21 255.50,436.22 256.00,436.23 256.50,436.24 257.00,436.25 257.50,436.26 258.00,436.27 258.50,436.28 259.00,436.28 259.50,436.29 260.00,436.30 260.50,436.31 261.00,436.32 261.50,436.33 262.00,436.34 262.50,436.35 263.00,436.36 263.50,436.37 264.00,436.38 264.50,436.39 265.00,436.40 265.50,436.41 266.00,436.42 266.50,436.43 267.00,436.44 267.50,436.45 268.00,436.46 268.50,436.46 269.00,436.47 269.50,436.48 270.00,436.49 270.50,436.50 271.00,436.51 271.50,436.52 272.00,436.53 272.50,436.54 273.00,436.54 273.50,436.55 274.00,436.56 274.50,436.57 275.00,436.58 275.50,436.59 276.00,436.60 276.50,436.60 277.00,436.61 277.50,436.62 278.00,436.63 278.50,436.64 279.00,436.64 279.50,436.65 280.00,436.66 280.50,436.67 281.00,436.68 281.50,436.68 282.00,436.69 282.50,436.70 283.00,436.71 283.50,436.71 284.00,436.72 284.50,436.73 285.00,436.73 285.50,436.74 286.00,436.75 286.50,436.75 287.00,436.76 287.50,436.77 288.00,436.77 288.50,436.78 289.00,436.79 289.50,436.79 290.00,436.80 290.50,436.81 291.00,436.81 291.50,436.82 292.00,436.83 292.50,436.83 293.00,436.84 293.50,436.84 294.00,436.85 294.50,436.86 295.00,436.86 295.50,436.87 296.00,436.88 296.50,436.88 297.00,436.89 297.50,436.90 298.00,436.90 298.50,436.91 299.00,436.92 299.50,436.92 300.00,436.93 300.50,436.94 301.00,436.94 301.50,436.95 302.00,436.96 302.50,436.96 303.00,436.97 303.50,436.98 304.00,436.98 304.50,436.99 305.00,437.00 305.50,437.00 306.00,437.01 306.50,437.02 307.00,437.02 307.50,437.03 308.00,437.04 308.50,437.04 309.00,437.05 309.50,437.06 310.00,437.06 310.50,437.07 311.00,437.08 311.50,437.08 312.00,437.09 312.50,437.10 313.00,437.10 313.50,437.11 314.00,437.11 314.50,437.12 315.00,437.13 315.50,437.13 316.00,437.14 316.50,437.14 317.00,437.15 317.50,437.16 318.00,437.16 318.50,437.17 319.00,437.17 319.50,437.18 320.00,437.18 320.50,437.19 321.00,437.19 321.50,437.20 322.00,437.20 322.50,437.21 323.00,437.21 323.50,437.22 324.00,437.22 324.50,437.23 325.00,437.23 325.50,437.23 326.00,437.24 326.50,437.24 327.00,437.25 327.50,437.25 328.00,437.25 328.50,437.26 329.00,437.26 329.50,437.26 330.00,437.27 330.50,437.27 331.00,437.27 331.50,437.28 332.00,437.28 332.50,437.28 333.00,437.28 333.50,437.29 334.00,437.29 334.50,437.29 335.00,437.29 335.50,437.29 336.00,437.29 336.50,437.30 337.00,437.30 337.50,437.30 338.00,437.30 338.50,437.30 339.00,437.30 339.50,437.30 340.00,437.30 340.50,437.29 341.00,437.29 341.50,437.29 342.00,437.28 342.50,437.27 343.00,437.27 343.50,437.26 344.00,437.24 344.50,437.23 345.00,437.22 345.50,437.20 346.00,437.18 346.50,437.17 347.00,437.15 347.50,437.12 348.00,437.10 348.50,437.07 349.00,437.03 349.50,436.98 350.00,436.92 350.50,436.85 351.00,436.76 351.50,436.65 352.00,436.53 352.50,436.39 353.00,436.24 353.50,436.09 354.00,435.93 354.50,435.78 355.00,435.62 355.50,435.47 356.00,435.32 356.50,435.17 357.00,435.03 357.50,434.89 358.00,434.75 358.50,434.61 359.00,434.47 359.50,434.34 360.00,434.21 360.50,434.08 361.00,433.95 361.50,433.82 362.00,433.70 362.50,433.59 363.00,433.48 363.50,433.38 364.00,433.29 364.50,433.22 365.00,433.15 365.50,433.09 366.00,433.04 366.50,432.99 367.00,432.96 367.50,432.92 368.00,432.89 368.50,432.86 369.00,432.83 369.50,432.81 370.00,432.78 370.50,432.76 371.00,432.74 371.50,432.72 372.00,432.69 372.50,432.67 373.00,432.65 373.50,432.62 374.00,432.60 374.50,432.58 375.00,432.55 375.50,432.53 376.00,432.51 376.50,432.48 377.00,432.46 377.50,432.43 378.00,432.41 378.50,432.38 379.00,432.35 379.50,432.32 380.00,432.29 380.50,432.25 381.00,432.21 381.50,432.17 382.00,432.12 382.50,432.08 383.00,432.02 383.50,431.97 384.00,431.92 384.50,431.86 385.00,431.80 385.50,431.73 386.00,431.67 386.50,431.60 387.00,431.53 387.50,431.46 388.00,431.39 388.50,431.32 389.00,431.24 389.50,431.17 390.00,431.09 390.50,431.01 391.00,430.93 391.50,430.84 392.00,430.75 392.50,430.66 393.00,430.57 393.50,430.47 394.00,430.37 394.50,430.27 395.00,430.16 395.50,430.06 396.00,429.95 396.50,429.84 397.00,429.72 397.50,429.60 398.00,429.49 398.50,429.36 399.00,429.24 399.50,429.12 400.00,428.99 400.50,428.86 401.00,428.72 401.50,428.58 402.00,428.44 402.50,428.30 403.00,428.15 403.50,428.00 404.00,427.85 404.50,427.69 405.00,427.53 405.50,427.37 406.00,427.20 406.50,427.03 407.00,426.86 407.50,426.69 408.00,426.51 408.50,426.33 409.00,426.15 409.50,425.97 410.00,425.78 410.50,425.58 411.00,425.38 411.50,425.18 412.00,424.97 412.50,424.75 413.00,424.53 413.50,424.31 414.00,424.08 414.50,423.86 415.00,423.63 415.50,423.40 416.00,423.17 416.50,422.95 417.00,422.73 417.50,422.51 418.00,422.30 418.50,422.10 419.00,421.90 419.50,421.71 420.00,421.52 420.50,421.34 421.00,421.17 421.50,421.00 422.00,420.83 422.50,420.66 423.00,420.50 423.50,420.34 424.00,420.18 424.50,420.03 425.00,419.88 425.50,419.73 426.00,419.59 426.50,419.45 427.00,419.32 427.50,419.19 428.00,419.07 428.50,418.95 429.00,418.83 429.50,418.72 430.00,418.62 430.50,418.52 431.00,418.42 431.50,418.33 432.00,418.24 432.50,418.15 433.00,418.07 433.50,417.99 434.00,417.91 434.50,417.83 435.00,417.75 435.50,417.68 436.00,417.61 436.50,417.54 437.00,417.47 437.50,417.41 438.00,417.34 438.50,417.28 439.00,417.22 439.50,417.16 440.00,417.10 440.50,417.05 441.00,416.99 441.50,416.94 442.00,416.88 442.50,416.83 443.00,416.78 443.50,416.72 444.00,416.67 444.50,416.63 445.00,416.58 445.50,416.53 446.00,416.49 446.50,416.45 447.00,416.41 447.50,416.37 448.00,416.33 448.50,416.30 449.00,416.27 449.50,416.24 450.00,416.21 450.50,416.19 451.00,416.16 451.50,416.14 452.00,416.12 452.50,416.10 453.00,416.09 453.50,416.07 454.00,416.05 454.50,416.04 455.00,416.03 455.50,416.02 455.50,520.00 131.00,520.00 131.00,435.30 93.00,435.30" fill="#a3002a" />
<polygon points="90.50,476.25 90.97,476.20 91.43,476.05 91.90,475.83 92.37,475.57 92.83,475.28 93.30,475.00 93.78,474.69 94.26,474.34 94.75,473.95 95.23,473.52 95.71,473.07 96.19,472.59 96.67,472.09 97.15,471.57 97.64,471.05 98.12,470.52 98.60,470.00 99.10,469.45 99.60,468.88 100.10,468.28 100.60,467.67 101.10,467.03 101.60,466.37 102.10,465.70 102.60,465.00 103.04,464.34 103.49,463.64 103.93,462.91 104.37,462.17 104.81,461.42 105.26,460.69 105.70,460.00 106.20,459.25 106.70,458.51 107.20,457.78 107.70,457.06 108.20,456.36 108.70,455.67 109.20,455.00 109.70,454.35 110.20,453.71 110.70,453.10 111.20,452.49 111.70,451.88 112.20,451.27 112.70,450.65 113.20,450.00 113.65,449.40 114.10,448.78 114.55,448.15 115.00,447.51 115.45,446.87 115.90,446.23 116.35,445.61 116.80,445.00 117.29,444.33 117.78,443.64 118.26,442.94 118.75,442.26 119.24,441.61 119.72,441.00 120.21,440.46 120.70,440.00 121.20,439.59 121.70,439.21 122.20,438.86 122.70,438.53 123.20,438.23 123.70,437.96 124.20,437.72 124.70,437.50 125.20,437.29 125.70,437.08 126.20,436.88 126.70,436.70 127.20,436.54 127.70,436.41 128.20,436.33 128.70,436.30 129.20,436.30 129.69,436.30 130.19,436.30 130.68,436.30 131.18,436.30 131.67,436.30 132.17,436.31 132.66,436.31 133.16,436.31 133.65,436.31 134.15,436.31 134.64,436.32 135.14,436.32 135.63,436.32 136.13,436.32 136.63,436.33 137.12,436.33 137.62,436.34 138.11,436.34 138.61,436.34 139.10,436.35 139.60,436.35 140.09,436.36 140.59,436.36 141.08,436.37 141.58,436.37 142.07,436.38 142.57,436.39 143.07,436.39 143.56,436.40 144.06,436.40 144.55,436.41 145.05,436.42 145.54,436.43 146.04,436.43 146.53,436.44 147.03,436.45 147.52,436.46 148.02,436.46 148.51,436.47 149.01,436.48 149.50,436.49 150.00,436.50 150.50,436.51 151.00,436.53 151.50,436.55 152.00,436.58 152.50,436.61 153.00,436.64 153.50,436.68 154.00,436.72 154.50,436.76 155.00,436.80 155.50,436.85 156.00,436.90 156.50,436.95 157.00,437.00 157.50,437.05 158.00,437.10 158.50,437.15 159.00,437.20 159.50,437.25 160.00,437.30 160.50,437.35 161.00,437.40 161.50,437.45 162.00,437.50 162.50,437.55 163.00,437.60 163.50,437.65 164.00,437.71 164.50,437.77 165.00,437.82 165.50,437.88 166.00,437.94 166.50,438.01 167.00,438.07 167.50,438.14 168.00,438.20 168.50,438.27 169.00,438.35 169.50,438.42 170.00,438.50 170.50,438.58 171.00,438.67 171.50,438.77 172.00,438.87 172.50,438.97 173.00,439.08 173.50,439.20 174.00,439.32 174.50,439.44 175.00,439.56 175.50,439.68 176.00,439.81 176.50,439.94 177.00,440.06 177.50,440.19 178.00,440.32 178.50,440.44 179.00,440.56 179.50,440.68 180.00,440.80 180.50,440.91 181.00,441.03 181.50,441.14 182.00,441.25 182.50,441.36 183.00,441.47 183.50,441.58 184.00,441.69 184.50,441.80 185.00,441.91 185.50,442.02 186.00,442.13 186.50,442.24 187.00,442.36 187.50,442.48 188.00,442.60 188.50,442.72 189.00,442.84 189.50,442.97 190.00,443.10 190.50,443.23 191.00,443.37 191.50,443.51 192.00,443.65 192.50,443.79 193.00,443.93 193.50,444.08 194.00,444.23 194.50,444.38 195.00,444.53 195.50,444.69 196.00,444.85 196.50,445.01 197.00,445.17 197.50,445.34 198.00,445.51 198.50,445.68 199.00,445.85 199.50,446.02 200.00,446.20 200.50,446.38 201.00,446.57 201.50,446.76 202.00,446.95 202.50,447.15 203.00,447.35 203.50,447.56 204.00,447.77 204.50,447.98 205.00,448.20 205.50,448.41 206.00,448.63 206.50,448.85 207.00,449.07 207.50,449.29 208.00,449.52 208.50,449.74 209.00,449.96 209.50,450.18 210.00,450.40 210.50,450.62 211.00,450.84 211.50,451.06 212.00,451.29 212.50,451.51 213.00,451.74 213.50,451.96 214.00,452.19 214.50,452.42 215.00,452.65 215.50,452.88 216.00,453.11 216.50,453.35 217.00,453.58 217.50,453.81 218.00,454.05 218.50,454.29 219.00,454.52 219.50,454.76 220.00,455.00 220.50,455.24 221.00,455.48 221.50,455.72 222.00,455.97 222.50,456.21 223.00,456.46 223.50,456.70 224.00,456.95 224.50,457.20 225.00,457.45 225.50,457.70 226.00,457.95 226.50,458.20 227.00,458.46 227.50,458.71 228.00,458.97 228.50,459.23 229.00,459.48 229.50,459.74 230.00,460.00 230.50,460.26 231.00,460.53 231.50,460.79 232.00,461.06 232.50,461.33 233.00,461.60 233.50,461.88 234.00,462.15 234.50,462.42 235.00,462.70 235.50,462.98 236.00,463.25 236.50,463.52 237.00,463.80 237.50,464.07 238.00,464.34 238.50,464.61 239.00,464.87 239.50,465.14 240.00,465.40 240.50,465.66 241.00,465.92 241.50,466.18 242.00,466.44 242.50,466.70 243.00,466.96 243.50,467.21 244.00,467.47 244.50,467.72 245.00,467.98 245.50,468.23 246.00,468.48 246.50,468.73 247.00,468.98 247.50,469.22 248.00,469.46 248.50,469.70 249.00,469.94 249.50,470.17 250.00,470.40 250.50,470.63 251.00,470.85 251.50,471.07 252.00,471.29 252.50,471.50 253.00,471.71 253.50,471.92 254.00,472.13 254.50,472.34 255.00,472.55 255.50,472.75 256.00,472.96 256.50,473.16 257.00,473.36 257.50,473.57 258.00,473.77 258.50,473.98 259.00,474.18 259.50,474.39 260.00,474.60 260.50,474.81 261.00,475.02 261.50,475.24 262.00,475.45 262.50,475.67 263.00,475.88 263.50,476.10 264.00,476.32 264.50,476.53 265.00,476.75 265.50,476.96 266.00,477.17 266.50,477.39 267.00,477.60 267.50,477.80 268.00,478.01 268.50,478.21 269.00,478.41 269.50,478.61 270.00,478.80 270.50,478.99 271.00,479.18 271.50,479.37 272.00,479.56 272.50,479.74 273.00,479.93 273.50,480.11 274.00,480.29 274.50,480.47 275.00,480.65 275.50,480.82 276.00,481.00 276.50,481.17 277.00,481.34 277.50,481.50 278.00,481.67 278.50,481.83 279.00,481.99 279.50,482.15 280.00,482.30 280.50,482.45 281.00,482.60 281.50,482.75 282.00,482.89 282.50,483.03 283.00,483.17 283.50,483.31 284.00,483.45 284.50,483.59 285.00,483.72 285.50,483.85 286.00,483.98 286.50,484.11 287.00,484.24 287.50,484.37 288.00,484.50 288.50,484.63 289.00,484.75 289.50,484.88 290.00,485.00 290.50,485.13 291.00,485.25 291.50,485.38 292.00,485.51 292.50,485.63 293.00,485.76 293.50,485.89 294.00,486.02 294.50,486.14 295.00,486.26 295.50,486.38 296.00,486.50 296.50,486.62 297.00,486.73 297.50,486.84 298.00,486.94 298.50,487.04 299.00,487.13 299.50,487.22 300.00,487.30 300.50,487.38 301.00,487.45 301.50,487.52 302.00,487.59 302.50,487.66 303.00,487.72 303.50,487.78 304.00,487.84 304.50,487.90 305.00,487.96 305.50,488.02 306.00,488.07 306.50,488.13 307.00,488.18 307.50,488.23 308.00,488.29 308.50,488.34 309.00,488.39 309.50,488.45 310.00,488.50 310.50,488.55 311.00,488.61 311.50,488.66 312.00,488.72 312.50,488.77 313.00,488.82 313.50,488.88 314.00,488.93 314.50,488.98 315.00,489.03 315.50,489.08 316.00,489.13 316.50,489.18 317.00,489.23 317.50,489.28 318.00,489.33 318.50,489.37 319.00,489.42 319.50,489.46 320.00,489.50 320.50,489.54 321.00,489.58 321.50,489.62 322.00,489.66 322.50,489.71 323.00,489.75 323.50,489.79 324.00,489.82 324.50,489.86 325.00,489.90 325.50,489.94 326.00,489.97 326.50,490.01 327.00,490.04 327.50,490.07 328.00,490.10 328.50,490.13 329.00,490.15 329.50,490.18 330.00,490.20 330.50,490.22 331.00,490.24 331.50,490.26 332.00,490.28 332.50,490.30 333.00,490.32 333.50,490.34 334.00,490.36 334.50,490.37 335.00,490.39 335.50,490.41 336.00,490.42 336.50,490.44 337.00,490.45 337.50,490.46 338.00,490.47 338.50,490.48 339.00,490.49 339.50,490.49 340.00,490.50 340.50,490.50 341.00,490.51 341.50,490.51 342.00,490.52 342.50,490.52 343.00,490.52 343.50,490.53 344.00,490.53 344.50,490.53 345.00,490.54 345.50,490.54 346.00,490.54 346.50,490.55 347.00,490.55 347.50,490.55 348.00,490.55 348.50,490.55 349.00,490.56 349.50,490.56 350.00,490.56 350.50,490.56 351.00,490.56 351.50,490.57 352.00,490.57 352.50,490.57 353.00,490.57 353.50,490.57 354.00,490.58 354.50,490.58 355.00,490.58 355.50,490.58 356.00,490.58 356.50,490.58 357.00,490.59 357.50,490.59 358.00,490.59 358.50,490.59 359.00,490.60 359.50,490.60 360.00,490.60 360.00,520.00 150.00,520.00 150.00,518.40 149.50,518.38 149.00,518.37 148.50,518.36 148.00,518.34 147.50,518.33 147.00,518.32 146.50,518.31 146.00,518.30 145.50,518.29 145.00,518.28 144.50,518.27 144.00,518.26 143.50,518.25 143.00,518.24 142.50,518.23 142.00,518.22 141.50,518.21 141.00,518.20 140.50,518.19 140.00,518.18 139.50,518.17 139.00,518.15 138.50,518.14 138.00,518.13 137.50,518.11 137.00,518.10 136.50,518.08 136.00,518.06 135.50,518.04 135.00,518.02 134.50,518.00 134.00,517.98 133.50,517.95 133.00,517.92 132.50,517.90 132.00,517.87 131.50,517.83 131.00,517.80 130.54,517.75 130.09,517.66 129.63,517.54 129.18,517.40 128.72,517.24 128.27,517.06 127.81,516.88 127.36,516.69 126.90,516.50 126.41,516.29 125.92,516.06 125.43,515.82 124.94,515.55 124.46,515.27 123.97,514.97 123.48,514.66 122.99,514.34 122.50,514.00 122.01,513.65 121.52,513.27 121.03,512.87 120.54,512.44 120.06,512.00 119.57,511.53 119.08,511.04 118.59,510.53 118.10,510.00 117.65,509.48 117.20,508.91 116.75,508.32 116.30,507.69 115.85,507.03 115.40,506.36 114.95,505.68 114.50,505.00 114.00,504.22 113.50,503.39 113.00,502.55 112.50,501.69 112.00,500.83 111.50,500.00 111.06,499.28 110.61,498.56 110.17,497.85 109.73,497.13 109.29,496.42 108.84,495.71 108.40,495.00 107.96,494.29 107.51,493.57 107.07,492.86 106.63,492.14 106.19,491.43 105.74,490.71 105.30,490.00 104.86,489.27 104.41,488.52 103.97,487.77 103.53,487.02 103.09,486.30 102.64,485.62 102.20,485.00 101.70,484.34 101.20,483.69 100.70,483.06 100.20,482.45 99.70,481.88 99.20,481.34 98.70,480.84 98.20,480.39 97.70,480.00 97.22,479.65 96.74,479.29 96.26,478.94 95.78,478.59 95.30,478.25 94.82,477.92 94.34,477.61 93.86,477.33 93.38,477.07 92.90,476.83 92.42,476.63 91.94,476.47 91.46,476.35 90.98,476.28 90.50,476.25" fill="#6aaadf" />
<polygon points="372.00,484.17 372.50,484.16 373.00,484.15 373.50,484.13 374.00,484.11 374.50,484.10 375.00,484.08 375.50,484.06 376.00,484.04 376.50,484.01 377.00,483.99 377.50,483.96 378.00,483.93 378.50,483.89 379.00,483.85 379.50,483.79 380.00,483.73 380.50,483.65 381.00,483.55 381.50,483.44 382.00,483.31 382.50,483.16 383.00,483.00 383.50,482.83 384.00,482.66 384.50,482.47 385.00,482.28 385.50,482.09 386.00,481.88 386.50,481.67 387.00,481.45 387.50,481.23 388.00,480.99 388.50,480.75 389.00,480.49 389.50,480.23 390.00,479.95 390.50,479.66 391.00,479.36 391.50,479.04 392.00,478.71 392.50,478.37 393.00,478.01 393.50,477.64 394.00,477.24 394.50,476.83 395.00,476.39 395.50,475.94 396.00,475.46 396.50,474.96 397.00,474.43 397.50,473.89 398.00,473.33 398.50,472.75 399.00,472.17 399.50,471.57 400.00,470.96 400.50,470.34 401.00,469.71 401.50,469.06 402.00,468.42 402.50,467.76 403.00,467.09 403.50,466.42 404.00,465.75 404.50,465.08 405.00,464.41 405.50,463.74 406.00,463.06 406.50,462.39 407.00,461.72 407.50,461.04 408.00,460.36 408.50,459.67 409.00,458.97 409.50,458.26 410.00,457.54 410.50,456.81 411.00,456.07 411.50,455.33 412.00,454.57 412.50,453.81 413.00,453.05 413.50,452.29 414.00,451.54 414.50,450.78 415.00,450.04 415.50,449.30 416.00,448.57 416.50,447.85 417.00,447.13 417.50,446.41 418.00,445.71 418.50,445.00 419.00,444.30 419.50,443.60 420.00,442.90 420.50,442.21 421.00,441.52 421.50,440.83 422.00,440.15 422.50,439.48 423.00,438.81 423.50,438.15 424.00,437.51 424.50,436.88 425.00,436.26 425.50,435.66 426.00,435.07 426.50,434.50 427.00,433.94 427.50,433.39 428.00,432.86 428.50,432.34 429.00,431.84 429.50,431.35 430.00,430.88 430.50,430.43 431.00,430.00 431.50,429.57 432.00,429.16 432.50,428.76 433.00,428.36 433.50,427.96 434.00,427.56 434.50,427.16 435.00,426.74 435.50,426.32 436.00,425.89 436.50,425.46 437.00,425.03 437.50,424.60 438.00,424.19 438.50,423.79 439.00,423.41 439.50,423.05 440.00,422.72 440.50,422.41 441.00,422.13 441.50,421.86 442.00,421.62 442.50,421.39 443.00,421.17 443.50,420.97 444.00,420.78 444.50,420.61 445.00,420.45 445.50,420.30 446.00,420.15 446.50,420.02 447.00,419.90 447.50,419.78 448.00,419.68 448.50,419.58 449.00,419.49 449.50,419.41 450.00,419.33 450.50,419.27 451.00,419.21 451.50,419.15 452.00,419.10 452.50,419.06 453.00,419.01 453.50,418.97 454.00,418.93 454.50,418.90 455.00,418.87 455.50,418.85 455.50,521.50 372.00,521.50" fill="#8c86bb" />
<polygon points="381.50,484.39 382.00,484.43 382.50,484.48 383.00,484.54 383.50,484.61 384.00,484.68 384.50,484.75 385.00,484.82 385.50,484.89 386.00,484.97 386.50,485.04 387.00,485.12 387.50,485.20 388.00,485.28 388.50,485.36 389.00,485.44 389.50,485.52 390.00,485.61 390.50,485.69 391.00,485.78 391.50,485.86 392.00,485.95 392.50,486.04 393.00,486.13 393.50,486.22 394.00,486.32 394.50,486.41 395.00,486.51 395.50,486.61 396.00,486.71 396.50,486.81 397.00,486.92 397.50,487.03 398.00,487.14 398.50,487.25 399.00,487.37 399.50,487.49 400.00,487.62 400.50,487.75 401.00,487.88 401.50,488.02 402.00,488.16 402.50,488.31 403.00,488.46 403.50,488.61 404.00,488.77 404.50,488.93 405.00,489.10 405.50,489.27 406.00,489.45 406.50,489.63 407.00,489.82 407.50,490.01 408.00,490.20 408.50,490.40 409.00,490.61 409.50,490.82 410.00,491.05 410.50,491.28 411.00,491.52 411.50,491.77 412.00,492.04 412.50,492.31 413.00,492.59 413.50,492.89 414.00,493.18 414.50,493.49 415.00,493.79 415.50,494.10 416.00,494.41 416.50,494.71 417.00,495.01 417.50,495.31 418.00,495.59 418.50,495.87 419.00,496.15 419.50,496.41 420.00,496.67 420.50,496.92 421.00,497.16 421.50,497.40 422.00,497.63 422.50,497.86 423.00,498.09 423.50,498.32 424.00,498.54 424.50,498.75 425.00,498.97 425.50,499.17 426.00,499.38 426.50,499.57 427.00,499.77 427.50,499.95 428.00,500.13 428.50,500.30 429.00,500.46 429.50,500.62 430.00,500.78 430.50,500.92 431.00,501.07 431.50,501.21 432.00,501.34 432.50,501.47 433.00,501.60 433.50,501.73 434.00,501.85 434.50,501.97 435.00,502.08 435.50,502.19 436.00,502.30 436.50,502.40 437.00,502.50 437.50,502.59 438.00,502.68 438.50,502.76 439.00,502.84 439.50,502.91 440.00,502.99 440.50,503.05 441.00,503.12 441.50,503.18 442.00,503.24 442.50,503.30 443.00,503.36 443.50,503.41 444.00,503.46 444.50,503.51 445.00,503.56 445.50,503.61 446.00,503.65 446.50,503.69 447.00,503.73 447.50,503.76 448.00,503.80 448.50,503.82 449.00,503.85 449.50,503.87 450.00,503.89 450.50,503.90 451.00,503.92 451.50,503.93 452.00,503.94 452.50,503.95 453.00,503.96 453.50,503.97 454.00,503.97 454.50,503.98 455.00,503.99 455.50,503.99 455.50,521.50 382.00,521.50" fill="#e9bc1c" />
<polygon points="158.00,517.57 158.50,517.56 159.00,517.54 159.50,517.52 160.00,517.50 160.50,517.48 161.00,517.46 161.50,517.44 162.00,517.42 162.50,517.40 163.00,517.38 163.50,517.35 164.00,517.33 164.50,517.31 165.00,517.28 165.50,517.26 166.00,517.23 166.50,517.21 167.00,517.18 167.50,517.15 168.00,517.12 168.50,517.09 169.00,517.06 169.50,517.03 170.00,516.99 170.50,516.95 171.00,516.91 171.50,516.86 172.00,516.82 172.50,516.77 173.00,516.71 173.50,516.66 174.00,516.60 174.50,516.54 175.00,516.48 175.50,516.41 176.00,516.35 176.50,516.28 177.00,516.22 177.50,516.15 178.00,516.08 178.50,516.01 179.00,515.94 179.50,515.87 180.00,515.80 180.50,515.72 181.00,515.65 181.50,515.58 182.00,515.50 182.50,515.42 183.00,515.34 183.50,515.26 184.00,515.18 184.50,515.10 185.00,515.02 185.50,514.93 186.00,514.85 186.50,514.76 187.00,514.67 187.50,514.58 188.00,514.49 188.50,514.40 189.00,514.31 189.50,514.22 190.00,514.13 190.50,514.04 191.00,513.95 191.50,513.85 192.00,513.76 192.50,513.67 193.00,513.57 193.50,513.48 194.00,513.39 194.50,513.30 195.00,513.20 195.50,513.11 196.00,513.02 196.50,512.93 197.00,512.84 197.50,512.75 198.00,512.66 198.50,512.57 199.00,512.48 199.50,512.39 200.00,512.30 200.50,512.22 201.00,512.13 201.50,512.05 202.00,511.97 202.50,511.89 203.00,511.80 203.50,511.72 204.00,511.64 204.50,511.57 205.00,511.49 205.50,511.41 206.00,511.33 206.50,511.25 207.00,511.17 207.50,511.10 208.00,511.02 208.50,510.94 209.00,510.86 209.50,510.78 210.00,510.70 210.50,510.62 211.00,510.54 211.50,510.46 212.00,510.38 212.50,510.30 213.00,510.21 213.50,510.13 214.00,510.04 214.50,509.95 215.00,509.87 215.50,509.78 216.00,509.68 216.50,509.59 217.00,509.50 217.50,509.40 218.00,509.30 218.50,509.20 219.00,509.10 219.50,508.99 220.00,508.89 220.50,508.77 221.00,508.66 221.50,508.54 222.00,508.42 222.50,508.29 223.00,508.17 223.50,508.03 224.00,507.90 224.50,507.76 225.00,507.62 225.50,507.48 226.00,507.33 226.50,507.18 227.00,507.03 227.50,506.88 228.00,506.73 228.50,506.57 229.00,506.42 229.50,506.26 230.00,506.10 230.50,505.95 231.00,505.79 231.50,505.63 232.00,505.47 232.50,505.31 233.00,505.15 233.50,505.00 234.00,504.84 234.50,504.69 235.00,504.53 235.50,504.38 236.00,504.23 236.50,504.08 237.00,503.94 237.50,503.79 238.00,503.65 238.50,503.51 239.00,503.38 239.50,503.24 240.00,503.11 240.50,502.98 241.00,502.85 241.50,502.72 242.00,502.60 242.50,502.47 243.00,502.35 243.50,502.22 244.00,502.10 244.50,501.98 245.00,501.86 245.50,501.73 246.00,501.61 246.50,501.50 247.00,501.38 247.50,501.26 248.00,501.14 248.50,501.02 249.00,500.91 249.50,500.79 250.00,500.68 250.50,500.56 251.00,500.45 251.50,500.33 252.00,500.22 252.50,500.11 253.00,500.00 253.50,499.89 254.00,499.78 254.50,499.67 255.00,499.56 255.50,499.45 256.00,499.34 256.50,499.24 257.00,499.13 257.50,499.02 258.00,498.92 258.50,498.81 259.00,498.71 259.50,498.60 260.00,498.50 260.50,498.40 261.00,498.29 261.50,498.19 262.00,498.09 262.50,497.98 263.00,497.88 263.50,497.78 264.00,497.68 264.50,497.58 265.00,497.48 265.50,497.39 266.00,497.29 266.50,497.20 267.00,497.11 267.50,497.02 268.00,496.93 268.50,496.85 269.00,496.77 269.50,496.69 270.00,496.61 270.50,496.54 271.00,496.47 271.50,496.40 272.00,496.33 272.50,496.27 273.00,496.21 273.50,496.15 274.00,496.09 274.50,496.03 275.00,495.97 275.50,495.91 276.00,495.86 276.50,495.80 277.00,495.74 277.50,495.69 278.00,495.63 278.50,495.57 279.00,495.51 279.50,495.46 280.00,495.40 280.50,495.34 281.00,495.28 281.50,495.22 282.00,495.16 282.50,495.10 283.00,495.04 283.50,494.98 284.00,494.92 284.50,494.85 285.00,494.79 285.50,494.73 286.00,494.67 286.50,494.61 287.00,494.55 287.50,494.49 288.00,494.43 288.50,494.38 289.00,494.32 289.50,494.26 290.00,494.20 290.50,494.15 291.00,494.09 291.50,494.03 292.00,493.98 292.50,493.92 293.00,493.87 293.50,493.82 294.00,493.76 294.50,493.71 295.00,493.65 295.50,493.60 296.00,493.55 296.50,493.49 297.00,493.44 297.50,493.38 298.00,493.33 298.50,493.27 299.00,493.21 299.50,493.15 300.00,493.09 300.50,493.03 301.00,492.97 301.50,492.90 302.00,492.83 302.50,492.77 303.00,492.70 303.50,492.63 304.00,492.56 304.50,492.49 305.00,492.42 305.50,492.35 306.00,492.28 306.50,492.21 307.00,492.15 307.50,492.09 308.00,492.03 308.50,491.97 309.00,491.91 309.50,491.86 310.00,491.81 310.50,491.76 311.00,491.72 311.50,491.67 312.00,491.63 312.50,491.59 313.00,491.55 313.50,491.51 314.00,491.48 314.50,491.44 315.00,491.40 315.50,491.37 316.00,491.34 316.50,491.30 317.00,491.27 317.50,491.24 318.00,491.21 318.50,491.18 319.00,491.16 319.50,491.13 320.00,491.10 320.50,491.08 321.00,491.05 321.50,491.03 322.00,491.01 322.50,490.98 323.00,490.96 323.50,490.94 324.00,490.92 324.50,490.90 325.00,490.88 325.50,490.86 326.00,490.84 326.50,490.82 327.00,490.81 327.50,490.79 328.00,490.77 328.50,490.75 329.00,490.74 329.50,490.72 330.00,490.70 330.50,490.68 331.00,490.67 331.50,490.65 332.00,490.64 332.50,490.62 333.00,490.61 333.50,490.59 334.00,490.58 334.50,490.56 335.00,490.55 335.50,490.54 336.00,490.52 336.50,490.51 337.00,490.49 337.50,490.48 338.00,490.46 338.50,490.45 339.00,490.43 339.50,490.42 340.00,490.40 340.50,490.39 341.00,490.37 341.50,490.35 342.00,490.34 342.50,490.33 343.00,490.31 343.50,490.30 344.00,490.28 344.50,490.26 345.00,490.25 345.50,490.23 346.00,490.21 346.50,490.19 347.00,490.17 347.50,490.14 348.00,490.11 348.50,490.08 349.00,490.04 349.50,489.99 350.00,489.93 350.50,489.86 351.00,489.77 351.50,489.66 352.00,489.54 352.50,489.40 353.00,489.25 353.50,489.10 354.00,488.93 354.50,488.76 355.00,488.58 355.50,488.40 356.00,488.21 356.50,488.01 357.00,487.82 357.50,487.62 358.00,487.41 358.50,487.21 359.00,487.01 359.50,486.81 360.00,486.61 360.50,486.42 361.00,486.23 361.50,486.04 362.00,485.86 362.50,485.68 363.00,485.51 363.50,485.36 364.00,485.21 364.50,485.07 365.00,484.95 365.50,484.83 366.00,484.73 366.50,484.63 367.00,484.55 367.50,484.47 368.00,484.40 368.50,484.35 369.00,484.30 369.50,484.27 370.00,484.24 370.50,484.23 371.00,484.22 371.50,484.21 372.00,484.21 372.50,484.21 373.00,484.21 373.50,484.22 374.00,484.22 374.50,484.22 375.00,484.23 375.50,484.23 376.00,484.24 376.50,484.25 377.00,484.25 377.50,484.26 378.00,484.27 378.50,484.28 379.00,484.29 379.50,484.31 380.00,484.33 380.50,484.36 381.00,484.39 381.50,484.43 382.00,484.49 382.50,484.55 383.00,484.62 383.50,484.70 384.00,484.79 384.50,484.88 385.00,484.98 385.50,485.09 386.00,485.20 386.50,485.32 387.00,485.44 387.50,485.56 388.00,485.69 388.50,485.82 389.00,485.95 389.50,486.08 390.00,486.22 390.50,486.36 391.00,486.50 391.50,486.65 392.00,486.81 392.50,486.97 393.00,487.14 393.50,487.31 394.00,487.50 394.50,487.68 395.00,487.88 395.50,488.07 396.00,488.28 396.50,488.48 397.00,488.69 397.50,488.91 398.00,489.12 398.50,489.34 399.00,489.56 399.50,489.79 400.00,490.02 400.50,490.25 401.00,490.48 401.50,490.72 402.00,490.97 402.50,491.21 403.00,491.47 403.50,491.73 404.00,491.99 404.50,492.26 405.00,492.54 405.50,492.81 406.00,493.10 406.50,493.38 407.00,493.68 407.50,493.97 408.00,494.28 408.50,494.58 409.00,494.89 409.50,495.21 410.00,495.54 410.50,495.88 411.00,496.22 411.50,496.58 412.00,496.94 412.50,497.32 413.00,497.70 413.50,498.09 414.00,498.49 414.50,498.88 415.00,499.28 415.50,499.69 416.00,500.09 416.50,500.48 417.00,500.87 417.50,501.26 418.00,501.64 418.50,502.01 419.00,502.37 419.50,502.72 420.00,503.06 420.50,503.39 421.00,503.72 421.50,504.04 422.00,504.36 422.50,504.67 423.00,504.97 423.50,505.27 424.00,505.57 424.50,505.86 425.00,506.15 425.50,506.43 426.00,506.71 426.50,506.99 427.00,507.26 427.50,507.52 428.00,507.78 428.50,508.04 429.00,508.29 429.50,508.54 430.00,508.79 430.50,509.03 431.00,509.26 431.50,509.50 432.00,509.73 432.50,509.96 433.00,510.19 433.50,510.41 434.00,510.63 434.50,510.85 435.00,511.06 435.50,511.26 436.00,511.47 436.50,511.66 437.00,511.86 437.50,512.04 438.00,512.22 438.50,512.39 439.00,512.56 439.50,512.72 440.00,512.88 440.50,513.03 441.00,513.18 441.50,513.32 442.00,513.46 442.50,513.59 443.00,513.73 443.50,513.86 444.00,513.98 444.50,514.10 445.00,514.22 445.50,514.34 446.00,514.45 446.50,514.56 447.00,514.66 447.50,514.76 448.00,514.85 448.50,514.94 449.00,515.02 449.50,515.10 450.00,515.18 450.50,515.25 451.00,515.31 451.50,515.37 452.00,515.43 452.50,515.49 453.00,515.54 453.50,515.59 454.00,515.63 454.50,515.68 455.00,515.71 455.50,515.74 455.50,521.50 158.00,521.50" fill="#2e4a7c" />
<polygon points="175.00,517.56 175.50,517.54 176.00,517.51 176.50,517.49 177.00,517.45 177.50,517.42 178.00,517.39 178.50,517.35 179.00,517.32 179.50,517.28 180.00,517.25 180.50,517.22 181.00,517.18 181.50,517.15 182.00,517.11 182.50,517.08 183.00,517.05 183.50,517.01 184.00,516.98 184.50,516.94 185.00,516.91 185.50,516.87 186.00,516.84 186.50,516.81 187.00,516.77 187.50,516.74 188.00,516.70 188.50,516.67 189.00,516.63 189.50,516.60 190.00,516.56 190.50,516.53 191.00,516.49 191.50,516.46 192.00,516.42 192.50,516.38 193.00,516.35 193.50,516.31 194.00,516.27 194.50,516.24 195.00,516.20 195.50,516.16 196.00,516.12 196.50,516.08 197.00,516.04 197.50,516.00 198.00,515.96 198.50,515.92 199.00,515.88 199.50,515.84 200.00,515.80 200.50,515.75 201.00,515.71 201.50,515.67 202.00,515.62 202.50,515.58 203.00,515.53 203.50,515.48 204.00,515.44 204.50,515.39 205.00,515.34 205.50,515.29 206.00,515.24 206.50,515.19 207.00,515.14 207.50,515.09 208.00,515.04 208.50,514.99 209.00,514.94 209.50,514.88 210.00,514.83 210.50,514.78 211.00,514.73 211.50,514.68 212.00,514.62 212.50,514.57 213.00,514.52 213.50,514.47 214.00,514.41 214.50,514.36 215.00,514.31 215.50,514.26 216.00,514.20 216.50,514.15 217.00,514.10 217.50,514.05 218.00,514.00 218.50,513.95 219.00,513.90 219.50,513.85 220.00,513.80 220.50,513.75 221.00,513.70 221.50,513.65 222.00,513.61 222.50,513.56 223.00,513.51 223.50,513.46 224.00,513.41 224.50,513.37 225.00,513.32 225.50,513.27 226.00,513.22 226.50,513.18 227.00,513.13 227.50,513.08 228.00,513.03 228.50,512.99 229.00,512.94 229.50,512.89 230.00,512.84 230.50,512.80 231.00,512.75 231.50,512.70 232.00,512.66 232.50,512.61 233.00,512.56 233.50,512.51 234.00,512.47 234.50,512.42 235.00,512.37 235.50,512.33 236.00,512.28 236.50,512.23 237.00,512.18 237.50,512.14 238.00,512.09 238.50,512.04 239.00,511.99 239.50,511.95 240.00,511.90 240.50,511.85 241.00,511.81 241.50,511.76 242.00,511.71 242.50,511.67 243.00,511.62 243.50,511.57 244.00,511.53 244.50,511.48 245.00,511.44 245.50,511.39 246.00,511.35 246.50,511.30 247.00,511.25 247.50,511.21 248.00,511.16 248.50,511.12 249.00,511.07 249.50,511.03 250.00,510.98 250.50,510.93 251.00,510.89 251.50,510.84 252.00,510.79 252.50,510.75 253.00,510.70 253.50,510.65 254.00,510.61 254.50,510.56 255.00,510.51 255.50,510.46 256.00,510.41 256.50,510.36 257.00,510.31 257.50,510.26 258.00,510.21 258.50,510.16 259.00,510.10 259.50,510.05 260.00,509.99 260.50,509.94 261.00,509.88 261.50,509.82 262.00,509.76 262.50,509.70 263.00,509.63 263.50,509.57 264.00,509.51 264.50,509.44 265.00,509.38 265.50,509.31 266.00,509.25 266.50,509.19 267.00,509.13 267.50,509.07 268.00,509.01 268.50,508.96 269.00,508.91 269.50,508.86 270.00,508.81 270.50,508.76 271.00,508.72 271.50,508.68 272.00,508.64 272.50,508.60 273.00,508.56 273.50,508.52 274.00,508.48 274.50,508.45 275.00,508.41 275.50,508.38 276.00,508.35 276.50,508.31 277.00,508.28 277.50,508.25 278.00,508.22 278.50,508.19 279.00,508.16 279.50,508.13 280.00,508.10 280.50,508.07 281.00,508.05 281.50,508.02 282.00,507.99 282.50,507.97 283.00,507.94 283.50,507.91 284.00,507.89 284.50,507.86 285.00,507.84 285.50,507.82 286.00,507.79 286.50,507.77 287.00,507.74 287.50,507.72 288.00,507.70 288.50,507.68 289.00,507.65 289.50,507.63 290.00,507.61 290.50,507.59 291.00,507.57 291.50,507.54 292.00,507.52 292.50,507.50 293.00,507.48 293.50,507.46 294.00,507.44 294.50,507.42 295.00,507.40 295.50,507.38 296.00,507.36 296.50,507.34 297.00,507.32 297.50,507.30 298.00,507.28 298.50,507.26 299.00,507.24 299.50,507.22 300.00,507.20 300.50,507.18 301.00,507.16 301.50,507.14 302.00,507.13 302.50,507.11 303.00,507.09 303.50,507.07 304.00,507.05 304.50,507.04 305.00,507.02 305.50,507.00 306.00,506.99 306.50,506.97 307.00,506.95 307.50,506.94 308.00,506.92 308.50,506.90 309.00,506.89 309.50,506.87 310.00,506.86 310.50,506.84 311.00,506.82 311.50,506.81 312.00,506.79 312.50,506.77 313.00,506.76 313.50,506.74 314.00,506.72 314.50,506.71 315.00,506.69 315.50,506.67 316.00,506.65 316.50,506.64 317.00,506.62 317.50,506.60 318.00,506.58 318.50,506.56 319.00,506.54 319.50,506.52 320.00,506.50 320.50,506.48 321.00,506.45 321.50,506.43 322.00,506.41 322.50,506.38 323.00,506.36 323.50,506.34 324.00,506.31 324.50,506.28 325.00,506.26 325.50,506.23 326.00,506.21 326.50,506.18 327.00,506.16 327.50,506.13 328.00,506.10 328.50,506.08 329.00,506.05 329.50,506.03 330.00,506.00 330.50,505.98 331.00,505.95 331.50,505.93 332.00,505.90 332.50,505.88 333.00,505.85 333.50,505.83 334.00,505.81 334.50,505.78 335.00,505.76 335.50,505.73 336.00,505.71 336.50,505.69 337.00,505.66 337.50,505.64 338.00,505.62 338.50,505.59 339.00,505.57 339.50,505.54 340.00,505.52 340.50,505.50 341.00,505.47 341.50,505.45 342.00,505.42 342.50,505.40 343.00,505.37 343.50,505.35 344.00,505.32 344.50,505.30 345.00,505.27 345.50,505.25 346.00,505.22 346.50,505.19 347.00,505.17 347.50,505.14 348.00,505.11 348.50,505.08 349.00,505.06 349.50,505.03 350.00,505.00 350.50,504.97 351.00,504.93 351.50,504.90 352.00,504.87 352.50,504.83 353.00,504.80 353.50,504.76 354.00,504.72 354.50,504.68 355.00,504.64 355.50,504.60 356.00,504.56 356.50,504.52 357.00,504.48 357.50,504.44 358.00,504.40 358.50,504.35 359.00,504.31 359.50,504.27 360.00,504.23 360.50,504.19 361.00,504.15 361.50,504.11 362.00,504.07 362.50,504.03 363.00,503.99 363.50,503.96 364.00,503.92 364.50,503.89 365.00,503.85 365.50,503.82 366.00,503.79 366.50,503.76 367.00,503.73 367.50,503.71 368.00,503.68 368.50,503.66 369.00,503.64 369.50,503.62 370.00,503.60 370.50,503.59 371.00,503.57 371.50,503.56 372.00,503.54 372.50,503.53 373.00,503.52 373.50,503.50 374.00,503.49 374.50,503.48 375.00,503.47 375.50,503.46 376.00,503.45 376.50,503.44 377.00,503.43 377.50,503.42 378.00,503.42 378.50,503.41 379.00,503.41 379.50,503.41 380.00,503.42 380.50,503.42 381.00,503.43 381.50,503.45 382.00,503.47 382.50,503.49 383.00,503.52 383.50,503.56 384.00,503.59 384.50,503.64 385.00,503.68 385.50,503.73 386.00,503.79 386.50,503.85 387.00,503.91 387.50,503.97 388.00,504.04 388.50,504.11 389.00,504.18 389.50,504.26 390.00,504.34 390.50,504.41 391.00,504.49 391.50,504.58 392.00,504.66 392.50,504.74 393.00,504.83 393.50,504.91 394.00,505.00 394.50,505.09 395.00,505.17 395.50,505.26 396.00,505.34 396.50,505.43 397.00,505.51 397.50,505.60 398.00,505.68 398.50,505.76 399.00,505.84 399.50,505.92 400.00,506.00 400.50,506.07 401.00,506.15 401.50,506.23 402.00,506.31 402.50,506.38 403.00,506.46 403.50,506.54 404.00,506.62 404.50,506.70 405.00,506.78 405.50,506.86 406.00,506.94 406.50,507.02 407.00,507.11 407.50,507.19 408.00,507.27 408.50,507.36 409.00,507.44 409.50,507.53 410.00,507.62 410.50,507.70 411.00,507.79 411.50,507.88 412.00,507.97 412.50,508.06 413.00,508.15 413.50,508.24 414.00,508.33 414.50,508.43 415.00,508.52 415.50,508.62 416.00,508.71 416.50,508.81 417.00,508.91 417.50,509.00 418.00,509.10 418.50,509.20 419.00,509.30 419.50,509.40 420.00,509.51 420.50,509.61 421.00,509.72 421.50,509.83 422.00,509.94 422.50,510.06 423.00,510.17 423.50,510.29 424.00,510.41 424.50,510.53 425.00,510.66 425.50,510.78 426.00,510.91 426.50,511.04 427.00,511.17 427.50,511.30 428.00,511.43 428.50,511.56 429.00,511.69 429.50,511.82 430.00,511.95 430.50,512.09 431.00,512.22 431.50,512.35 432.00,512.48 432.50,512.61 433.00,512.74 433.50,512.87 434.00,513.00 434.50,513.13 435.00,513.25 435.50,513.37 436.00,513.50 436.50,513.61 437.00,513.73 437.50,513.85 438.00,513.96 438.50,514.07 439.00,514.18 439.50,514.29 440.00,514.39 440.50,514.49 441.00,514.59 441.50,514.69 442.00,514.78 442.50,514.88 443.00,514.97 443.50,515.06 444.00,515.15 444.50,515.24 445.00,515.33 445.50,515.42 446.00,515.50 446.50,515.59 447.00,515.68 447.50,515.76 448.00,515.84 448.50,515.93 449.00,516.01 449.50,516.09 450.00,516.18 450.50,516.26 451.00,516.34 451.50,516.43 452.00,516.51 452.50,516.59 453.00,516.67 453.50,516.75 454.00,516.82 454.50,516.89 455.00,516.95 455.50,517.00 455.50,521.50 175.00,521.50" fill="#52235f" />
<polygon points="190.00,517.76 190.50,517.74 191.00,517.72 191.50,517.70 192.00,517.67 192.50,517.64 193.00,517.61 193.50,517.58 194.00,517.55 194.50,517.52 195.00,517.48 195.50,517.45 196.00,517.42 196.50,517.39 197.00,517.36 197.50,517.33 198.00,517.30 198.50,517.27 199.00,517.24 199.50,517.20 200.00,517.17 200.50,517.14 201.00,517.11 201.50,517.08 202.00,517.05 202.50,517.02 203.00,516.99 203.50,516.95 204.00,516.92 204.50,516.89 205.00,516.86 205.50,516.83 206.00,516.80 206.50,516.76 207.00,516.73 207.50,516.70 208.00,516.67 208.50,516.63 209.00,516.60 209.50,516.57 210.00,516.54 210.50,516.50 211.00,516.47 211.50,516.44 212.00,516.40 212.50,516.37 213.00,516.34 213.50,516.30 214.00,516.27 214.50,516.23 215.00,516.20 215.50,516.16 216.00,516.13 216.50,516.09 217.00,516.05 217.50,516.01 218.00,515.98 218.50,515.94 219.00,515.90 219.50,515.86 220.00,515.82 220.50,515.77 221.00,515.73 221.50,515.69 222.00,515.65 222.50,515.61 223.00,515.56 223.50,515.52 224.00,515.48 224.50,515.44 225.00,515.39 225.50,515.35 226.00,515.31 226.50,515.27 227.00,515.22 227.50,515.18 228.00,515.14 228.50,515.10 229.00,515.05 229.50,515.01 230.00,514.97 230.50,514.93 231.00,514.89 231.50,514.85 232.00,514.81 232.50,514.78 233.00,514.74 233.50,514.70 234.00,514.67 234.50,514.63 235.00,514.60 235.50,514.56 236.00,514.53 236.50,514.50 237.00,514.47 237.50,514.44 238.00,514.41 238.50,514.38 239.00,514.35 239.50,514.33 240.00,514.30 240.50,514.28 241.00,514.25 241.50,514.23 242.00,514.21 242.50,514.19 243.00,514.16 243.50,514.14 244.00,514.12 244.50,514.10 245.00,514.07 245.50,514.05 246.00,514.03 246.50,514.01 247.00,513.99 247.50,513.97 248.00,513.95 248.50,513.93 249.00,513.91 249.50,513.89 250.00,513.87 250.50,513.85 251.00,513.83 251.50,513.81 252.00,513.79 252.50,513.77 253.00,513.75 253.50,513.74 254.00,513.72 254.50,513.70 255.00,513.68 255.50,513.67 256.00,513.65 256.50,513.63 257.00,513.62 257.50,513.60 258.00,513.58 258.50,513.57 259.00,513.55 259.50,513.54 260.00,513.52 260.50,513.51 261.00,513.50 261.50,513.48 262.00,513.47 262.50,513.46 263.00,513.44 263.50,513.43 264.00,513.42 264.50,513.41 265.00,513.40 265.50,513.39 266.00,513.37 266.50,513.36 267.00,513.35 267.50,513.34 268.00,513.34 268.50,513.33 269.00,513.32 269.50,513.31 270.00,513.30 270.50,513.29 271.00,513.29 271.50,513.28 272.00,513.27 272.50,513.26 273.00,513.26 273.50,513.25 274.00,513.24 274.50,513.24 275.00,513.23 275.50,513.22 276.00,513.22 276.50,513.21 277.00,513.21 277.50,513.20 278.00,513.19 278.50,513.19 279.00,513.18 279.50,513.18 280.00,513.17 280.50,513.17 281.00,513.16 281.50,513.16 282.00,513.15 282.50,513.15 283.00,513.14 283.50,513.14 284.00,513.13 284.50,513.13 285.00,513.12 285.50,513.12 286.00,513.11 286.50,513.11 287.00,513.10 287.50,513.10 288.00,513.10 288.50,513.09 289.00,513.09 289.50,513.08 290.00,513.08 290.50,513.08 291.00,513.07 291.50,513.07 292.00,513.06 292.50,513.06 293.00,513.06 293.50,513.05 294.00,513.05 294.50,513.04 295.00,513.04 295.50,513.04 296.00,513.03 296.50,513.03 297.00,513.02 297.50,513.02 298.00,513.02 298.50,513.01 299.00,513.01 299.50,513.00 300.00,513.00 300.50,513.00 301.00,512.99 301.50,512.99 302.00,512.98 302.50,512.98 303.00,512.97 303.50,512.97 304.00,512.97 304.50,512.96 305.00,512.96 305.50,512.95 306.00,512.95 306.50,512.94 307.00,512.94 307.50,512.94 308.00,512.93 308.50,512.93 309.00,512.92 309.50,512.92 310.00,512.91 310.50,512.91 311.00,512.90 311.50,512.90 312.00,512.90 312.50,512.89 313.00,512.89 313.50,512.88 314.00,512.88 314.50,512.87 315.00,512.87 315.50,512.87 316.00,512.86 316.50,512.86 317.00,512.85 317.50,512.85 318.00,512.85 318.50,512.84 319.00,512.84 319.50,512.84 320.00,512.83 320.50,512.83 321.00,512.83 321.50,512.83 322.00,512.82 322.50,512.82 323.00,512.82 323.50,512.82 324.00,512.81 324.50,512.81 325.00,512.81 325.50,512.81 326.00,512.81 326.50,512.81 327.00,512.80 327.50,512.80 328.00,512.80 328.50,512.80 329.00,512.80 329.50,512.80 330.00,512.80 330.50,512.80 331.00,512.80 331.50,512.80 332.00,512.80 332.50,512.80 333.00,512.80 333.50,512.80 334.00,512.80 334.50,512.80 335.00,512.80 335.50,512.80 336.00,512.80 336.50,512.80 337.00,512.80 337.50,512.80 338.00,512.80 338.50,512.80 339.00,512.80 339.50,512.80 340.00,512.80 340.50,512.80 341.00,512.80 341.50,512.80 342.00,512.80 342.50,512.80 343.00,512.80 343.50,512.80 344.00,512.80 344.50,512.80 345.00,512.80 345.50,512.80 346.00,512.80 346.50,512.80 347.00,512.80 347.50,512.80 348.00,512.80 348.50,512.80 349.00,512.80 349.50,512.80 350.00,512.80 350.50,512.80 351.00,512.80 351.50,512.80 352.00,512.80 352.50,512.80 353.00,512.80 353.50,512.80 354.00,512.80 354.50,512.80 355.00,512.80 355.50,512.80 356.00,512.80 356.50,512.80 357.00,512.80 357.50,512.80 358.00,512.80 358.50,512.80 359.00,512.80 359.50,512.80 360.00,512.80 360.50,512.80 361.00,512.80 361.50,512.80 362.00,512.80 362.50,512.80 363.00,512.80 363.50,512.80 364.00,512.80 364.50,512.80 365.00,512.80 365.50,512.80 366.00,512.80 366.50,512.80 367.00,512.80 367.50,512.80 368.00,512.80 368.50,512.80 369.00,512.80 369.50,512.80 370.00,512.80 370.50,512.80 371.00,512.80 371.50,512.80 372.00,512.80 372.50,512.80 373.00,512.80 373.50,512.80 374.00,512.80 374.50,512.80 375.00,512.80 375.50,512.80 376.00,512.80 376.50,512.81 377.00,512.81 377.50,512.81 378.00,512.81 378.50,512.81 379.00,512.81 379.50,512.81 380.00,512.81 380.50,512.81 381.00,512.81 381.50,512.82 382.00,512.82 382.50,512.82 383.00,512.82 383.50,512.82 384.00,512.82 384.50,512.82 385.00,512.83 385.50,512.83 386.00,512.83 386.50,512.83 387.00,512.83 387.50,512.84 388.00,512.84 388.50,512.84 389.00,512.84 389.50,512.84 390.00,512.85 390.50,512.85 391.00,512.85 391.50,512.85 392.00,512.86 392.50,512.86 393.00,512.86 393.50,512.86 394.00,512.87 394.50,512.87 395.00,512.87 395.50,512.87 396.00,512.88 396.50,512.88 397.00,512.88 397.50,512.88 398.00,512.89 398.50,512.89 399.00,512.90 399.50,512.90 400.00,512.90 400.50,512.91 401.00,512.92 401.50,512.93 402.00,512.94 402.50,512.95 403.00,512.97 403.50,512.98 404.00,513.00 404.50,513.02 405.00,513.04 405.50,513.07 406.00,513.09 406.50,513.12 407.00,513.15 407.50,513.18 408.00,513.21 408.50,513.24 409.00,513.27 409.50,513.31 410.00,513.35 410.50,513.38 411.00,513.42 411.50,513.46 412.00,513.50 412.50,513.54 413.00,513.59 413.50,513.63 414.00,513.67 414.50,513.72 415.00,513.77 415.50,513.81 416.00,513.86 416.50,513.91 417.00,513.95 417.50,514.00 418.00,514.05 418.50,514.10 419.00,514.15 419.50,514.20 420.00,514.25 420.50,514.30 421.00,514.35 421.50,514.40 422.00,514.45 422.50,514.50 423.00,514.55 423.50,514.60 424.00,514.65 424.50,514.70 425.00,514.74 425.50,514.79 426.00,514.84 426.50,514.89 427.00,514.93 427.50,514.98 428.00,515.02 428.50,515.07 429.00,515.11 429.50,515.16 430.00,515.20 430.50,515.24 431.00,515.28 431.50,515.33 432.00,515.37 432.50,515.41 433.00,515.45 433.50,515.50 434.00,515.54 434.50,515.59 435.00,515.63 435.50,515.67 436.00,515.72 436.50,515.76 437.00,515.81 437.50,515.85 438.00,515.90 438.50,515.94 439.00,515.99 439.50,516.03 440.00,516.08 440.50,516.12 441.00,516.17 441.50,516.21 442.00,516.26 442.50,516.30 443.00,516.35 443.50,516.40 444.00,516.44 444.50,516.49 445.00,516.53 445.50,516.58 446.00,516.63 446.50,516.67 447.00,516.72 447.50,516.77 448.00,516.81 448.50,516.86 449.00,516.90 449.50,516.95 450.00,517.00 450.50,517.04 451.00,517.09 451.50,517.14 452.00,517.18 452.50,517.23 453.00,517.27 453.50,517.31 454.00,517.35 454.50,517.39 455.00,517.42 455.50,517.45 455.50,521.50 190.00,521.50" fill="#366b4d" />
<polygon points="200.00,517.98 200.50,517.97 201.00,517.96 201.50,517.94 202.00,517.93 202.50,517.91 203.00,517.89 203.50,517.88 204.00,517.86 204.50,517.84 205.00,517.82 205.50,517.81 206.00,517.79 206.50,517.77 207.00,517.75 207.50,517.73 208.00,517.72 208.50,517.70 209.00,517.68 209.50,517.66 210.00,517.64 210.50,517.63 211.00,517.61 211.50,517.59 212.00,517.57 212.50,517.55 213.00,517.54 213.50,517.52 214.00,517.50 214.50,517.48 215.00,517.47 215.50,517.45 216.00,517.43 216.50,517.41 217.00,517.39 217.50,517.38 218.00,517.36 218.50,517.34 219.00,517.32 219.50,517.30 220.00,517.29 220.50,517.27 221.00,517.25 221.50,517.23 222.00,517.21 222.50,517.20 223.00,517.18 223.50,517.16 224.00,517.14 224.50,517.13 225.00,517.11 225.50,517.09 226.00,517.07 226.50,517.06 227.00,517.04 227.50,517.02 228.00,517.00 228.50,516.99 229.00,516.97 229.50,516.95 230.00,516.93 230.50,516.92 231.00,516.90 231.50,516.88 232.00,516.87 232.50,516.85 233.00,516.83 233.50,516.81 234.00,516.80 234.50,516.78 235.00,516.76 235.50,516.75 236.00,516.73 236.50,516.71 237.00,516.70 237.50,516.68 238.00,516.67 238.50,516.65 239.00,516.63 239.50,516.62 240.00,516.60 240.50,516.58 241.00,516.57 241.50,516.55 242.00,516.53 242.50,516.52 243.00,516.50 243.50,516.48 244.00,516.47 244.50,516.45 245.00,516.43 245.50,516.41 246.00,516.40 246.50,516.38 247.00,516.36 247.50,516.34 248.00,516.33 248.50,516.31 249.00,516.29 249.50,516.27 250.00,516.26 250.50,516.24 251.00,516.22 251.50,516.20 252.00,516.19 252.50,516.17 253.00,516.15 253.50,516.14 254.00,516.12 254.50,516.10 255.00,516.09 255.50,516.07 256.00,516.05 256.50,516.04 257.00,516.02 257.50,516.01 258.00,515.99 258.50,515.97 259.00,515.96 259.50,515.94 260.00,515.93 260.50,515.92 261.00,515.90 261.50,515.89 262.00,515.87 262.50,515.86 263.00,515.85 263.50,515.83 264.00,515.82 264.50,515.81 265.00,515.80 265.50,515.79 266.00,515.78 266.50,515.76 267.00,515.75 267.50,515.74 268.00,515.74 268.50,515.73 269.00,515.72 269.50,515.71 270.00,515.70 270.50,515.69 271.00,515.69 271.50,515.68 272.00,515.67 272.50,515.66 273.00,515.66 273.50,515.65 274.00,515.64 274.50,515.64 275.00,515.63 275.50,515.63 276.00,515.62 276.50,515.61 277.00,515.61 277.50,515.60 278.00,515.60 278.50,515.59 279.00,515.58 279.50,515.58 280.00,515.57 280.50,515.57 281.00,515.56 281.50,515.56 282.00,515.55 282.50,515.55 283.00,515.54 283.50,515.54 284.00,515.53 284.50,515.53 285.00,515.52 285.50,515.52 286.00,515.51 286.50,515.51 287.00,515.51 287.50,515.50 288.00,515.50 288.50,515.49 289.00,515.49 289.50,515.48 290.00,515.48 290.50,515.48 291.00,515.47 291.50,515.47 292.00,515.46 292.50,515.46 293.00,515.46 293.50,515.45 294.00,515.45 294.50,515.44 295.00,515.44 295.50,515.44 296.00,515.43 296.50,515.43 297.00,515.42 297.50,515.42 298.00,515.42 298.50,515.41 299.00,515.41 299.50,515.40 300.00,515.40 300.50,515.40 301.00,515.39 301.50,515.39 302.00,515.38 302.50,515.38 303.00,515.37 303.50,515.37 304.00,515.37 304.50,515.36 305.00,515.36 305.50,515.35 306.00,515.35 306.50,515.34 307.00,515.34 307.50,515.34 308.00,515.33 308.50,515.33 309.00,515.32 309.50,515.32 310.00,515.31 310.50,515.31 311.00,515.30 311.50,515.30 312.00,515.30 312.50,515.29 313.00,515.29 313.50,515.28 314.00,515.28 314.50,515.27 315.00,515.27 315.50,515.27 316.00,515.26 316.50,515.26 317.00,515.25 317.50,515.25 318.00,515.25 318.50,515.24 319.00,515.24 319.50,515.24 320.00,515.23 320.50,515.23 321.00,515.23 321.50,515.23 322.00,515.22 322.50,515.22 323.00,515.22 323.50,515.22 324.00,515.21 324.50,515.21 325.00,515.21 325.50,515.21 326.00,515.21 326.50,515.21 327.00,515.20 327.50,515.20 328.00,515.20 328.50,515.20 329.00,515.20 329.50,515.20 330.00,515.20 330.50,515.20 331.00,515.20 331.50,515.20 332.00,515.20 332.50,515.20 333.00,515.20 333.50,515.20 334.00,515.20 334.50,515.20 335.00,515.20 335.50,515.20 336.00,515.20 336.50,515.20 337.00,515.20 337.50,515.20 338.00,515.20 338.50,515.20 339.00,515.20 339.50,515.20 340.00,515.20 340.50,515.20 341.00,515.20 341.50,515.20 342.00,515.20 342.50,515.20 343.00,515.20 343.50,515.20 344.00,515.20 344.50,515.20 345.00,515.20 345.50,515.20 346.00,515.20 346.50,515.20 347.00,515.20 347.50,515.20 348.00,515.20 348.50,515.20 349.00,515.20 349.50,515.20 350.00,515.20 350.50,515.20 351.00,515.20 351.50,515.20 352.00,515.20 352.50,515.20 353.00,515.20 353.50,515.20 354.00,515.20 354.50,515.20 355.00,515.20 355.50,515.20 356.00,515.20 356.50,515.20 357.00,515.20 357.50,515.20 358.00,515.20 358.50,515.20 359.00,515.20 359.50,515.20 360.00,515.20 360.50,515.20 361.00,515.20 361.50,515.20 362.00,515.20 362.50,515.20 363.00,515.20 363.50,515.20 364.00,515.20 364.50,515.20 365.00,515.20 365.50,515.20 366.00,515.20 366.50,515.20 367.00,515.20 367.50,515.20 368.00,515.20 368.50,515.20 369.00,515.20 369.50,515.20 370.00,515.20 370.50,515.20 371.00,515.20 371.50,515.20 372.00,515.20 372.50,515.20 373.00,515.20 373.50,515.20 374.00,515.20 374.50,515.20 375.00,515.20 375.50,515.20 376.00,515.20 376.50,515.20 377.00,515.20 377.50,515.20 378.00,515.20 378.50,515.20 379.00,515.20 379.50,515.20 380.00,515.20 380.50,515.20 381.00,515.21 381.50,515.21 382.00,515.22 382.50,515.22 383.00,515.23 383.50,515.23 384.00,515.24 384.50,515.25 385.00,515.26 385.50,515.27 386.00,515.29 386.50,515.30 387.00,515.31 387.50,515.33 388.00,515.34 388.50,515.36 389.00,515.38 389.50,515.39 390.00,515.41 390.50,515.43 391.00,515.45 391.50,515.46 392.00,515.48 392.50,515.50 393.00,515.52 393.50,515.54 394.00,515.56 394.50,515.58 395.00,515.60 395.50,515.62 396.00,515.64 396.50,515.66 397.00,515.68 397.50,515.70 398.00,515.72 398.50,515.74 399.00,515.76 399.50,515.78 400.00,515.80 400.50,515.82 401.00,515.84 401.50,515.86 402.00,515.88 402.50,515.90 403.00,515.92 403.50,515.94 404.00,515.96 404.50,515.98 405.00,516.01 405.50,516.03 406.00,516.05 406.50,516.07 407.00,516.10 407.50,516.12 408.00,516.14 408.50,516.17 409.00,516.19 409.50,516.22 410.00,516.24 410.50,516.27 411.00,516.29 411.50,516.32 412.00,516.34 412.50,516.37 413.00,516.39 413.50,516.42 414.00,516.45 414.50,516.47 415.00,516.50 415.50,516.53 416.00,516.55 416.50,516.58 417.00,516.61 417.50,516.63 418.00,516.66 418.50,516.69 419.00,516.71 419.50,516.74 420.00,516.77 420.50,516.80 421.00,516.82 421.50,516.85 422.00,516.88 422.50,516.90 423.00,516.93 423.50,516.96 424.00,516.99 424.50,517.01 425.00,517.04 425.50,517.07 426.00,517.09 426.50,517.12 427.00,517.14 427.50,517.17 428.00,517.20 428.50,517.22 429.00,517.25 429.50,517.27 430.00,517.30 430.50,517.33 431.00,517.35 431.50,517.38 432.00,517.40 432.50,517.43 433.00,517.45 433.50,517.48 434.00,517.50 434.50,517.53 435.00,517.55 435.50,517.58 436.00,517.60 436.50,517.63 437.00,517.66 437.50,517.68 438.00,517.71 438.50,517.73 439.00,517.76 439.50,517.78 440.00,517.81 440.50,517.83 441.00,517.86 441.50,517.88 442.00,517.91 442.50,517.94 443.00,517.96 443.50,517.99 444.00,518.01 444.50,518.04 445.00,518.06 445.50,518.09 446.00,518.11 446.50,518.14 447.00,518.17 447.50,518.19 448.00,518.22 448.50,518.24 449.00,518.27 449.50,518.29 450.00,518.32 450.50,518.34 451.00,518.37 451.50,518.40 452.00,518.42 452.50,518.45 453.00,518.47 453.50,518.49 454.00,518.52 454.50,518.54 455.00,518.56 455.50,518.57 455.50,521.50 200.00,521.50" fill="#6a3d14" />
<polygon points="210.00,518.90 210.50,518.89 211.00,518.89 211.50,518.88 212.00,518.88 212.50,518.87 213.00,518.86 213.50,518.86 214.00,518.85 214.50,518.84 215.00,518.84 215.50,518.83 216.00,518.83 216.50,518.82 217.00,518.81 217.50,518.81 218.00,518.80 218.50,518.80 219.00,518.79 219.50,518.78 220.00,518.78 220.50,518.77 221.00,518.77 221.50,518.76 222.00,518.75 222.50,518.75 223.00,518.74 223.50,518.74 224.00,518.73 224.50,518.72 225.00,518.72 225.50,518.71 226.00,518.70 226.50,518.70 227.00,518.69 227.50,518.69 228.00,518.68 228.50,518.67 229.00,518.67 229.50,518.66 230.00,518.66 230.50,518.65 231.00,518.64 231.50,518.64 232.00,518.63 232.50,518.63 233.00,518.62 233.50,518.61 234.00,518.61 234.50,518.60 235.00,518.59 235.50,518.59 236.00,518.58 236.50,518.58 237.00,518.57 237.50,518.56 238.00,518.56 238.50,518.55 239.00,518.54 239.50,518.54 240.00,518.53 240.50,518.53 241.00,518.52 241.50,518.51 242.00,518.51 242.50,518.50 243.00,518.49 243.50,518.49 244.00,518.48 244.50,518.47 245.00,518.47 245.50,518.46 246.00,518.45 246.50,518.45 247.00,518.44 247.50,518.43 248.00,518.43 248.50,518.42 249.00,518.41 249.50,518.41 250.00,518.40 250.50,518.39 251.00,518.39 251.50,518.38 252.00,518.37 252.50,518.36 253.00,518.35 253.50,518.34 254.00,518.33 254.50,518.32 255.00,518.31 255.50,518.30 256.00,518.29 256.50,518.28 257.00,518.27 257.50,518.26 258.00,518.25 258.50,518.24 259.00,518.23 259.50,518.23 260.00,518.22 260.50,518.21 261.00,518.20 261.50,518.19 262.00,518.18 262.50,518.17 263.00,518.16 263.50,518.15 264.00,518.15 264.50,518.14 265.00,518.13 265.50,518.13 266.00,518.12 266.50,518.12 267.00,518.11 267.50,518.11 268.00,518.11 268.50,518.10 269.00,518.10 269.50,518.10 270.00,518.10 270.50,518.10 271.00,518.10 271.50,518.10 272.00,518.10 272.50,518.10 273.00,518.10 273.50,518.10 274.00,518.10 274.50,518.10 275.00,518.10 275.50,518.11 276.00,518.11 276.50,518.11 277.00,518.11 277.50,518.11 278.00,518.11 278.50,518.11 279.00,518.11 279.50,518.12 280.00,518.12 280.50,518.12 281.00,518.12 281.50,518.12 282.00,518.12 282.50,518.13 283.00,518.13 283.50,518.13 284.00,518.13 284.50,518.13 285.00,518.14 285.50,518.14 286.00,518.14 286.50,518.14 287.00,518.14 287.50,518.15 288.00,518.15 288.50,518.15 289.00,518.15 289.50,518.15 290.00,518.16 290.50,518.16 291.00,518.16 291.50,518.16 292.00,518.17 292.50,518.17 293.00,518.17 293.50,518.17 294.00,518.17 294.50,518.18 295.00,518.18 295.50,518.18 296.00,518.18 296.50,518.19 297.00,518.19 297.50,518.19 298.00,518.19 298.50,518.19 299.00,518.20 299.50,518.20 300.00,518.20 300.50,518.20 301.00,518.20 301.50,518.21 302.00,518.21 302.50,518.21 303.00,518.21 303.50,518.21 304.00,518.22 304.50,518.22 305.00,518.22 305.50,518.22 306.00,518.22 306.50,518.22 307.00,518.23 307.50,518.23 308.00,518.23 308.50,518.23 309.00,518.23 309.50,518.24 310.00,518.24 310.50,518.24 311.00,518.24 311.50,518.24 312.00,518.24 312.50,518.25 313.00,518.25 313.50,518.25 314.00,518.25 314.50,518.25 315.00,518.26 315.50,518.26 316.00,518.26 316.50,518.26 317.00,518.26 317.50,518.26 318.00,518.27 318.50,518.27 319.00,518.27 319.50,518.27 320.00,518.27 320.50,518.28 321.00,518.28 321.50,518.28 322.00,518.28 322.50,518.28 323.00,518.29 323.50,518.29 324.00,518.29 324.50,518.29 325.00,518.29 325.50,518.29 326.00,518.30 326.50,518.30 327.00,518.30 327.50,518.30 328.00,518.30 328.50,518.31 329.00,518.31 329.50,518.31 330.00,518.31 330.50,518.31 331.00,518.32 331.50,518.32 332.00,518.32 332.50,518.32 333.00,518.32 333.50,518.33 334.00,518.33 334.50,518.33 335.00,518.33 335.50,518.33 336.00,518.34 336.50,518.34 337.00,518.34 337.50,518.34 338.00,518.34 338.50,518.35 339.00,518.35 339.50,518.35 340.00,518.35 340.50,518.36 341.00,518.36 341.50,518.36 342.00,518.36 342.50,518.36 343.00,518.37 343.50,518.37 344.00,518.37 344.50,518.37 345.00,518.38 345.50,518.38 346.00,518.38 346.50,518.38 347.00,518.39 347.50,518.39 348.00,518.39 348.50,518.39 349.00,518.39 349.50,518.40 350.00,518.40 350.50,518.40 351.00,518.41 351.50,518.41 352.00,518.41 352.50,518.41 353.00,518.42 353.50,518.42 354.00,518.42 354.50,518.42 355.00,518.43 355.50,518.43 356.00,518.43 356.50,518.43 357.00,518.44 357.50,518.44 358.00,518.44 358.50,518.45 359.00,518.45 359.50,518.45 360.00,518.46 360.50,518.46 361.00,518.46 361.50,518.46 362.00,518.47 362.50,518.47 363.00,518.47 363.50,518.48 364.00,518.48 364.50,518.48 365.00,518.49 365.50,518.49 366.00,518.49 366.50,518.50 367.00,518.50 367.50,518.50 368.00,518.51 368.50,518.51 369.00,518.51 369.50,518.52 370.00,518.52 370.50,518.52 371.00,518.53 371.50,518.53 372.00,518.54 372.50,518.54 373.00,518.54 373.50,518.55 374.00,518.55 374.50,518.55 375.00,518.56 375.50,518.56 376.00,518.57 376.50,518.57 377.00,518.57 377.50,518.58 378.00,518.58 378.50,518.59 379.00,518.59 379.50,518.60 380.00,518.60 380.50,518.60 381.00,518.61 381.50,518.61 382.00,518.62 382.50,518.62 383.00,518.63 383.50,518.64 384.00,518.64 384.50,518.65 385.00,518.66 385.50,518.66 386.00,518.67 386.50,518.68 387.00,518.69 387.50,518.69 388.00,518.70 388.50,518.71 389.00,518.72 389.50,518.73 390.00,518.74 390.50,518.75 391.00,518.76 391.50,518.77 392.00,518.78 392.50,518.79 393.00,518.80 393.50,518.81 394.00,518.82 394.50,518.83 395.00,518.84 395.50,518.85 396.00,518.86 396.50,518.87 397.00,518.89 397.50,518.90 398.00,518.91 398.50,518.92 399.00,518.94 399.50,518.95 400.00,518.96 400.50,518.97 401.00,518.99 401.50,519.00 402.00,519.01 402.50,519.03 403.00,519.04 403.50,519.06 404.00,519.07 404.50,519.08 405.00,519.10 405.50,519.11 406.00,519.13 406.50,519.14 407.00,519.16 407.50,519.17 408.00,519.19 408.50,519.20 409.00,519.22 409.50,519.23 410.00,519.25 410.50,519.27 411.00,519.28 411.50,519.30 412.00,519.31 412.50,519.33 413.00,519.35 413.50,519.36 414.00,519.38 414.50,519.40 415.00,519.41 415.50,519.43 416.00,519.45 416.50,519.46 417.00,519.48 417.50,519.50 418.00,519.51 418.50,519.53 419.00,519.55 419.50,519.57 420.00,519.58 420.50,519.60 421.00,519.62 421.50,519.64 422.00,519.65 422.50,519.67 423.00,519.69 423.50,519.71 424.00,519.72 424.50,519.74 425.00,519.76 425.50,519.78 426.00,519.80 426.50,519.81 427.00,519.83 427.50,519.85 428.00,519.87 428.50,519.89 429.00,519.90 429.50,519.92 430.00,519.94 430.50,519.96 431.00,519.98 431.50,519.99 432.00,520.01 432.50,520.03 433.00,520.05 433.50,520.07 434.00,520.08 434.50,520.10 435.00,520.12 435.50,520.14 436.00,520.16 436.50,520.17 437.00,520.19 437.50,520.21 438.00,520.23 438.50,520.24 439.00,520.26 439.50,520.28 440.00,520.30 440.50,520.31 441.00,520.33 441.50,520.35 442.00,520.37 442.50,520.38 443.00,520.40 443.50,520.42 444.00,520.43 444.50,520.45 445.00,520.47 445.50,520.49 446.00,520.50 446.50,520.52 447.00,520.53 447.50,520.55 448.00,520.57 448.50,520.58 449.00,520.60 449.50,520.62 450.00,520.63 450.50,520.65 451.00,520.66 451.50,520.68 452.00,520.69 452.50,520.71 453.00,520.73 453.50,520.74 454.00,520.76 454.50,520.77 455.00,520.79 455.50,520.80 455.50,521.50 210.00,521.50" fill="#4a5070" />
<polygon points="90.50,519.30 91.00,519.30 91.50,519.30 92.00,519.30 92.50,519.29 93.00,519.29 93.50,519.28 94.00,519.28 94.50,519.27 95.00,519.26 95.50,519.25 96.00,519.24 96.50,519.22 97.00,519.21 97.50,519.20 98.00,519.18 98.50,519.16 99.00,519.14 99.50,519.12 100.00,519.10 100.50,519.08 101.00,519.05 101.50,519.03 102.00,519.00 102.50,518.98 103.00,518.95 103.50,518.92 104.00,518.89 104.50,518.86 105.00,518.83 105.50,518.80 106.00,518.77 106.50,518.73 107.00,518.70 107.50,518.67 108.00,518.63 108.50,518.60 109.00,518.57 109.50,518.53 110.00,518.50 110.50,518.47 111.00,518.43 111.50,518.40 112.00,518.37 112.50,518.33 113.00,518.30 113.50,518.27 114.00,518.24 114.50,518.21 115.00,518.18 115.50,518.15 116.00,518.12 116.50,518.10 117.00,518.07 117.50,518.05 118.00,518.02 118.50,518.00 119.00,517.98 119.50,517.96 120.00,517.94 120.50,517.92 121.00,517.90 121.50,517.89 122.00,517.88 122.50,517.86 123.00,517.85 123.50,517.84 124.00,517.83 124.50,517.82 125.00,517.82 125.50,517.81 126.00,517.81 126.50,517.80 127.00,517.80 127.50,517.80 128.00,517.80 128.50,517.80 129.00,517.80 129.50,517.80 130.00,517.80 130.50,517.80 131.00,517.80 131.50,517.80 132.00,517.80 132.50,517.80 133.00,517.80 133.50,517.80 134.00,517.80 134.50,517.81 135.00,517.81 135.50,517.81 136.00,517.81 136.50,517.81 137.00,517.81 137.50,517.81 138.00,517.81 138.50,517.81 139.00,517.81 139.50,517.82 140.00,517.82 140.50,517.82 141.00,517.82 141.50,517.82 142.00,517.82 142.50,517.82 143.00,517.83 143.50,517.83 144.00,517.83 144.50,517.83 145.00,517.83 145.50,517.83 146.00,517.84 146.50,517.84 147.00,517.84 147.50,517.84 148.00,517.84 148.50,517.85 149.00,517.85 149.50,517.85 150.00,517.85 150.50,517.85 151.00,517.86 151.50,517.86 152.00,517.86 152.50,517.86 153.00,517.87 153.50,517.87 154.00,517.87 154.50,517.87 155.00,517.87 155.50,517.88 156.00,517.88 156.50,517.88 157.00,517.88 157.50,517.89 158.00,517.89 158.50,517.89 159.00,517.89 159.50,517.90 160.00,517.90 160.50,517.90 161.00,517.91 161.50,517.91 162.00,517.91 162.50,517.92 163.00,517.93 163.50,517.93 164.00,517.94 164.50,517.95 165.00,517.95 165.50,517.96 166.00,517.97 166.50,517.98 167.00,517.99 167.50,518.00 168.00,518.01 168.50,518.02 169.00,518.03 169.50,518.04 170.00,518.05 170.50,518.07 171.00,518.08 171.50,518.09 172.00,518.10 172.50,518.12 173.00,518.13 173.50,518.15 174.00,518.16 174.50,518.18 175.00,518.19 175.50,518.21 176.00,518.22 176.50,518.24 177.00,518.26 177.50,518.27 178.00,518.29 178.50,518.31 179.00,518.33 179.50,518.34 180.00,518.36 180.50,518.38 181.00,518.40 181.50,518.42 182.00,518.44 182.50,518.46 183.00,518.48 183.50,518.50 184.00,518.52 184.50,518.54 185.00,518.56 185.50,518.58 186.00,518.60 186.50,518.62 187.00,518.64 187.50,518.66 188.00,518.68 188.50,518.70 189.00,518.72 189.50,518.74 190.00,518.76 190.50,518.78 191.00,518.80 191.50,518.82 192.00,518.84 192.50,518.87 193.00,518.89 193.50,518.91 194.00,518.93 194.50,518.95 195.00,518.97 195.50,518.99 196.00,519.01 196.50,519.03 197.00,519.05 197.50,519.08 198.00,519.10 198.50,519.12 199.00,519.14 199.50,519.16 200.00,519.18 200.50,519.20 201.00,519.22 201.50,519.24 202.00,519.26 202.50,519.28 203.00,519.30 203.50,519.32 204.00,519.34 204.50,519.35 205.00,519.37 205.50,519.39 206.00,519.41 206.50,519.43 207.00,519.45 207.50,519.46 208.00,519.48 208.50,519.50 209.00,519.51 209.50,519.53 210.00,519.55 210.50,519.56 211.00,519.58 211.50,519.59 212.00,519.61 212.50,519.62 213.00,519.64 213.50,519.65 214.00,519.67 214.50,519.68 215.00,519.69 215.50,519.71 216.00,519.72 216.50,519.73 217.00,519.74 217.50,519.75 218.00,519.76 218.50,519.77 219.00,519.78 219.50,519.79 220.00,519.80 220.50,519.81 221.00,519.82 221.50,519.83 222.00,519.83 222.50,519.84 223.00,519.85 223.50,519.86 224.00,519.87 224.50,519.88 225.00,519.88 225.50,519.89 226.00,519.90 226.50,519.91 227.00,519.92 227.50,519.92 228.00,519.93 228.50,519.94 229.00,519.95 229.50,519.96 230.00,519.96 230.50,519.97 231.00,519.98 231.50,519.99 232.00,520.00 232.50,520.00 233.00,520.01 233.50,520.02 234.00,520.03 234.50,520.03 235.00,520.04 235.50,520.05 236.00,520.05 236.50,520.06 237.00,520.07 237.50,520.08 238.00,520.08 238.50,520.09 239.00,520.10 239.50,520.10 240.00,520.11 240.50,520.12 241.00,520.12 241.50,520.13 242.00,520.14 242.50,520.14 243.00,520.15 243.50,520.16 244.00,520.16 244.50,520.17 245.00,520.18 245.50,520.18 246.00,520.19 246.50,520.19 247.00,520.20 247.50,520.21 248.00,520.21 248.50,520.22 249.00,520.22 249.50,520.23 250.00,520.24 250.50,520.24 251.00,520.25 251.50,520.25 252.00,520.26 252.50,520.26 253.00,520.27 253.50,520.27 254.00,520.28 254.50,520.28 255.00,520.29 255.50,520.29 256.00,520.30 256.50,520.30 257.00,520.31 257.50,520.31 258.00,520.32 258.50,520.32 259.00,520.32 259.50,520.33 260.00,520.33 260.50,520.34 261.00,520.34 261.50,520.35 262.00,520.35 262.50,520.35 263.00,520.36 263.50,520.36 264.00,520.36 264.50,520.37 265.00,520.37 265.50,520.37 266.00,520.38 266.50,520.38 267.00,520.38 267.50,520.39 268.00,520.39 268.50,520.39 269.00,520.39 269.50,520.40 270.00,520.40 270.50,520.40 271.00,520.40 271.50,520.41 272.00,520.41 272.50,520.41 273.00,520.41 273.50,520.42 274.00,520.42 274.50,520.42 275.00,520.42 275.50,520.42 276.00,520.43 276.50,520.43 277.00,520.43 277.50,520.43 278.00,520.43 278.50,520.44 279.00,520.44 279.50,520.44 280.00,520.44 280.50,520.44 281.00,520.44 281.50,520.45 282.00,520.45 282.50,520.45 283.00,520.45 283.50,520.45 284.00,520.45 284.50,520.45 285.00,520.46 285.50,520.46 286.00,520.46 286.50,520.46 287.00,520.46 287.50,520.46 288.00,520.46 288.50,520.47 289.00,520.47 289.50,520.47 290.00,520.47 290.50,520.47 291.00,520.47 291.50,520.47 292.00,520.48 292.50,520.48 293.00,520.48 293.50,520.48 294.00,520.48 294.50,520.48 295.00,520.48 295.50,520.49 296.00,520.49 296.50,520.49 297.00,520.49 297.50,520.49 298.00,520.49 298.50,520.49 299.00,520.50 299.50,520.50 300.00,520.50 300.50,520.50 301.00,520.50 301.50,520.51 302.00,520.51 302.50,520.51 303.00,520.51 303.50,520.51 304.00,520.51 304.50,520.52 305.00,520.52 305.50,520.52 306.00,520.52 306.50,520.52 307.00,520.52 307.50,520.53 308.00,520.53 308.50,520.53 309.00,520.53 309.50,520.53 310.00,520.53 310.50,520.54 311.00,520.54 311.50,520.54 312.00,520.54 312.50,520.54 313.00,520.55 313.50,520.55 314.00,520.55 314.50,520.55 315.00,520.55 315.50,520.55 316.00,520.56 316.50,520.56 317.00,520.56 317.50,520.56 318.00,520.56 318.50,520.56 319.00,520.57 319.50,520.57 320.00,520.57 320.50,520.57 321.00,520.57 321.50,520.57 322.00,520.58 322.50,520.58 323.00,520.58 323.50,520.58 324.00,520.58 324.50,520.59 325.00,520.59 325.50,520.59 326.00,520.59 326.50,520.59 327.00,520.59 327.50,520.60 328.00,520.60 328.50,520.60 329.00,520.60 329.50,520.60 330.00,520.60 330.50,520.61 331.00,520.61 331.50,520.61 332.00,520.61 332.50,520.61 333.00,520.62 333.50,520.62 334.00,520.62 334.50,520.62 335.00,520.62 335.50,520.62 336.00,520.63 336.50,520.63 337.00,520.63 337.50,520.63 338.00,520.63 338.50,520.64 339.00,520.64 339.50,520.64 340.00,520.64 340.50,520.64 341.00,520.64 341.50,520.65 342.00,520.65 342.50,520.65 343.00,520.65 343.50,520.65 344.00,520.66 344.50,520.66 345.00,520.66 345.50,520.66 346.00,520.66 346.50,520.66 347.00,520.67 347.50,520.67 348.00,520.67 348.50,520.67 349.00,520.67 349.50,520.68 350.00,520.68 350.50,520.68 351.00,520.68 351.50,520.68 352.00,520.69 352.50,520.69 353.00,520.69 353.50,520.69 354.00,520.69 354.50,520.70 355.00,520.70 355.50,520.70 356.00,520.70 356.50,520.70 357.00,520.70 357.50,520.71 358.00,520.71 358.50,520.71 359.00,520.71 359.50,520.71 360.00,520.72 360.50,520.72 361.00,520.72 361.50,520.72 362.00,520.72 362.50,520.73 363.00,520.73 363.50,520.73 364.00,520.73 364.50,520.73 365.00,520.74 365.50,520.74 366.00,520.74 366.50,520.74 367.00,520.74 367.50,520.75 368.00,520.75 368.50,520.75 369.00,520.75 369.50,520.76 370.00,520.76 370.50,520.76 371.00,520.76 371.50,520.76 372.00,520.77 372.50,520.77 373.00,520.77 373.50,520.77 374.00,520.77 374.50,520.78 375.00,520.78 375.50,520.78 376.00,520.78 376.50,520.78 377.00,520.79 377.50,520.79 378.00,520.79 378.50,520.79 379.00,520.80 379.50,520.80 380.00,520.80 380.50,520.80 381.00,520.80 381.50,520.81 382.00,520.81 382.50,520.81 383.00,520.81 383.50,520.82 384.00,520.82 384.50,520.82 385.00,520.82 385.50,520.82 386.00,520.83 386.50,520.83 387.00,520.83 387.50,520.83 388.00,520.84 388.50,520.84 389.00,520.84 389.50,520.84 390.00,520.85 390.50,520.85 391.00,520.85 391.50,520.85 392.00,520.86 392.50,520.86 393.00,520.86 393.50,520.86 394.00,520.87 394.50,520.87 395.00,520.87 395.50,520.87 396.00,520.88 396.50,520.88 397.00,520.88 397.50,520.88 398.00,520.89 398.50,520.89 399.00,520.89 399.50,520.89 400.00,520.90 400.50,520.90 401.00,520.90 401.50,520.90 402.00,520.91 402.50,520.91 403.00,520.91 403.50,520.91 404.00,520.92 404.50,520.92 405.00,520.92 405.50,520.93 406.00,520.93 406.50,520.93 407.00,520.93 407.50,520.94 408.00,520.94 408.50,520.94 409.00,520.94 409.50,520.95 410.00,520.95 410.50,520.95 411.00,520.95 411.50,520.96 412.00,520.96 412.50,520.96 413.00,520.97 413.50,520.97 414.00,520.97 414.50,520.97 415.00,520.98 415.50,520.98 416.00,520.98 416.50,520.98 417.00,520.99 417.50,520.99 418.00,520.99 418.50,521.00 419.00,521.00 419.50,521.00 420.00,521.00 420.50,521.01 421.00,521.01 421.50,521.01 422.00,521.02 422.50,521.02 423.00,521.02 423.50,521.02 424.00,521.03 424.50,521.03 425.00,521.03 425.50,521.03 426.00,521.04 426.50,521.04 427.00,521.04 427.50,521.05 428.00,521.05 428.50,521.05 429.00,521.05 429.50,521.06 430.00,521.06 430.50,521.06 431.00,521.07 431.50,521.07 432.00,521.07 432.50,521.07 433.00,521.08 433.50,521.08 434.00,521.08 434.50,521.08 435.00,521.09 435.50,521.09 436.00,521.09 436.50,521.10 437.00,521.10 437.50,521.10 438.00,521.10 438.50,521.11 439.00,521.11 439.50,521.11 440.00,521.12 440.50,521.12 441.00,521.12 441.50,521.12 442.00,521.13 442.50,521.13 443.00,521.13 443.50,521.13 444.00,521.14 444.50,521.14 445.00,521.14 445.50,521.15 446.00,521.15 446.50,521.15 447.00,521.15 447.50,521.16 448.00,521.16 448.50,521.16 449.00,521.17 449.50,521.17 450.00,521.17 450.50,521.17 451.00,521.18 451.50,521.18 452.00,521.18 452.50,521.18 453.00,521.19 453.50,521.19 454.00,521.19 454.50,521.19 455.00,521.20 455.50,521.20 455.50,521.50 130.00,521.50 129.50,521.50 129.00,521.50 128.50,521.50 128.00,521.50 127.50,521.50 127.00,521.50 126.50,521.50 126.00,521.50 125.50,521.50 125.00,521.50 124.50,521.50 124.00,521.50 123.50,521.49 123.00,521.49 122.50,521.48 122.00,521.47 121.50,521.46 121.00,521.44 120.50,521.43 120.00,521.41 119.50,521.39 119.00,521.37 118.50,521.34 118.00,521.32 117.50,521.29 117.00,521.26 116.50,521.22 116.00,521.19 115.50,521.15 115.00,521.11 114.50,521.07 114.00,521.03 113.50,520.98 113.00,520.94 112.50,520.89 112.00,520.84 111.50,520.79 111.00,520.74 110.50,520.69 110.00,520.64 109.50,520.59 109.00,520.53 108.50,520.48 108.00,520.43 107.50,520.37 107.00,520.32 106.50,520.27 106.00,520.21 105.50,520.16 105.00,520.11 104.50,520.06 104.00,520.01 103.50,519.96 103.00,519.91 102.50,519.86 102.00,519.82 101.50,519.77 101.00,519.73 100.50,519.69 100.00,519.65 99.50,519.61 99.00,519.58 98.50,519.54 98.00,519.51 97.50,519.48 97.00,519.46 96.50,519.43 96.00,519.41 95.50,519.39 95.00,519.37 94.50,519.36 94.00,519.34 93.50,519.33 93.00,519.32 92.50,519.31 92.00,519.31 91.50,519.30 91.00,519.30 90.50,519.30" fill="#b6b88a" />
<polygon points="91.00,517.00 130.00,517.00 130.00,517.60 91.00,517.60" fill="#6a6a98" opacity="0.6"/>
<line x1="130.50" y1="410.00" x2="130.50" y2="521.50" stroke="#000" stroke-width="1.10"/>
<line x1="341.40" y1="410.00" x2="341.40" y2="521.50" stroke="#000" stroke-width="1.10"/>
<line x1="373.90" y1="410.00" x2="373.90" y2="521.50" stroke="#000" stroke-width="1.10"/>
<line x1="455.30" y1="410.00" x2="455.30" y2="521.50" stroke="#000" stroke-width="1.10"/>
</g>
<line x1="74.00" y1="37.80" x2="74.00" y2="150.90" stroke="#5e5e60" stroke-width="1.70"/>
<line x1="74.00" y1="224.40" x2="74.00" y2="335.60" stroke="#5e5e60" stroke-width="1.70"/>
<line x1="74.00" y1="410.20" x2="74.00" y2="521.60" stroke="#5e5e60" stroke-width="1.70"/>
<text x="63.80" y="32.40" font-size="8.00" stroke="#231f20" stroke-width="0.2" textLength="21.00" lengthAdjust="spacingAndGlyphs" fill="#231f20" >100%</text>
<text x="68.00" y="161.90" font-size="8.00" stroke="#231f20" stroke-width="0.2" textLength="11.60" lengthAdjust="spacingAndGlyphs" fill="#231f20" >0%</text>
<text x="0.00" y="0.00" font-size="10.30" stroke="#231f20" stroke-width="0.2" textLength="64.50" lengthAdjust="spacingAndGlyphs" fill="#231f20" transform="translate(69.2,93.90) rotate(-90)" text-anchor="middle">Clonal prevalence</text>
<text x="63.80" y="219.60" font-size="8.00" stroke="#231f20" stroke-width="0.2" textLength="21.00" lengthAdjust="spacingAndGlyphs" fill="#231f20" >100%</text>
<text x="68.00" y="346.80" font-size="8.00" stroke="#231f20" stroke-width="0.2" textLength="11.60" lengthAdjust="spacingAndGlyphs" fill="#231f20" >0%</text>
<text x="0.00" y="0.00" font-size="10.30" stroke="#231f20" stroke-width="0.2" textLength="64.50" lengthAdjust="spacingAndGlyphs" fill="#231f20" transform="translate(69.2,280.10) rotate(-90)" text-anchor="middle">Clonal prevalence</text>
<text x="63.80" y="404.80" font-size="8.00" stroke="#231f20" stroke-width="0.2" textLength="21.00" lengthAdjust="spacingAndGlyphs" fill="#231f20" >100%</text>
<text x="68.00" y="532.80" font-size="8.00" stroke="#231f20" stroke-width="0.2" textLength="11.60" lengthAdjust="spacingAndGlyphs" fill="#231f20" >0%</text>
<text x="0.00" y="0.00" font-size="10.30" stroke="#231f20" stroke-width="0.2" textLength="64.50" lengthAdjust="spacingAndGlyphs" fill="#231f20" transform="translate(69.2,466.00) rotate(-90)" text-anchor="middle">Clonal prevalence</text>
<text x="7.50" y="17.90" font-size="12.00" font-weight="bold" stroke="#000" stroke-width="0.22" textLength="9.20" lengthAdjust="spacingAndGlyphs" fill="#000" >A</text>
<text x="26.80" y="17.90" font-size="10.00" stroke="#000" stroke-width="0.2" textLength="23.00" lengthAdjust="spacingAndGlyphs" fill="#000" >XF97</text>
<text x="8.00" y="205.00" font-size="12.00" font-weight="bold" stroke="#000" stroke-width="0.22" textLength="7.50" lengthAdjust="spacingAndGlyphs" fill="#000" >B</text>
<text x="26.50" y="205.00" font-size="10.00" stroke="#000" stroke-width="0.2" textLength="28.90" lengthAdjust="spacingAndGlyphs" fill="#000" >XF100</text>
<text x="7.50" y="389.10" font-size="12.00" font-weight="bold" stroke="#000" stroke-width="0.22" textLength="8.10" lengthAdjust="spacingAndGlyphs" fill="#000" >C</text>
<text x="26.40" y="389.50" font-size="10.00" stroke="#000" stroke-width="0.2" textLength="25.40" lengthAdjust="spacingAndGlyphs" fill="#000" >XD83</text>
<text x="116.10" y="16.80" font-size="8.00" stroke="#231f20" stroke-width="0.2" textLength="54.10" lengthAdjust="spacingAndGlyphs" fill="#231f20" >T0 (Diagnosis)</text>
<line x1="123.90" y1="22.00" x2="162.20" y2="22.00" stroke="#414042" stroke-width="1.30"/>
<text x="123.90" y="31.90" font-size="8.00" font-weight="bold" stroke="#000" stroke-width="0.22" textLength="12.60" lengthAdjust="spacingAndGlyphs" fill="#000" >BM</text>
<text x="152.10" y="31.90" font-size="8.00" font-weight="bold" stroke="#000" stroke-width="0.22" textLength="10.80" lengthAdjust="spacingAndGlyphs" fill="#000" >PB</text>
<text x="437.60" y="19.60" font-size="8.00" stroke="#231f20" stroke-width="0.2" textLength="36.80" lengthAdjust="spacingAndGlyphs" fill="#231f20" >T1 (MRD)</text>
<text x="449.00" y="32.20" font-size="8.00" font-weight="bold" stroke="#000" stroke-width="0.22" textLength="13.00" lengthAdjust="spacingAndGlyphs" fill="#000" >BM</text>
<text x="161.80" y="71.20" font-size="8.50" font-weight="bold" stroke="#ffffff" stroke-width="0.22" textLength="40.00" lengthAdjust="spacingAndGlyphs" fill="#ffffff" >C1 (6mut)</text>
<text x="161.80" y="79.70" font-size="7.00" stroke="#ffffff" stroke-width="0.2" textLength="14.70" lengthAdjust="spacingAndGlyphs" fill="#ffffff" >WT1</text>
<text x="178.30" y="79.70" font-size="5.50" stroke="#ffffff" stroke-width="0.2" textLength="25.90" lengthAdjust="spacingAndGlyphs" fill="#ffffff" >S386Vfs*4</text>
<text x="161.80" y="87.80" font-size="7.00" stroke="#ffffff" stroke-width="0.2" textLength="16.20" lengthAdjust="spacingAndGlyphs" fill="#ffffff" >USP7</text>
<text x="179.80" y="87.80" font-size="5.50" stroke="#ffffff" stroke-width="0.2" textLength="51.70" lengthAdjust="spacingAndGlyphs" fill="#ffffff" >D482delinsEYYAY*P</text>
<text x="161.80" y="95.50" font-size="7.00" stroke="#ffffff" stroke-width="0.2" textLength="16.20" lengthAdjust="spacingAndGlyphs" fill="#ffffff" >JAK3</text>
<text x="179.80" y="95.50" font-size="5.50" stroke="#ffffff" stroke-width="0.2" textLength="15.90" lengthAdjust="spacingAndGlyphs" fill="#ffffff" >M511I</text>
<text x="161.80" y="103.80" font-size="7.00" stroke="#ffffff" stroke-width="0.2" textLength="20.80" lengthAdjust="spacingAndGlyphs" fill="#ffffff" >DNM2</text>
<text x="184.40" y="103.80" font-size="5.50" stroke="#ffffff" stroke-width="0.2" textLength="16.60" lengthAdjust="spacingAndGlyphs" fill="#ffffff" >Q715*</text>
<text x="161.80" y="112.00" font-size="7.00" stroke="#ffffff" stroke-width="0.2" textLength="15.40" lengthAdjust="spacingAndGlyphs" fill="#ffffff" >JAK1</text>
<text x="179.00" y="112.00" font-size="5.50" stroke="#ffffff" stroke-width="0.2" textLength="16.70" lengthAdjust="spacingAndGlyphs" fill="#ffffff" >P815S</text>
<text x="161.80" y="119.70" font-size="7.00" stroke="#ffffff" stroke-width="0.2" textLength="31.90" lengthAdjust="spacingAndGlyphs" fill="#ffffff" >NOTCH1</text>
<text x="195.50" y="119.70" font-size="5.50" stroke="#ffffff" stroke-width="0.2" textLength="17.10" lengthAdjust="spacingAndGlyphs" fill="#ffffff" >L1585P</text>
<text x="161.90" y="143.00" font-size="8.50" font-weight="bold" stroke="#000" stroke-width="0.22" textLength="40.40" lengthAdjust="spacingAndGlyphs" fill="#000" >C2 (5mut)</text>
<text x="272.80" y="123.10" font-size="8.50" font-weight="bold" stroke="#ffffff" stroke-width="0.22" textLength="39.90" lengthAdjust="spacingAndGlyphs" fill="#ffffff" >C3 (5mut)</text>
<line x1="270.70" y1="124.80" x2="256.77" y2="143.45" stroke="#000" stroke-width="1.15"/><polygon points="254.20,146.90 255.39,141.80 258.75,144.31" fill="#000"/>
<text x="370.40" y="86.80" font-size="9.00" stroke="#ffffff" stroke-width="0.2" textLength="13.50" lengthAdjust="spacingAndGlyphs" fill="#ffffff" >WT</text>
<text x="128.80" y="161.50" font-size="8.50" stroke="#231f20" stroke-width="0.2" textLength="30.80" lengthAdjust="spacingAndGlyphs" fill="#231f20" >0 weeks</text>
<text x="440.10" y="161.40" font-size="8.50" stroke="#231f20" stroke-width="0.2" textLength="30.80" lengthAdjust="spacingAndGlyphs" fill="#231f20" >5 weeks</text>
<text x="167.70" y="171.50" font-size="8.50" font-weight="bold" stroke="#000" stroke-width="0.22" textLength="40.30" lengthAdjust="spacingAndGlyphs" fill="#000" >C4 (5mut)</text>
<line x1="187.70" y1="162.40" x2="187.13" y2="155.09" stroke="#000" stroke-width="1.15"/><polygon points="186.80,150.80 189.27,155.42 185.08,155.75" fill="#000"/>
<text x="214.70" y="171.50" font-size="8.50" font-weight="bold" stroke="#000" stroke-width="0.22" textLength="39.90" lengthAdjust="spacingAndGlyphs" fill="#000" >C5 (4mut)</text>
<line x1="234.20" y1="162.20" x2="227.35" y2="152.87" stroke="#000" stroke-width="1.15"/><polygon points="224.80,149.40 229.33,152.03 225.95,154.51" fill="#000"/>
<text x="274.30" y="175.40" font-size="9.80" stroke="#231f20" stroke-width="0.2" textLength="38.00" lengthAdjust="spacingAndGlyphs" fill="#231f20" >Time point</text>
<text x="112.00" y="203.80" font-size="8.00" stroke="#231f20" stroke-width="0.2" textLength="54.00" lengthAdjust="spacingAndGlyphs" fill="#231f20" >T0 (Diagnosis)</text>
<line x1="123.70" y1="208.90" x2="155.30" y2="208.90" stroke="#414042" stroke-width="1.30"/>
<text x="123.70" y="219.20" font-size="8.00" font-weight="bold" stroke="#000" stroke-width="0.22" textLength="14.00" lengthAdjust="spacingAndGlyphs" fill="#000" >BM</text>
<text x="143.70" y="219.20" font-size="8.00" font-weight="bold" stroke="#000" stroke-width="0.22" textLength="11.00" lengthAdjust="spacingAndGlyphs" fill="#000" >PB</text>
<text x="200.30" y="206.00" font-size="8.00" stroke="#231f20" stroke-width="0.2" textLength="8.10" lengthAdjust="spacingAndGlyphs" fill="#231f20" >T1</text>
<text x="199.70" y="219.20" font-size="8.00" font-weight="bold" stroke="#000" stroke-width="0.22" textLength="10.80" lengthAdjust="spacingAndGlyphs" fill="#000" >PB</text>
<text x="293.00" y="206.00" font-size="8.00" stroke="#231f20" stroke-width="0.2" textLength="9.00" lengthAdjust="spacingAndGlyphs" fill="#231f20" >T2</text>
<text x="292.00" y="219.20" font-size="8.00" font-weight="bold" stroke="#000" stroke-width="0.22" textLength="10.80" lengthAdjust="spacingAndGlyphs" fill="#000" >PB</text>
<text x="427.20" y="203.90" font-size="8.00" stroke="#231f20" stroke-width="0.2" textLength="36.80" lengthAdjust="spacingAndGlyphs" fill="#231f20" >T3 (MRD)</text>
<line x1="429.30" y1="207.80" x2="461.60" y2="207.80" stroke="#414042" stroke-width="1.30"/>
<text x="429.50" y="219.40" font-size="8.00" font-weight="bold" stroke="#000" stroke-width="0.22" textLength="13.50" lengthAdjust="spacingAndGlyphs" fill="#000" >BM</text>
<text x="449.60" y="219.40" font-size="8.00" font-weight="bold" stroke="#000" stroke-width="0.22" textLength="11.40" lengthAdjust="spacingAndGlyphs" fill="#000" >PB</text>
<text x="154.60" y="261.10" font-size="8.50" font-weight="bold" stroke="#ffffff" stroke-width="0.22" textLength="40.30" lengthAdjust="spacingAndGlyphs" fill="#ffffff" >C1 (3mut)</text>
<text x="154.60" y="268.80" font-size="7.00" stroke="#ffffff" stroke-width="0.2" textLength="14.90" lengthAdjust="spacingAndGlyphs" fill="#ffffff" >WT1</text>
<text x="171.30" y="268.80" font-size="5.50" stroke="#ffffff" stroke-width="0.2" textLength="28.70" lengthAdjust="spacingAndGlyphs" fill="#ffffff" >V376Lfs*5</text>
<text x="154.60" y="276.50" font-size="7.00" stroke="#ffffff" stroke-width="0.2" textLength="27.70" lengthAdjust="spacingAndGlyphs" fill="#ffffff" >NOTCH1</text>
<text x="184.10" y="276.50" font-size="5.50" stroke="#ffffff" stroke-width="0.2" textLength="18.20" lengthAdjust="spacingAndGlyphs" fill="#ffffff" >I1718T</text>
<text x="154.60" y="285.10" font-size="7.00" stroke="#ffffff" stroke-width="0.2" textLength="27.70" lengthAdjust="spacingAndGlyphs" fill="#ffffff" >NOTCH1</text>
<text x="184.10" y="285.10" font-size="5.50" stroke="#ffffff" stroke-width="0.2" textLength="33.10" lengthAdjust="spacingAndGlyphs" fill="#ffffff" >I2456Gfs*24</text>
<text x="155.00" y="301.20" font-size="8.50" font-weight="bold" stroke="#000" stroke-width="0.22" textLength="39.30" lengthAdjust="spacingAndGlyphs" fill="#000" >C2 (2mut)</text>
<text x="155.00" y="313.70" font-size="8.50" font-weight="bold" stroke="#ffffff" stroke-width="0.22" textLength="39.30" lengthAdjust="spacingAndGlyphs" fill="#ffffff" >C3 (2mut)</text>
<text x="155.00" y="325.00" font-size="8.50" font-weight="bold" stroke="#000" stroke-width="0.22" textLength="39.30" lengthAdjust="spacingAndGlyphs" fill="#000" >C4 (1mut)</text>
<text x="155.00" y="333.00" font-size="7.00" stroke="#000" stroke-width="0.2" textLength="14.50" lengthAdjust="spacingAndGlyphs" fill="#000" >WT1</text>
<text x="171.30" y="333.00" font-size="5.00" stroke="#000" stroke-width="0.2" textLength="29.00" lengthAdjust="spacingAndGlyphs" fill="#000" >V376Lfs*5</text>
<text x="244.80" y="259.10" font-size="9.00" stroke="#ffffff" stroke-width="0.2" textLength="12.70" lengthAdjust="spacingAndGlyphs" fill="#ffffff" >WT</text>
<text x="127.70" y="346.50" font-size="8.50" stroke="#231f20" stroke-width="0.2" textLength="25.40" lengthAdjust="spacingAndGlyphs" fill="#231f20" >0 days</text>
<text x="192.50" y="346.50" font-size="8.50" stroke="#231f20" stroke-width="0.2" textLength="24.50" lengthAdjust="spacingAndGlyphs" fill="#231f20" >5 days</text>
<text x="283.20" y="346.50" font-size="8.50" stroke="#231f20" stroke-width="0.2" textLength="29.30" lengthAdjust="spacingAndGlyphs" fill="#231f20" >11 days</text>
<text x="430.00" y="346.50" font-size="8.50" stroke="#231f20" stroke-width="0.2" textLength="29.00" lengthAdjust="spacingAndGlyphs" fill="#231f20" >35 days</text>
<text x="279.80" y="360.60" font-size="9.80" stroke="#231f20" stroke-width="0.2" textLength="37.70" lengthAdjust="spacingAndGlyphs" fill="#231f20" >Time point</text>
<text x="461.60" y="280.80" font-size="6.10" stroke="#231f20" stroke-width="0.2" textLength="25.40" lengthAdjust="spacingAndGlyphs" fill="#231f20" >Residual</text>
<text x="461.60" y="289.50" font-size="6.10" stroke="#231f20" stroke-width="0.2" textLength="46.20" lengthAdjust="spacingAndGlyphs" fill="#231f20" >Leukemic cells:</text>
<text x="463.10" y="301.00" font-size="7.20" font-weight="bold" stroke="#000" stroke-width="0.22" textLength="10.80" lengthAdjust="spacingAndGlyphs" fill="#000" >C2</text>
<text x="463.10" y="309.70" font-size="6.10" stroke="#231f20" stroke-width="0.2" textLength="44.00" lengthAdjust="spacingAndGlyphs" fill="#231f20" >17 cells (0.2%)</text>
<text x="463.10" y="320.50" font-size="7.20" font-weight="bold" stroke="#000" stroke-width="0.22" textLength="10.80" lengthAdjust="spacingAndGlyphs" fill="#000" >C4</text>
<text x="463.10" y="328.40" font-size="6.10" stroke="#231f20" stroke-width="0.2" textLength="44.00" lengthAdjust="spacingAndGlyphs" fill="#231f20" >28 cells (0.3%)</text>
<line x1="461.60" y1="302.50" x2="448.31" y2="331.10" stroke="#000" stroke-width="1.15"/><polygon points="446.50,335.00 446.62,329.76 450.43,331.53" fill="#000"/>
<line x1="462.40" y1="322.70" x2="451.59" y2="331.83" stroke="#000" stroke-width="1.15"/><polygon points="448.30,334.60 450.61,329.90 453.32,333.11" fill="#000"/>
<text x="103.80" y="392.40" font-size="8.00" stroke="#231f20" stroke-width="0.2" textLength="54.00" lengthAdjust="spacingAndGlyphs" fill="#231f20" >T0 (Diagnosis)</text>
<text x="124.00" y="404.60" font-size="8.00" font-weight="bold" stroke="#000" stroke-width="0.22" textLength="13.50" lengthAdjust="spacingAndGlyphs" fill="#000" >BM</text>
<text x="330.00" y="388.40" font-size="8.00" stroke="#231f20" stroke-width="0.2" textLength="54.00" lengthAdjust="spacingAndGlyphs" fill="#231f20" >T1 (Relapse 1)</text>
<line x1="335.40" y1="393.50" x2="378.50" y2="393.50" stroke="#414042" stroke-width="1.30"/>
<text x="334.90" y="404.00" font-size="8.00" font-weight="bold" stroke="#000" stroke-width="0.22" textLength="13.40" lengthAdjust="spacingAndGlyphs" fill="#000" >BM</text>
<text x="369.00" y="404.00" font-size="8.00" font-weight="bold" stroke="#000" stroke-width="0.22" textLength="10.90" lengthAdjust="spacingAndGlyphs" fill="#000" >PB</text>
<text x="428.40" y="392.40" font-size="8.00" stroke="#231f20" stroke-width="0.2" textLength="54.10" lengthAdjust="spacingAndGlyphs" fill="#231f20" >T2 (Relapse 2)</text>
<text x="450.50" y="404.00" font-size="8.00" font-weight="bold" stroke="#000" stroke-width="0.22" textLength="10.20" lengthAdjust="spacingAndGlyphs" fill="#000" >PB</text>
<text x="146.50" y="420.00" font-size="8.50" font-weight="bold" stroke="#ffffff" stroke-width="0.22" textLength="9.70" lengthAdjust="spacingAndGlyphs" fill="#ffffff" >C1</text>
<text x="146.20" y="428.60" font-size="6.60" stroke="#e2edd9" stroke-width="0.2" textLength="18.80" lengthAdjust="spacingAndGlyphs" fill="#e2edd9" >4 cells</text>
<line x1="144.60" y1="421.20" x2="133.95" y2="431.77" stroke="#000" stroke-width="1.15"/><polygon points="130.90,434.80 132.83,429.93 135.79,432.91" fill="#000"/>
<text x="253.10" y="424.90" font-size="9.00" stroke="#ffffff" stroke-width="0.2" textLength="13.10" lengthAdjust="spacingAndGlyphs" fill="#ffffff" >WT</text>
<text x="148.75" y="467.10" font-size="8.50" font-weight="bold" stroke="#000" stroke-width="0.22" textLength="40.60" lengthAdjust="spacingAndGlyphs" fill="#000" >D1 (1mut)</text>
<text x="144.40" y="475.00" font-size="7.00" stroke="#231f20" stroke-width="0.2" textLength="28.10" lengthAdjust="spacingAndGlyphs" fill="#231f20" >NOTCH1</text>
<text x="175.00" y="475.00" font-size="5.40" stroke="#231f20" stroke-width="0.2" textLength="18.50" lengthAdjust="spacingAndGlyphs" fill="#231f20" >F1606L</text>
<text x="140.60" y="498.75" font-size="8.50" font-weight="bold" stroke="#000" stroke-width="0.22" textLength="40.60" lengthAdjust="spacingAndGlyphs" fill="#000" >D2 (1mut)</text>
<text x="138.10" y="506.50" font-size="7.00" stroke="#231f20" stroke-width="0.2" textLength="16.90" lengthAdjust="spacingAndGlyphs" fill="#231f20" >PTEN</text>
<text x="157.50" y="506.50" font-size="5.40" stroke="#231f20" stroke-width="0.2" textLength="26.20" lengthAdjust="spacingAndGlyphs" fill="#231f20" >P246Rfs*9</text>
<line x1="152.60" y1="509.50" x2="148.00" y2="515.57" stroke="#000" stroke-width="1.15"/><polygon points="145.40,519.00 146.63,513.91 149.97,516.44" fill="#000"/>
<text x="286.20" y="460.80" font-size="8.50" font-weight="bold" stroke="#ffffff" stroke-width="0.22" textLength="39.70" lengthAdjust="spacingAndGlyphs" fill="#ffffff" >C1 (1mut)</text>
<text x="278.70" y="468.90" font-size="7.00" stroke="#ffffff" stroke-width="0.2" textLength="27.90" lengthAdjust="spacingAndGlyphs" fill="#ffffff" >NOTCH1</text>
<text x="309.00" y="468.90" font-size="5.40" stroke="#ffffff" stroke-width="0.2" textLength="24.30" lengthAdjust="spacingAndGlyphs" fill="#ffffff" >V1578del</text>
<text x="298.00" y="502.30" font-size="8.50" font-weight="bold" stroke="#ffffff" stroke-width="0.22" textLength="39.70" lengthAdjust="spacingAndGlyphs" fill="#ffffff" >C2 (3mut)</text>
<text x="343.50" y="511.00" font-size="8.50" font-weight="bold" stroke="#ffffff" stroke-width="0.22" textLength="39.50" lengthAdjust="spacingAndGlyphs" fill="#ffffff" >C4 (2mut)</text>
<text x="406.80" y="473.20" font-size="8.50" font-weight="bold" stroke="#000" stroke-width="0.22" textLength="45.80" lengthAdjust="spacingAndGlyphs" fill="#000" >R2.1 (1mut)</text>
<text x="406.40" y="482.10" font-size="7.00" stroke="#231f20" stroke-width="0.2" textLength="17.10" lengthAdjust="spacingAndGlyphs" fill="#231f20" >PTEN</text>
<text x="426.00" y="482.10" font-size="5.40" stroke="#231f20" stroke-width="0.2" textLength="26.00" lengthAdjust="spacingAndGlyphs" fill="#231f20" >K267Rfs*9</text>
<text x="465.60" y="491.70" font-size="8.50" font-weight="bold" stroke="#000" stroke-width="0.22" textLength="46.70" lengthAdjust="spacingAndGlyphs" fill="#000" >R2.2 (2mut)</text>
<text x="465.60" y="499.80" font-size="6.80" stroke="#231f20" stroke-width="0.2" textLength="15.80" lengthAdjust="spacingAndGlyphs" fill="#231f20" >PTEN</text>
<text x="483.50" y="499.80" font-size="5.40" stroke="#231f20" stroke-width="0.2" textLength="26.90" lengthAdjust="spacingAndGlyphs" fill="#231f20" >K267Rfs*9</text>
<text x="465.60" y="507.60" font-size="6.80" stroke="#231f20" stroke-width="0.2" textLength="15.80" lengthAdjust="spacingAndGlyphs" fill="#231f20" >TP53</text>
<text x="483.00" y="507.60" font-size="5.40" stroke="#231f20" stroke-width="0.2" textLength="16.20" lengthAdjust="spacingAndGlyphs" fill="#231f20" >C137Y</text>
<line x1="462.00" y1="504.00" x2="452.79" y2="508.96" stroke="#000" stroke-width="1.15"/><polygon points="449.00,511.00 452.23,506.88 454.22,510.57" fill="#000"/>
<text x="111.90" y="532.10" font-size="8.50" stroke="#231f20" stroke-width="0.2" textLength="36.10" lengthAdjust="spacingAndGlyphs" fill="#231f20" >0 months</text>
<text x="334.90" y="532.10" font-size="8.50" stroke="#231f20" stroke-width="0.2" textLength="48.20" lengthAdjust="spacingAndGlyphs" fill="#231f20" >22.5 months</text>
<text x="428.90" y="532.10" font-size="8.50" stroke="#231f20" stroke-width="0.2" textLength="40.70" lengthAdjust="spacingAndGlyphs" fill="#231f20" >26 months</text>
<text x="288.50" y="538.40" font-size="8.50" font-weight="bold" stroke="#000" stroke-width="0.22" textLength="39.40" lengthAdjust="spacingAndGlyphs" fill="#000" >C6 (1mut)</text>
<line x1="308.00" y1="528.50" x2="317.26" y2="517.31" stroke="#000" stroke-width="1.15"/><polygon points="320.00,514.00 318.56,519.04 315.32,516.36" fill="#000"/>
<text x="312.10" y="548.80" font-size="8.50" font-weight="bold" stroke="#000" stroke-width="0.22" textLength="40.00" lengthAdjust="spacingAndGlyphs" fill="#000" >C3 (2mut)</text>
<line x1="331.30" y1="541.00" x2="331.30" y2="525.80" stroke="#000" stroke-width="1.15"/><polygon points="331.30,521.50 333.40,526.30 329.20,526.30" fill="#000"/>
<text x="386.60" y="542.20" font-size="8.50" font-weight="bold" stroke="#000" stroke-width="0.22" textLength="39.60" lengthAdjust="spacingAndGlyphs" fill="#000" >C5 (1mut)</text>
<line x1="406.80" y1="532.00" x2="398.96" y2="523.72" stroke="#000" stroke-width="1.15"/><polygon points="396.00,520.60 400.83,522.64 397.78,525.53" fill="#000"/>
<text x="244.00" y="546.80" font-size="9.80" stroke="#231f20" stroke-width="0.2" textLength="38.10" lengthAdjust="spacingAndGlyphs" fill="#231f20" >Time point</text>
<rect x="0.6" y="0.6" width="518.8" height="557.8" fill="none" stroke="#000" stroke-width="1.3"/>
</svg>
</body></html>
